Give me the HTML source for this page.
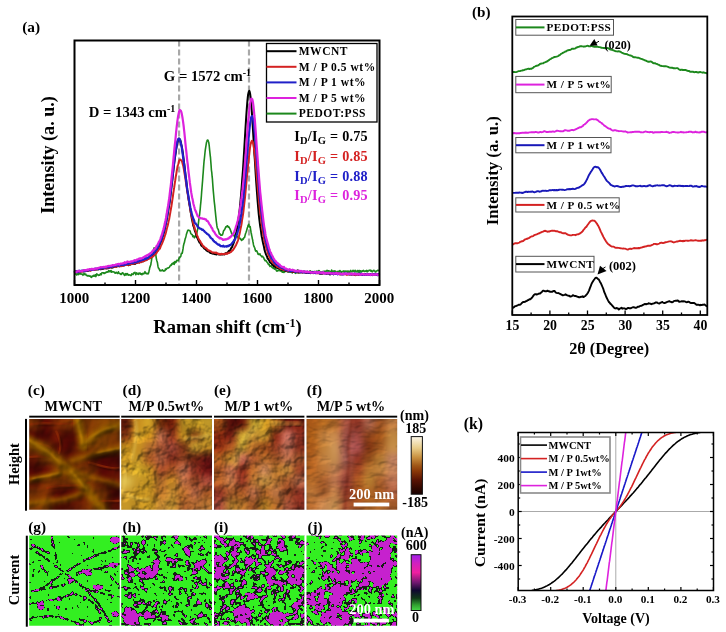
<!DOCTYPE html><html><head><meta charset="utf-8"><style>html,body{margin:0;padding:0;background:#fff;}svg{display:block;font-family:"Liberation Serif",serif;filter:blur(0.3px);}</style></head><body>
<svg width="726" height="632" viewBox="0 0 726 632">
<rect width="726" height="632" fill="#fff"/>
<text x="22.2" y="32.3" font-size="15.4" text-anchor="start" font-weight="bold" fill="#000" >(a)</text>
<line x1="179.1" y1="40.5" x2="179.1" y2="285" stroke="#a8a8a8" stroke-width="2.2" stroke-dasharray="6,3"/>
<line x1="249.0" y1="40.5" x2="249.0" y2="285" stroke="#a8a8a8" stroke-width="2.2" stroke-dasharray="6,3"/>
<path d="M74.5 274.1L74.8 274.0L75.1 274.0L75.4 273.5L75.7 273.5L76.0 274.0L76.3 274.5L76.6 274.9L76.9 274.6L77.2 274.6L77.5 274.3L77.9 273.6L78.2 273.7L78.5 273.8L78.8 274.6L79.1 273.7L79.4 272.9L79.7 272.4L80.0 272.8L80.3 273.6L80.6 273.9L80.9 274.2L81.2 273.9L81.5 274.0L81.8 274.0L82.1 274.0L82.4 274.5L82.7 274.6L83.0 275.3L83.3 274.4L83.7 274.0L84.0 273.5L84.3 273.7L84.6 274.3L84.9 274.6L85.2 274.6L85.5 274.2L85.8 274.1L86.1 274.9L86.4 275.2L86.7 275.6L87.0 275.6L87.3 275.5L87.6 275.6L87.9 276.1L88.2 276.0L88.5 276.0L88.8 275.5L89.1 276.0L89.4 276.3L89.8 276.3L90.1 276.0L90.4 276.1L90.7 276.4L91.0 277.2L91.3 277.4L91.6 277.3L91.9 277.0L92.2 276.0L92.5 276.1L92.8 275.9L93.1 276.2L93.4 275.5L93.7 275.3L94.0 275.3L94.3 276.2L94.6 275.7L94.9 275.3L95.2 274.8L95.5 276.0L95.8 276.6L96.2 275.7L96.5 274.1L96.8 273.9L97.1 274.2L97.4 274.6L97.7 274.7L98.0 275.2L98.3 275.5L98.6 275.1L98.9 274.8L99.2 275.2L99.5 275.2L99.8 275.1L100.1 274.6L100.4 273.7L100.7 273.9L101.0 274.0L101.3 274.7L101.6 273.4L102.0 272.7L102.3 272.7L102.6 272.7L102.9 272.8L103.2 272.7L103.5 272.8L103.8 273.4L104.1 273.1L104.4 273.4L104.7 272.9L105.0 272.8L105.3 272.8L105.6 273.0L105.9 272.4L106.2 272.1L106.5 272.0L106.8 272.1L107.1 271.8L107.4 271.7L107.7 272.1L108.0 272.2L108.4 271.3L108.7 270.6L109.0 270.7L109.3 271.0L109.6 271.6L109.9 271.2L110.2 271.8L110.5 270.8L110.8 270.9L111.1 270.6L111.4 271.5L111.7 272.2L112.0 272.1L112.3 271.8L112.6 271.6L112.9 271.8L113.2 271.7L113.5 271.9L113.8 272.0L114.2 272.1L114.5 272.4L114.8 272.5L115.1 273.3L115.4 273.2L115.7 273.0L116.0 272.2L116.3 272.2L116.6 272.8L116.9 272.9L117.2 273.1L117.5 273.5L117.8 272.8L118.1 272.3L118.4 271.8L118.7 272.9L119.0 273.5L119.3 273.3L119.6 273.5L119.9 273.6L120.2 273.6L120.6 274.3L120.9 274.4L121.2 274.4L121.5 273.5L121.8 273.4L122.1 273.6L122.4 272.7L122.7 272.7L123.0 273.1L123.3 273.8L123.6 274.0L123.9 274.0L124.2 274.9L124.5 275.5L124.8 274.6L125.1 274.2L125.4 273.6L125.7 274.5L126.0 275.0L126.3 274.2L126.7 274.4L127.0 273.5L127.3 274.8L127.6 273.8L127.9 274.4L128.2 274.6L128.5 275.1L128.8 275.1L129.1 274.9L129.4 275.0L129.7 274.8L130.0 275.0L130.3 275.3L130.6 275.2L130.9 275.6L131.2 274.7L131.5 275.1L131.8 273.9L132.1 274.3L132.4 274.2L132.8 274.3L133.1 274.4L133.4 273.6L133.7 272.9L134.0 272.8L134.3 273.0L134.6 273.1L134.9 272.3L135.2 273.1L135.5 273.7L135.8 274.8L136.1 274.0L136.4 273.7L136.7 272.7L137.0 273.3L137.3 273.9L137.6 274.0L137.9 274.2L138.2 274.0L138.6 274.3L138.9 273.0L139.2 273.1L139.5 273.1L139.8 273.6L140.1 273.2L140.4 273.4L140.7 274.2L141.0 273.7L141.3 273.9L141.6 273.9L141.9 274.8L142.2 274.3L142.5 273.5L142.8 273.4L143.1 273.5L143.4 273.8L143.7 273.9L144.0 273.8L144.3 272.9L144.7 272.2L145.0 271.6L145.3 272.8L145.6 273.0L145.9 273.4L146.2 273.1L146.5 273.3L146.8 273.5L147.1 273.9L147.4 273.4L147.7 273.6L148.0 273.5L148.3 273.8L148.6 272.8L148.9 272.0L149.2 270.1L149.5 269.2L149.8 267.1L150.1 267.0L150.4 265.6L150.8 264.8L151.1 262.6L151.4 261.2L151.7 259.0L152.0 257.2L152.3 255.9L152.6 254.3L152.9 252.7L153.2 251.1L153.5 249.9L153.8 248.6L154.1 247.8L154.4 248.5L154.7 248.9L155.0 249.9L155.3 251.2L155.6 253.7L155.9 255.7L156.2 257.6L156.5 259.3L156.8 260.7L157.2 261.7L157.5 263.0L157.8 265.3L158.1 266.9L158.4 268.0L158.7 268.2L159.0 268.6L159.3 269.5L159.6 269.7L159.9 270.7L160.2 270.1L160.5 270.8L160.8 270.4L161.1 270.6L161.4 270.7L161.7 270.7L162.0 270.5L162.3 269.8L162.6 269.9L162.9 270.4L163.3 270.9L163.6 270.9L163.9 271.1L164.2 270.8L164.5 270.8L164.8 270.6L165.1 270.5L165.4 269.0L165.7 268.9L166.0 269.0L166.3 269.4L166.6 268.7L166.9 268.7L167.2 268.0L167.5 268.1L167.8 268.0L168.1 268.1L168.4 267.9L168.7 267.5L169.1 267.5L169.4 267.2L169.7 266.6L170.0 266.1L170.3 265.6L170.6 265.1L170.9 265.5L171.2 265.3L171.5 264.9L171.8 264.0L172.1 263.6L172.4 263.8L172.7 264.0L173.0 263.5L173.3 262.7L173.6 263.4L173.9 263.9L174.2 264.3L174.5 262.1L174.8 261.7L175.2 261.5L175.5 262.8L175.8 262.5L176.1 262.1L176.4 261.5L176.7 260.4L177.0 260.6L177.3 260.3L177.6 260.5L177.9 260.3L178.2 260.6L178.5 260.0L178.8 258.9L179.1 258.0L179.4 258.1L179.7 257.7L180.0 256.8L180.3 256.9L180.6 256.8L180.9 256.0L181.2 253.9L181.6 253.3L181.9 253.2L182.2 253.4L182.5 252.0L182.8 250.1L183.1 248.4L183.4 246.0L183.7 244.7L184.0 243.3L184.3 242.9L184.6 241.5L184.9 240.1L185.2 238.8L185.5 237.9L185.8 236.9L186.1 235.7L186.4 234.3L186.7 233.4L187.0 232.5L187.3 231.7L187.7 230.6L188.0 230.1L188.3 230.1L188.6 230.3L188.9 230.3L189.2 230.5L189.5 230.7L189.8 230.6L190.1 231.1L190.4 232.1L190.7 233.3L191.0 233.7L191.3 234.1L191.6 234.3L191.9 234.3L192.2 234.7L192.5 235.3L192.8 236.7L193.1 236.7L193.4 236.4L193.8 235.9L194.1 237.0L194.4 237.8L194.7 237.5L195.0 236.4L195.3 236.3L195.6 236.4L195.9 236.0L196.2 235.5L196.5 234.5L196.8 233.3L197.1 231.6L197.4 230.4L197.7 229.1L198.0 227.4L198.3 224.3L198.6 221.7L198.9 219.2L199.2 216.9L199.6 214.6L199.9 211.7L200.2 209.1L200.5 205.4L200.8 202.7L201.1 199.4L201.4 195.8L201.7 191.2L202.0 187.9L202.3 184.1L202.6 180.5L202.9 176.1L203.2 172.5L203.5 168.1L203.8 164.2L204.1 160.8L204.4 158.4L204.7 155.5L205.0 152.5L205.3 149.8L205.7 147.4L206.0 145.5L206.3 143.6L206.6 142.0L206.9 141.2L207.2 140.3L207.5 140.0L207.8 140.0L208.1 140.4L208.4 141.5L208.7 142.1L209.0 144.1L209.3 146.5L209.6 149.9L209.9 152.7L210.2 155.3L210.5 157.7L210.8 161.7L211.1 165.5L211.4 170.0L211.8 172.7L212.1 176.2L212.4 178.9L212.7 183.3L213.0 187.4L213.3 191.1L213.6 194.3L213.9 197.7L214.2 201.1L214.5 203.7L214.8 206.2L215.1 209.5L215.4 212.4L215.7 215.4L216.0 218.1L216.3 221.1L216.6 223.3L216.9 225.7L217.2 227.5L217.5 228.3L217.8 228.9L218.2 229.3L218.5 230.5L218.8 231.6L219.1 232.8L219.4 234.0L219.7 234.0L220.0 234.0L220.3 234.1L220.6 234.9L220.9 235.3L221.2 235.3L221.5 235.0L221.8 235.2L222.1 235.1L222.4 235.0L222.7 234.0L223.0 233.3L223.3 231.7L223.6 230.9L223.9 230.3L224.3 230.0L224.6 229.7L224.9 229.0L225.2 228.4L225.5 227.5L225.8 226.8L226.1 227.0L226.4 226.9L226.7 226.7L227.0 226.1L227.3 225.7L227.6 225.8L227.9 226.6L228.2 227.1L228.5 227.2L228.8 226.9L229.1 227.2L229.4 227.8L229.7 228.5L230.1 229.2L230.4 229.9L230.7 230.9L231.0 231.7L231.3 232.3L231.6 233.6L231.9 233.7L232.2 234.6L232.5 234.1L232.8 235.0L233.1 234.0L233.4 233.9L233.7 233.8L234.0 235.0L234.3 236.3L234.6 236.5L234.9 236.9L235.2 236.5L235.5 236.8L235.8 236.7L236.2 236.5L236.5 236.5L236.8 236.1L237.1 236.7L237.4 236.3L237.7 237.0L238.0 237.5L238.3 238.0L238.6 238.1L238.9 237.9L239.2 238.2L239.5 238.1L239.8 238.0L240.1 238.4L240.4 239.2L240.7 239.0L241.0 239.6L241.3 240.0L241.6 240.4L241.9 240.0L242.2 239.2L242.6 239.7L242.9 239.2L243.2 239.4L243.5 238.4L243.8 238.0L244.1 237.5L244.4 237.5L244.7 237.0L245.0 235.6L245.3 234.5L245.6 233.4L245.9 232.7L246.2 231.8L246.5 231.1L246.8 229.7L247.1 228.9L247.4 227.6L247.7 227.3L248.0 225.6L248.3 225.3L248.7 224.2L249.0 225.2L249.3 226.1L249.6 227.0L249.9 226.6L250.2 226.6L250.5 228.8L250.8 230.6L251.1 232.7L251.4 233.8L251.7 235.6L252.0 236.9L252.3 238.6L252.6 239.7L252.9 241.5L253.2 243.0L253.5 244.9L253.8 246.0L254.1 246.5L254.4 247.3L254.8 248.0L255.1 249.6L255.4 250.5L255.7 251.1L256.0 250.8L256.3 250.7L256.6 250.8L256.9 251.2L257.2 251.8L257.5 252.7L257.8 253.3L258.1 254.2L258.4 254.0L258.7 254.1L259.0 254.6L259.3 254.4L259.6 254.5L259.9 253.8L260.2 254.8L260.6 255.4L260.9 255.6L261.2 255.9L261.5 256.1L261.8 256.8L262.1 256.3L262.4 256.2L262.7 256.3L263.0 256.9L263.3 257.2L263.6 257.8L263.9 258.2L264.2 259.2L264.5 259.6L264.8 260.3L265.1 260.6L265.4 260.6L265.7 260.4L266.0 260.5L266.3 261.1L266.6 261.7L267.0 262.1L267.3 262.5L267.6 262.7L267.9 263.3L268.2 264.1L268.5 264.5L268.8 264.7L269.1 264.3L269.4 265.3L269.7 265.7L270.0 266.4L270.3 265.9L270.6 266.0L270.9 266.0L271.2 265.9L271.5 266.7L271.8 267.2L272.1 267.5L272.4 267.5L272.8 267.3L273.1 268.4L273.4 268.4L273.7 268.1L274.0 268.1L274.3 268.7L274.6 269.2L274.9 269.1L275.2 268.2L275.5 268.1L275.8 268.8L276.1 270.0L276.4 270.8L276.7 270.9L277.0 271.2L277.3 270.9L277.6 270.7L277.9 270.2L278.2 270.7L278.5 270.6L278.9 270.1L279.2 270.1L279.5 270.6L279.8 270.6L280.1 270.5L280.4 270.3L280.7 271.0L281.0 271.1L281.3 271.3L281.6 271.0L281.9 271.5L282.2 272.1L282.5 272.1L282.8 272.1L283.1 271.3L283.4 271.5L283.7 271.5L284.0 272.4L284.3 272.2L284.6 271.9L284.9 271.5L285.3 271.1L285.6 271.1L285.9 270.8L286.2 271.5L286.5 271.1L286.8 270.7L287.1 270.6L287.4 271.1L287.7 271.6L288.0 271.9L288.3 271.7L288.6 271.7L288.9 271.6L289.2 271.1L289.5 271.1L289.8 270.9L290.1 271.8L290.4 272.0L290.7 272.1L291.1 271.6L291.4 271.8L291.7 272.3L292.0 272.3L292.3 273.0L292.6 272.2L292.9 272.4L293.2 271.6L293.5 272.2L293.8 271.8L294.1 270.9L294.4 270.8L294.7 271.5L295.0 272.5L295.3 273.3L295.6 273.1L295.9 272.9L296.2 272.3L296.5 272.4L296.8 272.9L297.1 272.1L297.5 271.8L297.8 269.9L298.1 270.7L298.4 270.7L298.7 272.3L299.0 272.8L299.3 272.9L299.6 272.5L299.9 271.5L300.2 271.2L300.5 271.0L300.8 271.5L301.1 271.8L301.4 272.0L301.7 271.7L302.0 272.1L302.3 272.2L302.6 272.2L302.9 272.1L303.2 271.9L303.6 271.5L303.9 271.8L304.2 272.0L304.5 272.1L304.8 271.9L305.1 271.9L305.4 271.7L305.7 271.9L306.0 271.9L306.3 272.8L306.6 272.2L306.9 272.1L307.2 271.2L307.5 271.4L307.8 271.5L308.1 272.0L308.4 271.7L308.7 271.7L309.0 272.1L309.4 271.8L309.7 271.8L310.0 270.7L310.3 270.7L310.6 271.0L310.9 272.3L311.2 272.3L311.5 272.0L311.8 272.1L312.1 272.1L312.4 272.4L312.7 272.4L313.0 272.6L313.3 272.7L313.6 271.9L313.9 271.9L314.2 271.4L314.5 271.7L314.8 272.1L315.1 273.0L315.4 272.7L315.8 272.0L316.1 271.4L316.4 271.2L316.7 271.6L317.0 271.6L317.3 271.9L317.6 271.9L317.9 271.1L318.2 271.5L318.5 270.7L318.8 271.1L319.1 270.6L319.4 271.0L319.7 271.6L320.0 271.8L320.3 271.8L320.6 271.7L320.9 272.2L321.2 272.4L321.6 272.3L321.9 272.2L322.2 272.3L322.5 271.6L322.8 272.1L323.1 272.8L323.4 272.5L323.7 271.6L324.0 271.0L324.3 272.0L324.6 272.3L324.9 272.0L325.2 271.3L325.5 271.1L325.8 271.6L326.1 271.5L326.4 271.1L326.7 270.7L327.0 270.4L327.3 270.7L327.6 270.5L328.0 271.4L328.3 271.3L328.6 271.1L328.9 270.8L329.2 271.0L329.5 271.1L329.8 271.2L330.1 271.5L330.4 272.2L330.7 272.8L331.0 272.2L331.3 271.7L331.6 270.1L331.9 271.1L332.2 271.0L332.5 271.9L332.8 271.4L333.1 271.1L333.4 271.3L333.8 271.1L334.1 270.9L334.4 270.9L334.7 271.3L335.0 271.3L335.3 271.5L335.6 271.1L335.9 272.0L336.2 271.8L336.5 272.2L336.8 272.0L337.1 272.1L337.4 271.5L337.7 271.8L338.0 271.2L338.3 271.3L338.6 271.7L338.9 272.2L339.2 272.1L339.5 271.1L339.9 270.6L340.2 270.7L340.5 271.5L340.8 272.0L341.1 272.1L341.4 271.7L341.7 272.0L342.0 271.7L342.3 271.5L342.6 271.3L342.9 271.5L343.2 271.6L343.5 271.1L343.8 270.9L344.1 271.3L344.4 271.6L344.7 271.3L345.0 271.2L345.3 271.1L345.6 271.2L345.9 271.3L346.3 271.1L346.6 271.4L346.9 271.4L347.2 272.0L347.5 271.8L347.8 271.7L348.1 270.9L348.4 272.0L348.7 271.6L349.0 272.4L349.3 271.3L349.6 271.8L349.9 272.2L350.2 271.5L350.5 271.0L350.8 270.4L351.1 271.3L351.4 271.2L351.7 271.8L352.1 271.8L352.4 271.5L352.7 271.0L353.0 270.3L353.3 271.4L353.6 270.8L353.9 271.5L354.2 271.6L354.5 271.8L354.8 271.2L355.1 270.2L355.4 270.5L355.7 271.3L356.0 271.6L356.3 271.5L356.6 271.4L356.9 272.0L357.2 270.8L357.5 270.5L357.8 270.6L358.1 271.7L358.5 272.1L358.8 270.9L359.1 270.7L359.4 270.5L359.7 272.4L360.0 272.0L360.3 271.7L360.6 270.7L360.9 271.4L361.2 271.4L361.5 271.8L361.8 271.1L362.1 271.4L362.4 270.8L362.7 271.1L363.0 270.8L363.3 270.4L363.6 270.7L363.9 271.1L364.2 271.5L364.6 271.1L364.9 271.4L365.2 271.2L365.5 271.1L365.8 270.9L366.1 271.5L366.4 271.4L366.7 270.4L367.0 270.7L367.3 270.9L367.6 271.7L367.9 271.1L368.2 271.1L368.5 270.9L368.8 270.7L369.1 270.3L369.4 270.2L369.7 270.4L370.0 270.2L370.4 270.7L370.7 270.4L371.0 271.1L371.3 270.5L371.6 271.1L371.9 271.3L372.2 271.8L372.5 271.4L372.8 270.9L373.1 270.9L373.4 270.5L373.7 270.3L374.0 270.3L374.3 270.7L374.6 271.0L374.9 271.2L375.2 271.6L375.5 271.9L375.8 271.9L376.1 271.5L376.4 271.1L376.8 270.8L377.1 270.8L377.4 270.7L377.7 270.2L378.0 270.2L378.3 270.2L378.6 270.5L378.9 270.6L379.2 270.8L379.5 271.3" fill="none" stroke="#1c881c" stroke-width="1.6" stroke-linejoin="round"/>
<path d="M74.5 272.6L74.8 272.0L75.1 271.9L75.4 271.3L75.7 271.8L76.0 272.2L76.3 272.1L76.6 271.9L76.9 271.6L77.2 271.8L77.5 271.9L77.9 271.4L78.2 271.6L78.5 271.5L78.8 271.8L79.1 271.5L79.4 271.5L79.7 271.4L80.0 271.5L80.3 271.3L80.6 271.0L80.9 270.9L81.2 271.0L81.5 271.4L81.8 271.2L82.1 271.2L82.4 271.1L82.7 271.2L83.0 271.4L83.3 271.5L83.7 271.4L84.0 270.8L84.3 270.6L84.6 271.0L84.9 271.3L85.2 271.3L85.5 270.9L85.8 270.7L86.1 270.6L86.4 270.5L86.7 270.3L87.0 270.0L87.3 270.5L87.6 271.0L87.9 271.0L88.2 270.5L88.5 270.2L88.8 270.2L89.1 270.4L89.4 270.3L89.8 270.3L90.1 270.2L90.4 270.1L90.7 270.3L91.0 270.0L91.3 270.0L91.6 270.0L91.9 269.9L92.2 269.6L92.5 269.2L92.8 269.0L93.1 269.2L93.4 269.4L93.7 269.6L94.0 269.8L94.3 269.7L94.6 269.6L94.9 269.3L95.2 269.0L95.5 269.0L95.8 269.2L96.2 269.5L96.5 269.5L96.8 269.3L97.1 269.4L97.4 269.3L97.7 269.4L98.0 269.3L98.3 269.3L98.6 269.4L98.9 269.2L99.2 269.0L99.5 268.7L99.8 268.6L100.1 268.8L100.4 269.2L100.7 269.3L101.0 269.1L101.3 269.0L101.6 269.0L102.0 269.1L102.3 268.7L102.6 268.4L102.9 268.3L103.2 268.6L103.5 268.7L103.8 268.5L104.1 268.1L104.4 268.0L104.7 267.9L105.0 268.2L105.3 268.1L105.6 268.2L105.9 268.3L106.2 268.5L106.5 268.5L106.8 268.1L107.1 267.9L107.4 268.1L107.7 268.2L108.0 268.3L108.4 268.0L108.7 267.9L109.0 267.7L109.3 267.7L109.6 267.8L109.9 267.5L110.2 267.4L110.5 267.2L110.8 267.3L111.1 267.2L111.4 267.3L111.7 267.6L112.0 267.7L112.3 267.6L112.6 267.0L112.9 267.1L113.2 267.1L113.5 267.2L113.8 266.7L114.2 266.7L114.5 266.5L114.8 266.6L115.1 266.6L115.4 266.8L115.7 266.7L116.0 266.5L116.3 266.7L116.6 266.5L116.9 266.3L117.2 266.0L117.5 265.9L117.8 266.0L118.1 265.9L118.4 266.0L118.7 266.0L119.0 266.0L119.3 266.1L119.6 266.3L119.9 266.3L120.2 266.0L120.6 265.9L120.9 265.8L121.2 265.9L121.5 265.8L121.8 265.4L122.1 265.3L122.4 265.1L122.7 265.5L123.0 265.4L123.3 265.5L123.6 265.6L123.9 265.5L124.2 265.3L124.5 264.7L124.8 264.4L125.1 264.3L125.4 264.5L125.7 264.7L126.0 264.6L126.3 264.3L126.7 264.5L127.0 264.6L127.3 264.7L127.6 264.6L127.9 264.8L128.2 265.1L128.5 265.2L128.8 264.9L129.1 264.6L129.4 264.7L129.7 264.8L130.0 264.7L130.3 264.4L130.6 264.2L130.9 264.2L131.2 264.0L131.5 263.7L131.8 263.5L132.1 263.3L132.4 263.7L132.8 263.7L133.1 263.7L133.4 263.7L133.7 263.7L134.0 263.5L134.3 263.5L134.6 263.4L134.9 264.0L135.2 263.4L135.5 263.3L135.8 263.0L136.1 263.2L136.4 263.0L136.7 263.1L137.0 262.7L137.3 262.4L137.6 262.0L137.9 262.1L138.2 262.1L138.6 262.3L138.9 262.3L139.2 262.3L139.5 262.1L139.8 261.9L140.1 261.9L140.4 262.0L140.7 262.0L141.0 261.8L141.3 261.8L141.6 261.6L141.9 261.6L142.2 261.5L142.5 261.4L142.8 261.3L143.1 260.9L143.4 261.0L143.7 260.7L144.0 260.6L144.3 260.4L144.7 260.1L145.0 260.4L145.3 260.1L145.6 260.0L145.9 259.7L146.2 259.7L146.5 259.6L146.8 259.3L147.1 259.3L147.4 259.1L147.7 259.0L148.0 258.4L148.3 258.4L148.6 258.2L148.9 258.1L149.2 257.8L149.5 257.6L149.8 257.9L150.1 257.5L150.4 257.4L150.8 257.0L151.1 257.3L151.4 256.8L151.7 256.7L152.0 256.0L152.3 255.6L152.6 255.4L152.9 255.3L153.2 255.4L153.5 255.0L153.8 254.5L154.1 253.7L154.4 253.1L154.7 252.7L155.0 252.5L155.3 252.3L155.6 252.0L155.9 251.7L156.2 251.2L156.5 250.7L156.8 250.3L157.2 249.9L157.5 249.5L157.8 248.9L158.1 248.0L158.4 247.5L158.7 247.0L159.0 246.8L159.3 245.7L159.6 245.0L159.9 244.1L160.2 243.5L160.5 242.7L160.8 242.0L161.1 241.6L161.4 241.1L161.7 240.0L162.0 238.7L162.3 237.6L162.6 236.9L162.9 236.1L163.3 234.7L163.6 233.6L163.9 232.6L164.2 231.6L164.5 230.2L164.8 228.9L165.1 227.6L165.4 226.2L165.7 224.4L166.0 222.8L166.3 221.5L166.6 220.2L166.9 218.6L167.2 216.8L167.5 215.0L167.8 213.0L168.1 211.3L168.4 209.6L168.7 207.7L169.1 205.8L169.4 203.7L169.7 201.7L170.0 199.2L170.3 197.0L170.6 194.5L170.9 192.0L171.2 189.1L171.5 186.7L171.8 184.4L172.1 182.1L172.4 179.5L172.7 176.6L173.0 174.0L173.3 171.1L173.6 168.7L173.9 166.0L174.2 163.5L174.5 160.8L174.8 158.3L175.2 156.2L175.5 154.2L175.8 152.0L176.1 149.9L176.4 148.0L176.7 146.4L177.0 144.4L177.3 142.8L177.6 141.5L177.9 140.8L178.2 140.0L178.5 139.2L178.8 138.8L179.1 138.5L179.4 139.0L179.7 139.1L180.0 139.8L180.3 140.2L180.6 141.3L180.9 142.7L181.2 144.3L181.6 146.0L181.9 147.5L182.2 149.0L182.5 150.8L182.8 152.8L183.1 155.0L183.4 157.5L183.7 159.8L184.0 162.3L184.3 164.5L184.6 166.8L184.9 169.5L185.2 172.4L185.5 175.3L185.8 177.6L186.1 179.5L186.4 182.0L186.7 184.8L187.0 187.7L187.3 190.2L187.7 192.5L188.0 194.9L188.3 196.9L188.6 199.1L188.9 201.1L189.2 203.0L189.5 204.8L189.8 206.4L190.1 208.4L190.4 210.4L190.7 212.2L191.0 213.6L191.3 215.3L191.6 217.1L191.9 219.1L192.2 220.2L192.5 221.7L192.8 223.1L193.1 224.9L193.4 226.0L193.8 226.9L194.1 227.7L194.4 229.0L194.7 230.2L195.0 231.2L195.3 231.8L195.6 232.7L195.9 233.5L196.2 234.7L196.5 235.4L196.8 236.5L197.1 237.4L197.4 238.0L197.7 238.6L198.0 239.3L198.3 240.0L198.6 240.6L198.9 241.2L199.2 242.0L199.6 242.6L199.9 242.7L200.2 242.9L200.5 243.3L200.8 244.1L201.1 245.1L201.4 245.4L201.7 245.9L202.0 246.0L202.3 246.3L202.6 246.4L202.9 246.6L203.2 247.1L203.5 247.6L203.8 247.9L204.1 248.2L204.4 248.6L204.7 248.7L205.0 249.0L205.3 249.2L205.7 249.5L206.0 249.8L206.3 250.2L206.6 250.5L206.9 250.7L207.2 250.8L207.5 250.9L207.8 251.3L208.1 251.1L208.4 251.5L208.7 251.4L209.0 251.6L209.3 251.9L209.6 252.0L209.9 252.6L210.2 252.5L210.5 253.0L210.8 252.7L211.1 252.9L211.4 253.1L211.8 253.3L212.1 253.2L212.4 253.5L212.7 253.6L213.0 253.7L213.3 253.3L213.6 253.4L213.9 253.6L214.2 253.8L214.5 254.1L214.8 254.1L215.1 254.2L215.4 254.2L215.7 254.2L216.0 254.3L216.3 254.4L216.6 254.5L216.9 254.2L217.2 253.8L217.5 253.8L217.8 254.0L218.2 254.0L218.5 254.3L218.8 254.5L219.1 254.6L219.4 254.5L219.7 254.0L220.0 254.4L220.3 254.3L220.6 254.6L220.9 254.5L221.2 254.6L221.5 254.6L221.8 254.6L222.1 254.4L222.4 254.5L222.7 254.2L223.0 254.3L223.3 253.9L223.6 254.0L223.9 254.2L224.3 254.4L224.6 254.2L224.9 253.9L225.2 253.6L225.5 253.4L225.8 253.2L226.1 253.3L226.4 253.4L226.7 253.4L227.0 252.9L227.3 252.5L227.6 252.5L227.9 252.5L228.2 252.2L228.5 251.4L228.8 250.9L229.1 251.1L229.4 250.9L229.7 250.8L230.1 250.0L230.4 249.8L230.7 249.3L231.0 248.6L231.3 247.9L231.6 247.7L231.9 247.2L232.2 246.9L232.5 245.7L232.8 245.0L233.1 244.2L233.4 243.8L233.7 242.8L234.0 241.9L234.3 240.9L234.6 239.9L234.9 238.8L235.2 237.4L235.5 236.1L235.8 234.7L236.2 233.0L236.5 231.6L236.8 229.9L237.1 228.3L237.4 226.5L237.7 224.8L238.0 223.0L238.3 221.1L238.6 218.5L238.9 216.0L239.2 213.5L239.5 211.0L239.8 208.5L240.1 205.2L240.4 202.1L240.7 198.7L241.0 195.5L241.3 191.7L241.6 188.0L241.9 183.9L242.2 179.6L242.6 174.9L242.9 170.7L243.2 166.2L243.5 161.5L243.8 156.4L244.1 151.5L244.4 146.5L244.7 141.5L245.0 136.4L245.3 131.5L245.6 126.5L245.9 121.7L246.2 117.1L246.5 112.8L246.8 108.6L247.1 104.9L247.4 101.1L247.7 98.0L248.0 95.3L248.3 93.7L248.7 92.1L249.0 91.3L249.3 90.9L249.6 91.5L249.9 92.7L250.2 94.3L250.5 96.6L250.8 98.9L251.1 101.9L251.4 105.6L251.7 109.8L252.0 114.5L252.3 118.9L252.6 123.8L252.9 128.5L253.2 133.7L253.5 138.8L253.8 144.3L254.1 149.4L254.4 154.3L254.8 159.1L255.1 164.2L255.4 169.3L255.7 174.2L256.0 178.7L256.3 183.1L256.6 187.3L256.9 191.4L257.2 195.5L257.5 199.6L257.8 203.2L258.1 206.9L258.4 210.2L258.7 213.6L259.0 216.5L259.3 219.1L259.6 221.5L259.9 223.9L260.2 226.2L260.6 228.4L260.9 230.5L261.2 233.0L261.5 235.0L261.8 236.9L262.1 238.1L262.4 239.7L262.7 241.2L263.0 242.8L263.3 244.1L263.6 245.1L263.9 246.6L264.2 248.0L264.5 249.8L264.8 250.8L265.1 251.8L265.4 252.6L265.7 253.5L266.0 254.4L266.3 254.9L266.6 255.6L267.0 256.5L267.3 257.4L267.6 258.4L267.9 258.7L268.2 259.1L268.5 259.3L268.8 260.0L269.1 260.3L269.4 261.0L269.7 261.5L270.0 262.3L270.3 262.5L270.6 262.9L270.9 262.9L271.2 263.3L271.5 263.3L271.8 263.9L272.1 264.5L272.4 264.9L272.8 264.9L273.1 264.9L273.4 265.6L273.7 266.1L274.0 266.3L274.3 265.9L274.6 265.8L274.9 266.3L275.2 267.0L275.5 267.3L275.8 267.2L276.1 267.0L276.4 266.9L276.7 267.3L277.0 267.4L277.3 268.0L277.6 267.7L277.9 267.8L278.2 267.8L278.5 268.1L278.9 268.5L279.2 268.6L279.5 268.7L279.8 268.8L280.1 269.0L280.4 269.0L280.7 269.3L281.0 269.3L281.3 269.8L281.6 269.4L281.9 269.3L282.2 269.2L282.5 269.7L282.8 269.7L283.1 269.7L283.4 269.3L283.7 269.6L284.0 269.9L284.3 270.0L284.6 270.0L284.9 270.1L285.3 270.7L285.6 271.0L285.9 270.9L286.2 270.6L286.5 270.4L286.8 270.4L287.1 270.7L287.4 270.9L287.7 271.3L288.0 271.4L288.3 271.3L288.6 271.3L288.9 271.4L289.2 271.6L289.5 271.3L289.8 270.9L290.1 270.8L290.4 271.1L290.7 271.2L291.1 271.2L291.4 271.1L291.7 271.3L292.0 271.6L292.3 271.7L292.6 271.9L292.9 271.7L293.2 271.8L293.5 271.5L293.8 271.7L294.1 271.6L294.4 271.8L294.7 271.9L295.0 271.9L295.3 272.1L295.6 272.1L295.9 272.1L296.2 271.9L296.5 271.7L296.8 271.6L297.1 271.7L297.5 271.8L297.8 272.3L298.1 272.5L298.4 272.6L298.7 272.1L299.0 271.9L299.3 271.7L299.6 271.9L299.9 271.9L300.2 272.2L300.5 272.1L300.8 272.4L301.1 271.9L301.4 272.0L301.7 271.9L302.0 272.3L302.3 272.4L302.6 272.4L302.9 272.4L303.2 272.1L303.6 271.9L303.9 271.6L304.2 272.0L304.5 272.1L304.8 272.5L305.1 272.3L305.4 272.2L305.7 272.5L306.0 272.9L306.3 273.0L306.6 272.9L306.9 272.4L307.2 272.2L307.5 271.9L307.8 272.0L308.1 272.3L308.4 272.4L308.7 273.0L309.0 273.0L309.4 273.0L309.7 272.6L310.0 272.7L310.3 272.8L310.6 273.1L310.9 272.9L311.2 272.8L311.5 272.5L311.8 272.8L312.1 272.5L312.4 272.3L312.7 271.9L313.0 272.3L313.3 272.6L313.6 272.9L313.9 272.5L314.2 272.5L314.5 272.3L314.8 272.5L315.1 272.4L315.4 272.7L315.8 273.0L316.1 273.1L316.4 273.1L316.7 273.0L317.0 273.0L317.3 272.9L317.6 273.1L317.9 273.1L318.2 273.1L318.5 273.0L318.8 272.9L319.1 273.3L319.4 273.4L319.7 273.6L320.0 273.6L320.3 273.8L320.6 273.5L320.9 273.2L321.2 273.2L321.6 273.7L321.9 273.8L322.2 273.8L322.5 273.4L322.8 273.1L323.1 273.0L323.4 273.3L323.7 273.2L324.0 273.2L324.3 273.0L324.6 273.2L324.9 273.3L325.2 273.4L325.5 273.2L325.8 273.3L326.1 273.6L326.4 273.8L326.7 273.8L327.0 273.6L327.3 273.7L327.6 273.7L328.0 273.5L328.3 273.5L328.6 273.6L328.9 273.6L329.2 273.8L329.5 274.0L329.8 274.4L330.1 274.4L330.4 274.2L330.7 273.9L331.0 273.5L331.3 273.3L331.6 273.4L331.9 273.5L332.2 273.7L332.5 273.4L332.8 273.8L333.1 274.0L333.4 274.3L333.8 274.1L334.1 273.8L334.4 273.9L334.7 273.8L335.0 273.7L335.3 273.5L335.6 273.6L335.9 273.6L336.2 273.8L336.5 273.7L336.8 273.7L337.1 273.7L337.4 273.9L337.7 273.7L338.0 273.8L338.3 273.9L338.6 274.1L338.9 274.0L339.2 273.8L339.5 273.7L339.9 273.9L340.2 274.2L340.5 274.2L340.8 274.0L341.1 273.8L341.4 273.9L341.7 273.9L342.0 273.7L342.3 273.7L342.6 273.9L342.9 273.8L343.2 273.7L343.5 273.7L343.8 273.7L344.1 273.9L344.4 273.9L344.7 274.0L345.0 273.9L345.3 273.8L345.6 273.8L345.9 274.0L346.3 273.9L346.6 274.1L346.9 273.8L347.2 273.9L347.5 273.8L347.8 274.2L348.1 274.1L348.4 274.2L348.7 274.0L349.0 274.2L349.3 274.4L349.6 274.4L349.9 274.4L350.2 274.0L350.5 274.2L350.8 274.3L351.1 274.5L351.4 274.2L351.7 274.1L352.1 274.2L352.4 274.6L352.7 274.6L353.0 274.2L353.3 273.9L353.6 274.0L353.9 274.1L354.2 274.4L354.5 274.5L354.8 274.8L355.1 274.8L355.4 274.5L355.7 274.2L356.0 274.0L356.3 274.0L356.6 274.2L356.9 274.4L357.2 274.4L357.5 274.4L357.8 274.4L358.1 274.4L358.5 274.7L358.8 274.7L359.1 274.7L359.4 274.4L359.7 274.2L360.0 274.4L360.3 274.5L360.6 274.4L360.9 274.1L361.2 274.1L361.5 274.2L361.8 274.5L362.1 274.3L362.4 274.5L362.7 274.3L363.0 274.3L363.3 274.3L363.6 274.2L363.9 274.5L364.2 274.4L364.6 274.5L364.9 274.2L365.2 274.1L365.5 274.2L365.8 274.6L366.1 274.7L366.4 274.5L366.7 274.5L367.0 274.2L367.3 274.2L367.6 274.2L367.9 274.6L368.2 274.5L368.5 274.2L368.8 274.3L369.1 274.5L369.4 274.6L369.7 274.4L370.0 274.5L370.4 274.3L370.7 274.4L371.0 274.4L371.3 274.5L371.6 274.5L371.9 274.1L372.2 274.6L372.5 274.5L372.8 275.1L373.1 274.9L373.4 274.8L373.7 274.6L374.0 274.6L374.3 274.5L374.6 274.3L374.9 274.4L375.2 274.4L375.5 274.5L375.8 274.6L376.1 274.8L376.4 275.0L376.8 274.8L377.1 275.0L377.4 274.7L377.7 274.9L378.0 274.4L378.3 274.5L378.6 274.4L378.9 274.6L379.2 274.5L379.5 274.4" fill="none" stroke="#000" stroke-width="2.0" stroke-linejoin="round"/>
<path d="M74.5 271.9L74.8 271.6L75.1 271.5L75.4 271.5L75.7 271.7L76.0 271.6L76.3 271.6L76.6 271.8L76.9 271.9L77.2 271.8L77.5 271.8L77.9 272.0L78.2 272.2L78.5 272.1L78.8 271.9L79.1 271.7L79.4 271.6L79.7 271.6L80.0 271.5L80.3 271.4L80.6 271.5L80.9 271.4L81.2 271.5L81.5 271.3L81.8 271.5L82.1 271.4L82.4 271.5L82.7 271.5L83.0 271.1L83.3 270.8L83.7 270.5L84.0 270.7L84.3 271.1L84.6 271.0L84.9 270.9L85.2 270.5L85.5 270.6L85.8 270.5L86.1 270.7L86.4 270.8L86.7 270.9L87.0 270.6L87.3 270.7L87.6 270.6L87.9 270.7L88.2 270.6L88.5 270.4L88.8 270.2L89.1 270.0L89.4 269.9L89.8 270.5L90.1 270.5L90.4 270.8L90.7 270.3L91.0 270.4L91.3 270.2L91.6 270.0L91.9 270.1L92.2 270.0L92.5 269.8L92.8 269.8L93.1 269.7L93.4 270.0L93.7 270.1L94.0 269.9L94.3 269.9L94.6 269.7L94.9 269.6L95.2 269.7L95.5 269.3L95.8 269.2L96.2 269.1L96.5 269.1L96.8 269.2L97.1 268.8L97.4 269.0L97.7 268.8L98.0 269.0L98.3 268.8L98.6 269.0L98.9 268.8L99.2 269.0L99.5 268.9L99.8 268.9L100.1 268.7L100.4 268.3L100.7 268.2L101.0 268.2L101.3 268.5L101.6 268.5L102.0 268.3L102.3 268.2L102.6 268.0L102.9 268.1L103.2 268.2L103.5 268.3L103.8 268.3L104.1 268.0L104.4 268.1L104.7 268.1L105.0 268.3L105.3 268.2L105.6 268.0L105.9 267.7L106.2 267.6L106.5 267.9L106.8 268.1L107.1 268.2L107.4 268.2L107.7 268.0L108.0 267.8L108.4 267.7L108.7 267.7L109.0 267.8L109.3 267.4L109.6 267.5L109.9 267.3L110.2 267.2L110.5 267.2L110.8 267.3L111.1 267.5L111.4 267.2L111.7 267.0L112.0 267.2L112.3 267.2L112.6 266.7L112.9 266.3L113.2 266.2L113.5 266.6L113.8 266.6L114.2 266.6L114.5 266.5L114.8 266.7L115.1 266.5L115.4 266.9L115.7 266.6L116.0 266.6L116.3 266.4L116.6 266.5L116.9 266.5L117.2 266.4L117.5 266.0L117.8 266.0L118.1 266.0L118.4 266.2L118.7 266.1L119.0 266.0L119.3 266.1L119.6 266.2L119.9 265.8L120.2 265.6L120.6 265.6L120.9 266.0L121.2 266.2L121.5 266.1L121.8 265.8L122.1 265.5L122.4 265.7L122.7 265.6L123.0 265.7L123.3 265.1L123.6 265.3L123.9 264.9L124.2 265.4L124.5 265.3L124.8 265.2L125.1 265.0L125.4 264.9L125.7 265.1L126.0 265.0L126.3 264.7L126.7 264.3L127.0 264.8L127.3 264.8L127.6 265.0L127.9 264.4L128.2 264.5L128.5 264.4L128.8 264.8L129.1 264.7L129.4 264.7L129.7 264.6L130.0 264.2L130.3 264.1L130.6 263.9L130.9 263.8L131.2 263.8L131.5 263.8L131.8 264.1L132.1 263.6L132.4 263.4L132.8 263.0L133.1 263.4L133.4 263.5L133.7 263.6L134.0 263.6L134.3 263.4L134.6 263.4L134.9 263.4L135.2 263.1L135.5 262.9L135.8 262.6L136.1 262.6L136.4 262.6L136.7 262.8L137.0 262.9L137.3 262.7L137.6 262.5L137.9 262.3L138.2 262.4L138.6 262.5L138.9 262.8L139.2 262.9L139.5 262.6L139.8 262.2L140.1 261.7L140.4 261.8L140.7 262.1L141.0 262.3L141.3 261.8L141.6 261.2L141.9 260.8L142.2 261.1L142.5 261.2L142.8 261.4L143.1 261.5L143.4 261.2L143.7 261.0L144.0 260.9L144.3 261.0L144.7 260.9L145.0 260.2L145.3 259.8L145.6 259.4L145.9 259.6L146.2 259.7L146.5 260.1L146.8 259.9L147.1 259.7L147.4 259.3L147.7 259.4L148.0 259.1L148.3 259.1L148.6 258.7L148.9 258.9L149.2 258.6L149.5 258.5L149.8 258.4L150.1 258.3L150.4 257.9L150.8 257.6L151.1 257.3L151.4 257.1L151.7 256.9L152.0 256.9L152.3 256.9L152.6 256.9L152.9 256.6L153.2 256.2L153.5 255.8L153.8 255.7L154.1 255.4L154.4 255.1L154.7 254.6L155.0 254.2L155.3 254.0L155.6 253.9L155.9 253.8L156.2 253.4L156.5 252.9L156.8 252.4L157.2 251.7L157.5 251.3L157.8 251.0L158.1 250.8L158.4 250.1L158.7 249.8L159.0 249.2L159.3 249.1L159.6 248.5L159.9 248.6L160.2 247.7L160.5 247.0L160.8 246.0L161.1 245.5L161.4 244.9L161.7 244.2L162.0 243.6L162.3 242.8L162.6 242.1L162.9 241.3L163.3 240.5L163.6 239.7L163.9 238.8L164.2 238.0L164.5 237.0L164.8 235.9L165.1 235.0L165.4 234.4L165.7 233.2L166.0 232.3L166.3 230.8L166.6 229.7L166.9 228.3L167.2 227.3L167.5 226.2L167.8 225.2L168.1 223.7L168.4 222.3L168.7 220.7L169.1 219.5L169.4 217.6L169.7 216.0L170.0 214.2L170.3 212.6L170.6 210.7L170.9 209.1L171.2 207.3L171.5 205.7L171.8 203.6L172.1 201.7L172.4 199.7L172.7 197.6L173.0 195.6L173.3 193.2L173.6 191.3L173.9 189.1L174.2 187.4L174.5 185.3L174.8 183.1L175.2 180.7L175.5 178.4L175.8 176.7L176.1 174.8L176.4 173.1L176.7 171.2L177.0 169.5L177.3 167.9L177.6 166.3L177.9 165.3L178.2 164.3L178.5 163.2L178.8 161.8L179.1 160.8L179.4 160.2L179.7 160.0L180.0 159.8L180.3 159.6L180.6 159.7L180.9 160.0L181.2 160.4L181.6 160.8L181.9 161.3L182.2 162.3L182.5 163.2L182.8 164.4L183.1 165.4L183.4 166.8L183.7 168.4L184.0 170.2L184.3 172.1L184.6 173.9L184.9 175.5L185.2 177.4L185.5 179.2L185.8 181.5L186.1 183.3L186.4 185.4L186.7 187.3L187.0 189.7L187.3 191.7L187.7 193.8L188.0 195.8L188.3 197.6L188.6 199.3L188.9 200.8L189.2 202.5L189.5 204.4L189.8 205.9L190.1 207.7L190.4 209.5L190.7 211.5L191.0 213.1L191.3 214.7L191.6 216.0L191.9 217.4L192.2 218.3L192.5 219.6L192.8 220.8L193.1 222.6L193.4 224.0L193.8 225.1L194.1 226.1L194.4 227.1L194.7 228.3L195.0 229.2L195.3 230.1L195.6 230.9L195.9 231.6L196.2 232.4L196.5 233.5L196.8 234.8L197.1 235.6L197.4 236.0L197.7 236.5L198.0 237.4L198.3 238.2L198.6 238.8L198.9 239.3L199.2 239.8L199.6 240.6L199.9 241.0L200.2 241.3L200.5 241.8L200.8 242.4L201.1 242.9L201.4 243.4L201.7 243.8L202.0 244.3L202.3 244.6L202.6 245.2L202.9 245.7L203.2 246.3L203.5 246.2L203.8 246.7L204.1 246.6L204.4 247.0L204.7 247.1L205.0 247.8L205.3 248.0L205.7 248.1L206.0 248.2L206.3 248.3L206.6 248.7L206.9 249.0L207.2 249.4L207.5 249.6L207.8 249.8L208.1 250.1L208.4 250.3L208.7 250.6L209.0 250.6L209.3 250.7L209.6 250.6L209.9 251.0L210.2 251.0L210.5 251.3L210.8 251.3L211.1 251.5L211.4 251.8L211.8 251.9L212.1 252.3L212.4 252.2L212.7 252.6L213.0 252.4L213.3 252.6L213.6 252.6L213.9 252.6L214.2 252.6L214.5 252.6L214.8 252.7L215.1 253.0L215.4 253.0L215.7 252.8L216.0 252.5L216.3 252.6L216.6 252.8L216.9 253.1L217.2 253.3L217.5 253.7L217.8 253.8L218.2 253.9L218.5 253.6L218.8 253.7L219.1 253.9L219.4 254.2L219.7 253.9L220.0 253.9L220.3 253.9L220.6 254.4L220.9 254.1L221.2 253.8L221.5 253.8L221.8 254.1L222.1 254.1L222.4 253.9L222.7 253.9L223.0 253.9L223.3 254.2L223.6 254.1L223.9 254.3L224.3 253.9L224.6 253.8L224.9 253.8L225.2 253.8L225.5 254.1L225.8 253.8L226.1 253.8L226.4 253.4L226.7 253.6L227.0 253.9L227.3 253.7L227.6 253.5L227.9 253.3L228.2 253.2L228.5 252.7L228.8 252.8L229.1 252.8L229.4 253.0L229.7 252.6L230.1 252.4L230.4 252.2L230.7 252.1L231.0 252.0L231.3 251.5L231.6 251.3L231.9 250.8L232.2 250.7L232.5 250.5L232.8 250.2L233.1 249.9L233.4 249.2L233.7 249.1L234.0 248.5L234.3 247.9L234.6 247.4L234.9 246.9L235.2 246.6L235.5 246.1L235.8 245.4L236.2 244.7L236.5 243.9L236.8 243.3L237.1 242.5L237.4 241.8L237.7 241.1L238.0 240.2L238.3 239.3L238.6 237.7L238.9 236.8L239.2 235.3L239.5 234.4L239.8 232.8L240.1 231.4L240.4 229.7L240.7 228.1L241.0 226.8L241.3 225.4L241.6 223.6L241.9 221.4L242.2 219.2L242.6 217.0L242.9 215.1L243.2 213.0L243.5 210.9L243.8 208.0L244.1 205.2L244.4 202.7L244.7 200.1L245.0 197.3L245.3 194.3L245.6 191.0L245.9 188.1L246.2 184.6L246.5 181.5L246.8 178.2L247.1 175.2L247.4 172.1L247.7 168.7L248.0 165.6L248.3 162.6L248.7 159.6L249.0 156.6L249.3 153.5L249.6 151.0L249.9 148.4L250.2 146.4L250.5 144.7L250.8 143.6L251.1 142.6L251.4 141.8L251.7 141.1L252.0 140.8L252.3 140.9L252.6 141.6L252.9 142.4L253.2 143.9L253.5 145.3L253.8 147.4L254.1 149.6L254.4 152.2L254.8 155.2L255.1 158.1L255.4 161.5L255.7 164.6L256.0 167.8L256.3 171.0L256.6 174.4L256.9 177.9L257.2 181.3L257.5 184.4L257.8 187.9L258.1 191.1L258.4 194.5L258.7 197.8L259.0 201.2L259.3 204.2L259.6 207.1L259.9 209.8L260.2 212.5L260.6 215.0L260.9 217.5L261.2 219.9L261.5 222.5L261.8 224.5L262.1 227.0L262.4 228.8L262.7 231.0L263.0 232.8L263.3 234.6L263.6 236.4L263.9 237.7L264.2 239.2L264.5 240.5L264.8 242.2L265.1 243.7L265.4 244.5L265.7 245.6L266.0 246.8L266.3 248.2L266.6 249.2L267.0 250.0L267.3 250.9L267.6 252.1L267.9 253.4L268.2 254.3L268.5 254.7L268.8 255.3L269.1 256.2L269.4 257.1L269.7 257.5L270.0 257.9L270.3 258.4L270.6 259.4L270.9 260.0L271.2 260.6L271.5 261.0L271.8 261.3L272.1 261.9L272.4 262.0L272.8 262.5L273.1 262.8L273.4 263.1L273.7 263.3L274.0 263.3L274.3 263.7L274.6 264.1L274.9 264.6L275.2 264.9L275.5 264.9L275.8 265.2L276.1 265.4L276.4 265.9L276.7 266.2L277.0 266.7L277.3 266.9L277.6 266.8L277.9 266.7L278.2 267.0L278.5 267.4L278.9 267.5L279.2 267.8L279.5 267.7L279.8 268.1L280.1 268.2L280.4 268.5L280.7 268.9L281.0 268.9L281.3 268.9L281.6 268.8L281.9 269.1L282.2 269.1L282.5 269.2L282.8 269.0L283.1 269.4L283.4 269.7L283.7 269.9L284.0 269.9L284.3 269.8L284.6 269.5L284.9 269.7L285.3 269.9L285.6 270.4L285.9 270.3L286.2 270.2L286.5 270.3L286.8 270.6L287.1 270.8L287.4 271.1L287.7 270.6L288.0 270.6L288.3 270.5L288.6 270.9L288.9 270.8L289.2 270.7L289.5 270.9L289.8 271.0L290.1 271.0L290.4 270.7L290.7 270.8L291.1 271.1L291.4 271.4L291.7 271.2L292.0 271.4L292.3 271.2L292.6 271.5L292.9 271.5L293.2 271.6L293.5 271.6L293.8 271.3L294.1 271.2L294.4 271.3L294.7 271.3L295.0 271.6L295.3 271.8L295.6 271.7L295.9 272.0L296.2 271.8L296.5 272.1L296.8 271.7L297.1 272.0L297.5 271.9L297.8 272.0L298.1 272.2L298.4 272.3L298.7 272.1L299.0 271.9L299.3 271.8L299.6 271.9L299.9 271.9L300.2 272.1L300.5 272.1L300.8 272.2L301.1 272.2L301.4 272.0L301.7 272.1L302.0 272.1L302.3 272.4L302.6 272.2L302.9 272.4L303.2 272.3L303.6 272.0L303.9 271.7L304.2 271.5L304.5 272.2L304.8 272.1L305.1 272.4L305.4 272.4L305.7 272.8L306.0 272.7L306.3 272.5L306.6 272.5L306.9 272.4L307.2 272.6L307.5 272.7L307.8 272.7L308.1 272.5L308.4 272.3L308.7 272.4L309.0 272.3L309.4 272.2L309.7 272.1L310.0 272.3L310.3 272.5L310.6 272.2L310.9 272.2L311.2 272.2L311.5 272.7L311.8 272.5L312.1 272.5L312.4 272.5L312.7 272.9L313.0 273.1L313.3 273.2L313.6 273.0L313.9 272.9L314.2 272.7L314.5 272.8L314.8 272.9L315.1 272.9L315.4 272.9L315.8 272.7L316.1 272.6L316.4 272.9L316.7 273.0L317.0 273.4L317.3 273.3L317.6 273.2L317.9 273.2L318.2 273.0L318.5 273.0L318.8 272.9L319.1 273.0L319.4 273.3L319.7 273.2L320.0 273.3L320.3 273.1L320.6 273.0L320.9 272.8L321.2 272.8L321.6 273.1L321.9 273.3L322.2 273.4L322.5 273.4L322.8 273.3L323.1 273.3L323.4 273.1L323.7 273.0L324.0 272.9L324.3 272.9L324.6 273.0L324.9 272.9L325.2 273.1L325.5 273.2L325.8 273.2L326.1 273.2L326.4 273.0L326.7 273.1L327.0 273.1L327.3 273.4L327.6 273.0L328.0 273.0L328.3 273.0L328.6 273.0L328.9 273.1L329.2 273.1L329.5 273.5L329.8 273.3L330.1 273.4L330.4 273.4L330.7 273.5L331.0 273.6L331.3 273.5L331.6 273.7L331.9 273.5L332.2 273.6L332.5 273.6L332.8 273.9L333.1 273.9L333.4 273.8L333.8 273.6L334.1 273.7L334.4 273.7L334.7 273.8L335.0 273.8L335.3 273.8L335.6 273.4L335.9 273.4L336.2 273.5L336.5 273.8L336.8 273.7L337.1 273.9L337.4 273.8L337.7 273.9L338.0 273.6L338.3 273.7L338.6 273.6L338.9 273.6L339.2 273.8L339.5 274.2L339.9 274.5L340.2 274.4L340.5 274.3L340.8 273.9L341.1 273.9L341.4 274.0L341.7 274.3L342.0 273.9L342.3 273.9L342.6 274.0L342.9 274.2L343.2 274.1L343.5 274.0L343.8 274.1L344.1 274.2L344.4 274.1L344.7 274.3L345.0 274.1L345.3 273.9L345.6 273.7L345.9 274.1L346.3 274.4L346.6 274.7L346.9 274.4L347.2 274.7L347.5 274.6L347.8 274.3L348.1 274.1L348.4 273.7L348.7 273.8L349.0 273.9L349.3 273.9L349.6 274.0L349.9 274.0L350.2 274.5L350.5 274.3L350.8 274.1L351.1 273.7L351.4 273.6L351.7 273.8L352.1 274.4L352.4 274.4L352.7 274.5L353.0 274.3L353.3 274.4L353.6 274.5L353.9 274.1L354.2 274.2L354.5 273.9L354.8 274.6L355.1 274.8L355.4 275.2L355.7 274.9L356.0 274.8L356.3 274.6L356.6 274.7L356.9 274.6L357.2 274.4L357.5 274.3L357.8 274.0L358.1 274.4L358.5 274.4L358.8 274.2L359.1 274.0L359.4 274.1L359.7 274.4L360.0 274.6L360.3 274.6L360.6 274.6L360.9 274.2L361.2 274.2L361.5 274.2L361.8 274.3L362.1 274.8L362.4 274.9L362.7 274.8L363.0 274.6L363.3 274.7L363.6 274.9L363.9 274.8L364.2 274.8L364.6 274.8L364.9 274.9L365.2 274.9L365.5 275.0L365.8 274.7L366.1 274.6L366.4 274.3L366.7 274.5L367.0 274.6L367.3 274.7L367.6 274.6L367.9 274.9L368.2 275.1L368.5 274.9L368.8 274.5L369.1 274.4L369.4 274.6L369.7 274.7L370.0 274.7L370.4 274.8L370.7 274.6L371.0 274.5L371.3 274.5L371.6 274.7L371.9 274.5L372.2 274.3L372.5 274.1L372.8 274.1L373.1 274.2L373.4 274.0L373.7 274.2L374.0 274.2L374.3 274.5L374.6 274.4L374.9 274.2L375.2 274.5L375.5 274.3L375.8 274.8L376.1 274.5L376.4 274.7L376.8 274.6L377.1 274.7L377.4 274.4L377.7 274.2L378.0 274.2L378.3 274.6L378.6 274.8L378.9 274.9L379.2 274.7L379.5 274.8" fill="none" stroke="#d42222" stroke-width="2.0" stroke-linejoin="round"/>
<path d="M74.5 272.4L74.8 272.0L75.1 271.9L75.4 271.7L75.7 271.8L76.0 271.6L76.3 271.5L76.6 271.4L76.9 271.3L77.2 271.7L77.5 272.1L77.9 272.2L78.2 271.9L78.5 271.5L78.8 271.0L79.1 270.6L79.4 270.7L79.7 271.3L80.0 271.5L80.3 271.3L80.6 271.0L80.9 270.8L81.2 270.7L81.5 270.7L81.8 270.8L82.1 270.8L82.4 270.7L82.7 270.5L83.0 270.6L83.3 270.9L83.7 271.0L84.0 271.3L84.3 270.8L84.6 270.8L84.9 270.3L85.2 270.4L85.5 270.4L85.8 270.6L86.1 270.7L86.4 270.6L86.7 270.3L87.0 270.0L87.3 270.1L87.6 270.1L87.9 270.3L88.2 270.4L88.5 270.3L88.8 270.2L89.1 270.0L89.4 269.9L89.8 269.8L90.1 269.6L90.4 269.6L90.7 269.7L91.0 269.8L91.3 269.9L91.6 269.7L91.9 269.7L92.2 269.8L92.5 269.8L92.8 269.7L93.1 269.4L93.4 269.2L93.7 269.1L94.0 268.9L94.3 269.2L94.6 269.1L94.9 269.3L95.2 268.6L95.5 268.7L95.8 268.8L96.2 268.9L96.5 268.8L96.8 268.6L97.1 268.6L97.4 268.6L97.7 268.5L98.0 268.7L98.3 268.7L98.6 268.7L98.9 268.6L99.2 268.8L99.5 268.8L99.8 268.7L100.1 268.5L100.4 268.2L100.7 268.1L101.0 268.2L101.3 268.3L101.6 268.2L102.0 267.9L102.3 267.6L102.6 267.6L102.9 267.9L103.2 268.2L103.5 267.9L103.8 267.6L104.1 267.6L104.4 267.6L104.7 267.6L105.0 267.5L105.3 267.5L105.6 267.2L105.9 267.3L106.2 267.4L106.5 267.4L106.8 267.1L107.1 267.1L107.4 267.3L107.7 267.4L108.0 267.4L108.4 267.2L108.7 267.1L109.0 267.0L109.3 266.9L109.6 267.1L109.9 266.9L110.2 266.7L110.5 266.4L110.8 266.4L111.1 266.7L111.4 266.6L111.7 266.8L112.0 266.6L112.3 266.5L112.6 266.3L112.9 266.3L113.2 266.3L113.5 265.9L113.8 265.8L114.2 265.7L114.5 266.0L114.8 265.7L115.1 265.8L115.4 265.5L115.7 265.5L116.0 265.5L116.3 265.6L116.6 265.6L116.9 265.4L117.2 265.4L117.5 265.2L117.8 265.4L118.1 265.4L118.4 265.8L118.7 265.8L119.0 265.7L119.3 265.5L119.6 265.3L119.9 265.0L120.2 265.1L120.6 265.1L120.9 265.2L121.2 264.8L121.5 264.9L121.8 264.9L122.1 264.9L122.4 264.7L122.7 264.9L123.0 265.0L123.3 264.9L123.6 264.5L123.9 264.3L124.2 264.4L124.5 264.8L124.8 264.9L125.1 264.6L125.4 264.3L125.7 264.1L126.0 264.2L126.3 264.1L126.7 264.0L127.0 263.7L127.3 263.5L127.6 263.7L127.9 263.8L128.2 263.9L128.5 263.6L128.8 263.5L129.1 263.2L129.4 263.3L129.7 263.3L130.0 263.1L130.3 263.0L130.6 262.8L130.9 262.9L131.2 262.7L131.5 262.7L131.8 262.7L132.1 262.6L132.4 262.8L132.8 262.6L133.1 262.8L133.4 262.6L133.7 262.4L134.0 262.2L134.3 262.0L134.6 262.0L134.9 261.9L135.2 262.2L135.5 262.1L135.8 262.3L136.1 262.1L136.4 261.8L136.7 261.2L137.0 261.2L137.3 261.0L137.6 261.3L137.9 261.3L138.2 261.6L138.6 261.3L138.9 261.1L139.2 261.0L139.5 260.8L139.8 260.7L140.1 260.5L140.4 260.6L140.7 260.5L141.0 260.5L141.3 260.1L141.6 260.0L141.9 259.6L142.2 259.7L142.5 259.7L142.8 259.9L143.1 259.7L143.4 259.6L143.7 259.4L144.0 259.4L144.3 259.2L144.7 259.2L145.0 258.7L145.3 258.3L145.6 258.2L145.9 258.4L146.2 258.8L146.5 258.5L146.8 258.2L147.1 258.0L147.4 257.9L147.7 258.1L148.0 257.8L148.3 257.5L148.6 257.2L148.9 256.8L149.2 256.5L149.5 256.2L149.8 256.0L150.1 256.0L150.4 255.8L150.8 255.6L151.1 255.2L151.4 255.2L151.7 254.5L152.0 254.3L152.3 253.9L152.6 253.8L152.9 253.7L153.2 253.4L153.5 253.5L153.8 253.1L154.1 252.9L154.4 252.3L154.7 251.7L155.0 251.2L155.3 250.7L155.6 250.5L155.9 250.1L156.2 250.2L156.5 249.5L156.8 249.2L157.2 248.2L157.5 247.9L157.8 247.4L158.1 246.9L158.4 246.2L158.7 245.6L159.0 244.9L159.3 244.2L159.6 243.5L159.9 242.7L160.2 242.1L160.5 241.4L160.8 240.9L161.1 240.1L161.4 239.5L161.7 238.7L162.0 237.8L162.3 236.5L162.6 235.5L162.9 234.2L163.3 232.9L163.6 231.6L163.9 231.1L164.2 230.1L164.5 229.0L164.8 227.4L165.1 226.2L165.4 224.9L165.7 223.7L166.0 222.2L166.3 220.9L166.6 219.1L166.9 217.4L167.2 215.4L167.5 213.6L167.8 211.5L168.1 209.6L168.4 207.5L168.7 205.7L169.1 203.8L169.4 201.9L169.7 200.0L170.0 197.6L170.3 195.4L170.6 193.0L170.9 190.4L171.2 187.9L171.5 185.1L171.8 182.6L172.1 180.0L172.4 177.8L172.7 175.1L173.0 172.5L173.3 169.7L173.6 167.1L173.9 164.3L174.2 161.7L174.5 159.3L174.8 156.8L175.2 154.2L175.5 152.0L175.8 150.0L176.1 148.3L176.4 146.6L176.7 144.9L177.0 143.2L177.3 141.8L177.6 140.6L177.9 140.0L178.2 139.4L178.5 138.9L178.8 138.6L179.1 138.9L179.4 138.8L179.7 139.3L180.0 140.0L180.3 141.3L180.6 142.2L180.9 143.2L181.2 144.4L181.6 146.2L181.9 148.1L182.2 150.5L182.5 152.7L182.8 154.9L183.1 157.1L183.4 159.3L183.7 161.5L184.0 163.7L184.3 166.2L184.6 168.7L184.9 171.1L185.2 173.4L185.5 175.7L185.8 178.0L186.1 180.4L186.4 182.9L186.7 185.3L187.0 187.7L187.3 190.0L187.7 192.1L188.0 193.7L188.3 195.5L188.6 197.5L188.9 199.3L189.2 201.3L189.5 202.8L189.8 204.6L190.1 206.0L190.4 207.8L190.7 209.2L191.0 210.5L191.3 211.6L191.6 212.9L191.9 214.4L192.2 215.4L192.5 216.3L192.8 217.0L193.1 218.0L193.4 219.0L193.8 219.9L194.1 220.4L194.4 221.4L194.7 222.3L195.0 223.1L195.3 223.1L195.6 223.4L195.9 223.9L196.2 224.2L196.5 224.6L196.8 224.8L197.1 225.6L197.4 226.1L197.7 226.8L198.0 226.9L198.3 227.2L198.6 227.4L198.9 227.8L199.2 228.0L199.6 228.3L199.9 228.5L200.2 228.6L200.5 228.5L200.8 228.9L201.1 228.8L201.4 229.3L201.7 229.2L202.0 229.8L202.3 229.6L202.6 229.8L202.9 229.7L203.2 230.3L203.5 230.4L203.8 230.8L204.1 230.8L204.4 231.4L204.7 231.5L205.0 232.0L205.3 232.0L205.7 232.6L206.0 232.7L206.3 233.0L206.6 233.3L206.9 233.7L207.2 234.1L207.5 234.0L207.8 234.4L208.1 234.3L208.4 234.7L208.7 234.9L209.0 235.4L209.3 235.5L209.6 236.1L209.9 236.7L210.2 237.1L210.5 237.5L210.8 237.7L211.1 238.2L211.4 238.3L211.8 238.6L212.1 238.8L212.4 239.0L212.7 239.6L213.0 240.3L213.3 240.5L213.6 240.8L213.9 241.0L214.2 241.6L214.5 241.7L214.8 242.1L215.1 242.1L215.4 242.3L215.7 242.4L216.0 242.7L216.3 243.2L216.6 243.3L216.9 243.8L217.2 243.9L217.5 244.1L217.8 244.2L218.2 244.6L218.5 244.8L218.8 244.7L219.1 244.6L219.4 244.6L219.7 245.0L220.0 245.5L220.3 246.1L220.6 246.1L220.9 246.1L221.2 246.0L221.5 246.2L221.8 246.2L222.1 246.2L222.4 246.4L222.7 246.3L223.0 246.1L223.3 245.7L223.6 246.1L223.9 246.5L224.3 246.6L224.6 246.6L224.9 246.4L225.2 246.5L225.5 246.3L225.8 246.3L226.1 246.2L226.4 246.4L226.7 246.7L227.0 246.4L227.3 246.2L227.6 245.9L227.9 246.2L228.2 246.1L228.5 246.1L228.8 246.0L229.1 245.6L229.4 245.1L229.7 245.0L230.1 245.2L230.4 245.1L230.7 244.8L231.0 244.5L231.3 244.0L231.6 243.7L231.9 243.2L232.2 243.4L232.5 242.8L232.8 242.5L233.1 241.7L233.4 241.4L233.7 241.2L234.0 240.8L234.3 240.1L234.6 239.7L234.9 239.5L235.2 239.2L235.5 238.2L235.8 237.0L236.2 235.9L236.5 235.3L236.8 234.8L237.1 234.0L237.4 232.9L237.7 231.7L238.0 230.7L238.3 229.6L238.6 228.8L238.9 227.4L239.2 226.1L239.5 224.5L239.8 223.1L240.1 221.3L240.4 219.3L240.7 217.7L241.0 215.8L241.3 213.9L241.6 211.6L241.9 209.4L242.2 207.0L242.6 204.6L242.9 202.4L243.2 199.8L243.5 197.2L243.8 193.9L244.1 190.6L244.4 187.7L244.7 184.6L245.0 181.4L245.3 177.6L245.6 174.3L245.9 170.6L246.2 166.8L246.5 163.0L246.8 159.4L247.1 155.8L247.4 152.1L247.7 148.5L248.0 144.6L248.3 140.8L248.7 137.1L249.0 133.8L249.3 130.7L249.6 127.8L249.9 125.2L250.2 123.2L250.5 121.1L250.8 119.2L251.1 117.6L251.4 116.9L251.7 116.3L252.0 116.0L252.3 116.4L252.6 117.3L252.9 118.6L253.2 119.9L253.5 121.9L253.8 124.3L254.1 127.0L254.4 130.0L254.8 133.4L255.1 136.5L255.4 140.2L255.7 143.4L256.0 147.4L256.3 151.2L256.6 155.5L256.9 159.8L257.2 163.7L257.5 167.4L257.8 171.3L258.1 175.4L258.4 179.4L258.7 183.0L259.0 186.9L259.3 190.5L259.6 194.2L259.9 197.2L260.2 200.5L260.6 203.6L260.9 206.7L261.2 209.7L261.5 212.3L261.8 214.8L262.1 217.5L262.4 220.1L262.7 222.8L263.0 224.9L263.3 227.1L263.6 229.0L263.9 230.5L264.2 232.1L264.5 234.0L264.8 235.9L265.1 237.9L265.4 239.0L265.7 240.0L266.0 241.1L266.3 242.5L266.6 244.1L267.0 245.3L267.3 246.8L267.6 247.8L267.9 248.9L268.2 249.7L268.5 250.8L268.8 251.6L269.1 252.5L269.4 253.5L269.7 254.2L270.0 254.8L270.3 255.0L270.6 255.6L270.9 256.3L271.2 257.2L271.5 258.2L271.8 258.7L272.1 258.8L272.4 259.2L272.8 259.5L273.1 260.1L273.4 260.4L273.7 261.0L274.0 261.5L274.3 262.3L274.6 262.6L274.9 262.8L275.2 262.9L275.5 263.4L275.8 264.0L276.1 264.0L276.4 264.3L276.7 264.4L277.0 264.8L277.3 264.5L277.6 264.8L277.9 264.8L278.2 265.4L278.5 266.0L278.9 266.4L279.2 266.2L279.5 266.3L279.8 266.6L280.1 266.7L280.4 266.7L280.7 266.8L281.0 267.3L281.3 267.7L281.6 267.9L281.9 267.8L282.2 267.5L282.5 267.7L282.8 267.8L283.1 268.3L283.4 268.3L283.7 268.7L284.0 268.7L284.3 269.1L284.6 269.1L284.9 269.5L285.3 269.4L285.6 269.7L285.9 269.8L286.2 269.5L286.5 269.4L286.8 269.7L287.1 270.1L287.4 270.4L287.7 270.3L288.0 270.2L288.3 270.1L288.6 270.0L288.9 270.3L289.2 270.5L289.5 270.9L289.8 270.9L290.1 271.1L290.4 271.0L290.7 270.8L291.1 270.8L291.4 270.8L291.7 271.2L292.0 271.0L292.3 271.0L292.6 270.9L292.9 270.7L293.2 270.6L293.5 270.5L293.8 270.6L294.1 270.6L294.4 270.8L294.7 271.0L295.0 271.5L295.3 271.8L295.6 271.8L295.9 271.6L296.2 271.4L296.5 271.5L296.8 271.4L297.1 271.3L297.5 271.3L297.8 271.1L298.1 271.3L298.4 271.3L298.7 271.4L299.0 271.3L299.3 271.4L299.6 271.5L299.9 271.7L300.2 271.7L300.5 272.1L300.8 271.8L301.1 271.8L301.4 271.6L301.7 272.1L302.0 272.1L302.3 272.2L302.6 271.8L302.9 271.7L303.2 271.8L303.6 272.0L303.9 272.5L304.2 272.1L304.5 272.1L304.8 271.6L305.1 271.8L305.4 271.9L305.7 272.5L306.0 272.4L306.3 272.4L306.6 271.9L306.9 271.9L307.2 272.1L307.5 272.4L307.8 272.6L308.1 272.6L308.4 272.6L308.7 272.5L309.0 272.4L309.4 272.2L309.7 272.4L310.0 272.5L310.3 272.5L310.6 272.3L310.9 272.3L311.2 272.7L311.5 272.8L311.8 272.4L312.1 272.3L312.4 272.4L312.7 272.7L313.0 272.3L313.3 272.2L313.6 272.4L313.9 272.7L314.2 272.5L314.5 272.4L314.8 272.4L315.1 272.7L315.4 273.1L315.8 273.2L316.1 273.0L316.4 272.3L316.7 272.5L317.0 272.5L317.3 272.9L317.6 272.6L317.9 272.7L318.2 272.5L318.5 272.7L318.8 272.6L319.1 272.9L319.4 273.1L319.7 273.1L320.0 273.1L320.3 273.1L320.6 272.9L320.9 272.8L321.2 272.7L321.6 273.1L321.9 273.0L322.2 273.2L322.5 273.1L322.8 273.0L323.1 272.7L323.4 272.4L323.7 272.7L324.0 272.9L324.3 273.3L324.6 273.4L324.9 273.3L325.2 273.4L325.5 273.4L325.8 273.5L326.1 273.5L326.4 273.2L326.7 273.2L327.0 273.0L327.3 273.0L327.6 272.9L328.0 273.1L328.3 273.3L328.6 273.3L328.9 273.1L329.2 273.2L329.5 273.1L329.8 273.1L330.1 273.1L330.4 273.4L330.7 273.6L331.0 273.4L331.3 273.4L331.6 273.7L331.9 273.9L332.2 273.6L332.5 273.4L332.8 273.9L333.1 274.0L333.4 274.1L333.8 273.8L334.1 273.5L334.4 273.2L334.7 272.9L335.0 273.3L335.3 273.5L335.6 273.9L335.9 273.8L336.2 273.9L336.5 273.6L336.8 273.7L337.1 274.0L337.4 274.1L337.7 274.3L338.0 274.1L338.3 274.0L338.6 273.9L338.9 273.7L339.2 273.8L339.5 273.7L339.9 273.8L340.2 273.7L340.5 273.9L340.8 273.9L341.1 274.1L341.4 274.1L341.7 274.3L342.0 274.3L342.3 274.3L342.6 274.4L342.9 274.5L343.2 274.1L343.5 274.2L343.8 274.0L344.1 273.9L344.4 273.5L344.7 273.3L345.0 273.6L345.3 273.5L345.6 273.5L345.9 273.6L346.3 273.9L346.6 273.9L346.9 273.8L347.2 273.8L347.5 273.9L347.8 274.0L348.1 274.0L348.4 274.1L348.7 273.9L349.0 273.8L349.3 273.7L349.6 273.9L349.9 273.9L350.2 273.8L350.5 273.9L350.8 274.2L351.1 274.3L351.4 274.2L351.7 274.1L352.1 274.1L352.4 273.8L352.7 273.8L353.0 273.8L353.3 274.0L353.6 274.1L353.9 274.2L354.2 274.2L354.5 273.8L354.8 273.5L355.1 273.6L355.4 273.9L355.7 274.2L356.0 274.3L356.3 274.2L356.6 274.0L356.9 273.8L357.2 273.9L357.5 273.9L357.8 274.2L358.1 274.0L358.5 273.9L358.8 273.8L359.1 273.7L359.4 274.2L359.7 274.1L360.0 274.4L360.3 274.1L360.6 274.1L360.9 273.9L361.2 273.7L361.5 273.9L361.8 274.3L362.1 274.9L362.4 274.6L362.7 274.5L363.0 274.2L363.3 274.6L363.6 274.4L363.9 274.5L364.2 274.5L364.6 274.7L364.9 274.8L365.2 274.7L365.5 274.8L365.8 274.5L366.1 274.8L366.4 274.2L366.7 274.3L367.0 273.9L367.3 274.3L367.6 274.5L367.9 274.7L368.2 274.7L368.5 274.8L368.8 274.5L369.1 274.4L369.4 274.4L369.7 274.6L370.0 274.5L370.4 274.3L370.7 274.1L371.0 274.6L371.3 274.7L371.6 274.8L371.9 274.8L372.2 274.5L372.5 274.7L372.8 274.6L373.1 274.7L373.4 274.4L373.7 274.3L374.0 274.0L374.3 274.1L374.6 273.9L374.9 274.4L375.2 274.3L375.5 274.3L375.8 274.2L376.1 274.4L376.4 274.7L376.8 274.9L377.1 275.0L377.4 275.1L377.7 274.6L378.0 274.1L378.3 274.2L378.6 274.4L378.9 274.8L379.2 274.5L379.5 274.2" fill="none" stroke="#2020c8" stroke-width="2.2" stroke-linejoin="round"/>
<path d="M74.5 271.6L74.8 271.7L75.1 271.7L75.4 272.2L75.7 272.2L76.0 272.0L76.3 271.9L76.6 272.0L76.9 271.8L77.2 271.5L77.5 271.1L77.9 270.9L78.2 270.9L78.5 271.0L78.8 271.2L79.1 271.3L79.4 271.3L79.7 271.1L80.0 271.1L80.3 271.2L80.6 271.3L80.9 271.4L81.2 271.2L81.5 271.0L81.8 271.0L82.1 271.0L82.4 271.0L82.7 270.7L83.0 270.7L83.3 270.6L83.7 270.4L84.0 270.2L84.3 270.2L84.6 270.4L84.9 270.3L85.2 270.3L85.5 270.1L85.8 270.2L86.1 270.0L86.4 270.1L86.7 269.8L87.0 269.8L87.3 269.5L87.6 269.8L87.9 269.8L88.2 269.9L88.5 269.7L88.8 269.5L89.1 269.2L89.4 269.2L89.8 269.2L90.1 269.3L90.4 269.4L90.7 269.5L91.0 269.4L91.3 269.2L91.6 268.9L91.9 268.8L92.2 268.9L92.5 269.3L92.8 269.3L93.1 269.5L93.4 269.4L93.7 269.2L94.0 269.0L94.3 268.9L94.6 269.2L94.9 268.9L95.2 268.9L95.5 268.5L95.8 268.5L96.2 268.3L96.5 268.6L96.8 268.5L97.1 268.6L97.4 268.3L97.7 268.1L98.0 268.0L98.3 268.0L98.6 267.9L98.9 267.9L99.2 267.7L99.5 267.6L99.8 267.5L100.1 267.5L100.4 267.4L100.7 267.1L101.0 267.1L101.3 267.2L101.6 267.3L102.0 267.3L102.3 267.0L102.6 267.1L102.9 267.0L103.2 267.2L103.5 267.0L103.8 266.9L104.1 266.9L104.4 267.1L104.7 267.0L105.0 267.0L105.3 266.7L105.6 266.7L105.9 266.8L106.2 266.8L106.5 266.7L106.8 266.5L107.1 266.5L107.4 266.1L107.7 266.3L108.0 266.0L108.4 266.1L108.7 265.8L109.0 266.2L109.3 266.0L109.6 266.0L109.9 265.9L110.2 265.9L110.5 265.8L110.8 265.7L111.1 265.7L111.4 265.8L111.7 265.6L112.0 265.5L112.3 265.2L112.6 265.1L112.9 265.1L113.2 265.1L113.5 265.4L113.8 265.3L114.2 265.2L114.5 265.1L114.8 265.1L115.1 265.0L115.4 264.8L115.7 264.6L116.0 264.4L116.3 264.5L116.6 264.6L116.9 264.6L117.2 264.2L117.5 264.1L117.8 264.3L118.1 264.2L118.4 264.0L118.7 263.9L119.0 264.3L119.3 264.6L119.6 264.2L119.9 264.1L120.2 263.7L120.6 263.7L120.9 263.5L121.2 263.6L121.5 263.7L121.8 263.7L122.1 263.6L122.4 263.3L122.7 263.3L123.0 263.1L123.3 263.1L123.6 263.1L123.9 263.3L124.2 262.9L124.5 262.6L124.8 262.1L125.1 262.5L125.4 262.9L125.7 263.1L126.0 262.9L126.3 262.6L126.7 262.2L127.0 262.1L127.3 261.4L127.6 261.7L127.9 261.6L128.2 261.9L128.5 261.8L128.8 261.8L129.1 261.9L129.4 261.8L129.7 261.9L130.0 262.0L130.3 261.9L130.6 261.9L130.9 261.3L131.2 261.5L131.5 261.4L131.8 261.5L132.1 261.3L132.4 261.4L132.8 261.5L133.1 261.2L133.4 260.9L133.7 260.8L134.0 260.5L134.3 260.3L134.6 260.1L134.9 260.4L135.2 260.6L135.5 260.7L135.8 260.6L136.1 260.3L136.4 259.8L136.7 259.6L137.0 259.5L137.3 259.6L137.6 259.5L137.9 259.4L138.2 259.2L138.6 259.0L138.9 258.6L139.2 258.8L139.5 258.6L139.8 258.5L140.1 258.4L140.4 258.4L140.7 258.7L141.0 258.4L141.3 258.6L141.6 258.5L141.9 258.4L142.2 258.0L142.5 257.7L142.8 257.7L143.1 257.9L143.4 257.7L143.7 257.3L144.0 256.9L144.3 257.0L144.7 256.8L145.0 256.5L145.3 256.0L145.6 256.2L145.9 256.2L146.2 256.1L146.5 255.7L146.8 255.5L147.1 255.1L147.4 255.2L147.7 254.9L148.0 255.3L148.3 255.2L148.6 254.9L148.9 254.4L149.2 254.0L149.5 253.7L149.8 253.6L150.1 253.5L150.4 253.2L150.8 252.9L151.1 252.7L151.4 252.8L151.7 252.4L152.0 251.8L152.3 251.3L152.6 250.9L152.9 250.8L153.2 250.7L153.5 250.5L153.8 249.7L154.1 249.3L154.4 249.0L154.7 249.1L155.0 248.7L155.3 248.4L155.6 247.8L155.9 247.6L156.2 247.1L156.5 246.1L156.8 245.8L157.2 245.4L157.5 245.1L157.8 244.3L158.1 243.5L158.4 242.9L158.7 242.1L159.0 241.7L159.3 241.2L159.6 240.8L159.9 240.1L160.2 239.4L160.5 238.6L160.8 237.5L161.1 236.7L161.4 236.0L161.7 235.3L162.0 234.5L162.3 233.3L162.6 232.0L162.9 231.0L163.3 229.9L163.6 228.9L163.9 227.5L164.2 226.4L164.5 225.0L164.8 223.6L165.1 222.0L165.4 220.8L165.7 219.4L166.0 217.9L166.3 215.9L166.6 214.0L166.9 212.5L167.2 210.5L167.5 208.9L167.8 207.3L168.1 205.7L168.4 203.6L168.7 201.4L169.1 199.0L169.4 196.8L169.7 194.1L170.0 191.7L170.3 189.0L170.6 186.8L170.9 184.3L171.2 181.6L171.5 178.4L171.8 175.5L172.1 172.6L172.4 169.8L172.7 167.0L173.0 164.0L173.3 160.7L173.6 157.3L173.9 154.3L174.2 151.1L174.5 147.9L174.8 144.8L175.2 141.8L175.5 138.8L175.8 135.5L176.1 132.2L176.4 129.5L176.7 126.7L177.0 124.4L177.3 121.7L177.6 119.6L177.9 117.4L178.2 115.8L178.5 114.2L178.8 112.9L179.1 111.6L179.4 110.6L179.7 110.0L180.0 110.2L180.3 110.4L180.6 110.5L180.9 110.8L181.2 111.6L181.6 113.1L181.9 114.4L182.2 116.1L182.5 117.8L182.8 119.8L183.1 121.8L183.4 124.1L183.7 126.5L184.0 129.3L184.3 131.8L184.6 134.9L184.9 137.8L185.2 141.1L185.5 144.1L185.8 147.0L186.1 149.7L186.4 152.4L186.7 155.3L187.0 158.4L187.3 161.1L187.7 163.9L188.0 166.9L188.3 169.7L188.6 172.3L188.9 174.7L189.2 177.2L189.5 179.6L189.8 182.2L190.1 184.3L190.4 186.4L190.7 188.6L191.0 190.9L191.3 192.9L191.6 194.6L191.9 196.2L192.2 197.7L192.5 198.9L192.8 200.4L193.1 202.0L193.4 203.8L193.8 205.2L194.1 206.3L194.4 207.3L194.7 208.6L195.0 209.7L195.3 210.3L195.6 211.0L195.9 211.3L196.2 212.4L196.5 213.0L196.8 213.9L197.1 214.7L197.4 215.6L197.7 216.2L198.0 216.5L198.3 216.7L198.6 216.9L198.9 217.1L199.2 217.6L199.6 217.8L199.9 217.9L200.2 217.8L200.5 218.2L200.8 218.5L201.1 218.5L201.4 218.4L201.7 218.3L202.0 218.3L202.3 218.4L202.6 218.4L202.9 218.8L203.2 218.9L203.5 218.9L203.8 218.9L204.1 218.8L204.4 218.9L204.7 219.0L205.0 219.3L205.3 219.5L205.7 219.5L206.0 219.4L206.3 219.8L206.6 220.6L206.9 220.9L207.2 221.0L207.5 221.0L207.8 221.2L208.1 221.7L208.4 222.2L208.7 222.8L209.0 223.5L209.3 224.0L209.6 224.5L209.9 224.8L210.2 225.3L210.5 225.6L210.8 226.2L211.1 226.9L211.4 227.6L211.8 227.7L212.1 228.3L212.4 228.9L212.7 229.9L213.0 230.5L213.3 231.1L213.6 231.3L213.9 231.6L214.2 231.9L214.5 232.4L214.8 232.9L215.1 233.5L215.4 234.1L215.7 234.5L216.0 234.7L216.3 235.1L216.6 235.6L216.9 235.9L217.2 236.2L217.5 236.3L217.8 236.8L218.2 237.1L218.5 237.3L218.8 237.4L219.1 237.8L219.4 238.3L219.7 238.3L220.0 237.9L220.3 237.8L220.6 238.1L220.9 238.5L221.2 238.3L221.5 238.6L221.8 238.8L222.1 239.0L222.4 239.2L222.7 239.6L223.0 239.9L223.3 240.0L223.6 239.6L223.9 239.5L224.3 239.4L224.6 239.6L224.9 239.6L225.2 239.6L225.5 239.4L225.8 239.2L226.1 239.3L226.4 239.4L226.7 239.3L227.0 239.2L227.3 238.7L227.6 238.7L227.9 238.7L228.2 238.6L228.5 238.6L228.8 238.3L229.1 238.0L229.4 237.4L229.7 237.2L230.1 237.2L230.4 237.3L230.7 236.7L231.0 236.4L231.3 236.1L231.6 235.8L231.9 235.6L232.2 235.0L232.5 234.7L232.8 234.2L233.1 234.1L233.4 233.3L233.7 232.8L234.0 232.1L234.3 231.4L234.6 230.6L234.9 230.1L235.2 229.6L235.5 228.3L235.8 227.1L236.2 225.8L236.5 225.2L236.8 224.1L237.1 223.2L237.4 221.8L237.7 220.8L238.0 219.5L238.3 218.1L238.6 216.5L238.9 215.1L239.2 213.5L239.5 211.9L239.8 209.8L240.1 208.1L240.4 205.9L240.7 204.2L241.0 201.8L241.3 199.5L241.6 196.6L241.9 194.4L242.2 191.9L242.6 189.2L242.9 185.9L243.2 182.7L243.5 179.9L243.8 176.8L244.1 173.2L244.4 169.5L244.7 166.0L245.0 162.6L245.3 158.9L245.6 154.9L245.9 151.0L246.2 147.0L246.5 142.9L246.8 139.0L247.1 135.0L247.4 131.2L247.7 127.2L248.0 123.2L248.3 119.7L248.7 116.4L249.0 113.0L249.3 109.9L249.6 107.2L249.9 105.3L250.2 103.2L250.5 101.4L250.8 99.8L251.1 98.9L251.4 98.5L251.7 98.5L252.0 99.0L252.3 99.3L252.6 100.4L252.9 101.9L253.2 104.2L253.5 106.4L253.8 109.5L254.1 112.5L254.4 116.0L254.8 119.3L255.1 123.3L255.4 127.5L255.7 131.6L256.0 135.9L256.3 140.2L256.6 144.7L256.9 148.8L257.2 152.6L257.5 156.8L257.8 160.9L258.1 165.3L258.4 169.0L258.7 173.1L259.0 177.0L259.3 180.9L259.6 184.7L259.9 188.4L260.2 192.1L260.6 195.3L260.9 198.6L261.2 201.3L261.5 204.3L261.8 206.8L262.1 209.8L262.4 212.2L262.7 214.7L263.0 217.4L263.3 219.9L263.6 222.3L263.9 224.3L264.2 226.6L264.5 228.1L264.8 229.9L265.1 231.7L265.4 233.9L265.7 235.7L266.0 237.0L266.3 238.2L266.6 239.3L267.0 240.8L267.3 241.9L267.6 243.2L267.9 243.9L268.2 244.9L268.5 246.2L268.8 247.5L269.1 248.7L269.4 249.1L269.7 249.9L270.0 251.0L270.3 251.9L270.6 252.3L270.9 252.7L271.2 253.6L271.5 254.6L271.8 255.0L272.1 255.5L272.4 256.0L272.8 256.8L273.1 257.5L273.4 258.3L273.7 258.6L274.0 259.1L274.3 259.4L274.6 260.0L274.9 260.5L275.2 260.9L275.5 261.2L275.8 261.2L276.1 261.6L276.4 262.1L276.7 262.6L277.0 262.9L277.3 262.8L277.6 263.0L277.9 263.3L278.2 264.1L278.5 264.5L278.9 264.4L279.2 264.4L279.5 264.5L279.8 264.9L280.1 265.5L280.4 265.9L280.7 266.2L281.0 266.2L281.3 266.3L281.6 266.6L281.9 266.7L282.2 267.0L282.5 266.9L282.8 267.1L283.1 267.3L283.4 267.4L283.7 267.0L284.0 266.9L284.3 267.6L284.6 268.2L284.9 268.5L285.3 268.5L285.6 268.8L285.9 268.7L286.2 268.7L286.5 268.7L286.8 269.0L287.1 269.3L287.4 269.4L287.7 269.4L288.0 269.6L288.3 269.7L288.6 270.0L288.9 269.5L289.2 269.6L289.5 269.2L289.8 269.7L290.1 269.5L290.4 269.9L290.7 269.9L291.1 270.0L291.4 270.0L291.7 270.2L292.0 270.2L292.3 269.8L292.6 269.7L292.9 269.9L293.2 270.2L293.5 270.5L293.8 270.4L294.1 270.4L294.4 270.5L294.7 270.9L295.0 271.1L295.3 270.9L295.6 270.8L295.9 270.7L296.2 270.6L296.5 270.7L296.8 271.1L297.1 271.1L297.5 270.9L297.8 270.8L298.1 270.7L298.4 270.8L298.7 270.8L299.0 270.6L299.3 270.8L299.6 271.0L299.9 271.6L300.2 271.3L300.5 271.0L300.8 270.8L301.1 270.8L301.4 271.3L301.7 271.4L302.0 271.5L302.3 271.3L302.6 271.5L302.9 271.8L303.2 271.6L303.6 271.7L303.9 271.6L304.2 271.6L304.5 271.5L304.8 271.3L305.1 271.7L305.4 271.6L305.7 272.0L306.0 272.0L306.3 272.0L306.6 271.8L306.9 271.6L307.2 271.6L307.5 271.9L307.8 271.9L308.1 272.0L308.4 271.8L308.7 271.9L309.0 271.8L309.4 272.2L309.7 272.0L310.0 272.2L310.3 271.8L310.6 272.2L310.9 272.4L311.2 272.7L311.5 272.6L311.8 272.5L312.1 272.6L312.4 272.6L312.7 272.7L313.0 272.5L313.3 272.6L313.6 272.5L313.9 272.5L314.2 272.1L314.5 272.4L314.8 272.3L315.1 272.2L315.4 271.8L315.8 272.3L316.1 272.8L316.4 272.9L316.7 272.6L317.0 272.5L317.3 272.3L317.6 272.2L317.9 272.3L318.2 272.8L318.5 272.7L318.8 272.3L319.1 271.9L319.4 272.1L319.7 272.5L320.0 272.8L320.3 272.8L320.6 272.7L320.9 272.5L321.2 272.6L321.6 272.7L321.9 273.0L322.2 273.2L322.5 272.9L322.8 272.5L323.1 272.1L323.4 272.6L323.7 272.8L324.0 273.2L324.3 272.9L324.6 273.1L324.9 273.6L325.2 273.5L325.5 273.4L325.8 272.8L326.1 273.0L326.4 273.1L326.7 273.0L327.0 273.2L327.3 273.3L327.6 273.5L328.0 273.3L328.3 273.2L328.6 272.9L328.9 273.0L329.2 272.9L329.5 273.1L329.8 273.1L330.1 273.2L330.4 273.2L330.7 273.2L331.0 273.6L331.3 273.6L331.6 273.6L331.9 273.3L332.2 273.4L332.5 273.4L332.8 273.3L333.1 273.4L333.4 273.6L333.8 273.8L334.1 273.7L334.4 273.3L334.7 273.6L335.0 273.5L335.3 273.5L335.6 273.4L335.9 273.2L336.2 273.3L336.5 272.9L336.8 273.3L337.1 273.7L337.4 274.0L337.7 273.7L338.0 273.3L338.3 273.3L338.6 273.5L338.9 273.8L339.2 273.8L339.5 273.8L339.9 273.3L340.2 273.7L340.5 273.6L340.8 273.8L341.1 273.8L341.4 273.8L341.7 274.1L342.0 274.1L342.3 274.3L342.6 274.0L342.9 273.9L343.2 273.7L343.5 273.8L343.8 274.0L344.1 273.9L344.4 274.1L344.7 274.1L345.0 273.9L345.3 273.6L345.6 273.3L345.9 273.5L346.3 273.7L346.6 273.8L346.9 273.9L347.2 273.8L347.5 273.8L347.8 273.9L348.1 274.1L348.4 274.0L348.7 273.9L349.0 273.7L349.3 273.8L349.6 273.6L349.9 273.9L350.2 274.0L350.5 274.2L350.8 274.0L351.1 273.8L351.4 273.7L351.7 273.6L352.1 273.9L352.4 274.5L352.7 274.6L353.0 274.2L353.3 273.8L353.6 274.1L353.9 274.0L354.2 273.7L354.5 273.7L354.8 273.6L355.1 274.1L355.4 274.0L355.7 274.3L356.0 274.1L356.3 274.1L356.6 274.1L356.9 274.0L357.2 274.3L357.5 274.3L357.8 274.4L358.1 274.1L358.5 274.0L358.8 273.9L359.1 274.0L359.4 274.4L359.7 274.7L360.0 274.7L360.3 274.7L360.6 274.7L360.9 274.7L361.2 274.4L361.5 274.1L361.8 274.1L362.1 274.1L362.4 274.1L362.7 273.8L363.0 274.2L363.3 274.4L363.6 274.7L363.9 274.5L364.2 274.4L364.6 274.4L364.9 274.5L365.2 274.5L365.5 274.6L365.8 274.6L366.1 274.5L366.4 274.5L366.7 274.2L367.0 274.4L367.3 274.3L367.6 274.6L367.9 274.4L368.2 274.7L368.5 274.5L368.8 274.5L369.1 274.1L369.4 274.3L369.7 274.3L370.0 274.7L370.4 274.8L370.7 275.0L371.0 274.5L371.3 274.3L371.6 274.2L371.9 274.1L372.2 274.2L372.5 274.6L372.8 274.8L373.1 274.9L373.4 274.8L373.7 274.7L374.0 274.5L374.3 274.4L374.6 274.6L374.9 274.5L375.2 274.5L375.5 274.4L375.8 274.7L376.1 274.5L376.4 274.4L376.8 274.2L377.1 274.4L377.4 274.6L377.7 274.6L378.0 275.0L378.3 274.8L378.6 275.0L378.9 274.8L379.2 275.0L379.5 275.1" fill="none" stroke="#dd22dd" stroke-width="2.2" stroke-linejoin="round"/>
<rect x="74.5" y="40.5" width="305.0" height="244.5" fill="none" stroke="#000" stroke-width="2"/>
<line x1="74.5" y1="285" x2="74.5" y2="280" stroke="#000" stroke-width="1.4"/>
<line x1="105.0" y1="285" x2="105.0" y2="282.5" stroke="#000" stroke-width="1.4"/>
<line x1="135.5" y1="285" x2="135.5" y2="280" stroke="#000" stroke-width="1.4"/>
<line x1="166.0" y1="285" x2="166.0" y2="282.5" stroke="#000" stroke-width="1.4"/>
<line x1="196.5" y1="285" x2="196.5" y2="280" stroke="#000" stroke-width="1.4"/>
<line x1="227.0" y1="285" x2="227.0" y2="282.5" stroke="#000" stroke-width="1.4"/>
<line x1="257.5" y1="285" x2="257.5" y2="280" stroke="#000" stroke-width="1.4"/>
<line x1="288.0" y1="285" x2="288.0" y2="282.5" stroke="#000" stroke-width="1.4"/>
<line x1="318.5" y1="285" x2="318.5" y2="280" stroke="#000" stroke-width="1.4"/>
<line x1="349.0" y1="285" x2="349.0" y2="282.5" stroke="#000" stroke-width="1.4"/>
<line x1="379.5" y1="285" x2="379.5" y2="280" stroke="#000" stroke-width="1.4"/>
<text x="74.3" y="302.9" font-size="15" text-anchor="middle" font-weight="bold" fill="#000" >1000</text>
<text x="135.3" y="302.9" font-size="15" text-anchor="middle" font-weight="bold" fill="#000" >1200</text>
<text x="196.3" y="302.9" font-size="15" text-anchor="middle" font-weight="bold" fill="#000" >1400</text>
<text x="257.3" y="302.9" font-size="15" text-anchor="middle" font-weight="bold" fill="#000" >1600</text>
<text x="318.3" y="302.9" font-size="15" text-anchor="middle" font-weight="bold" fill="#000" >1800</text>
<text x="379.3" y="302.9" font-size="15" text-anchor="middle" font-weight="bold" fill="#000" >2000</text>
<text x="227.5" y="333.4" font-size="18.6" text-anchor="middle" font-weight="bold" fill="#000" >Raman shift (cm<tspan dy="-6.5" font-size="12">-1</tspan><tspan dy="6.5">)</tspan></text>
<text transform="translate(54.2,155) rotate(-90)" font-size="18.1" text-anchor="middle" font-weight="bold">Intensity (a. u.)</text>
<text x="88.8" y="116.7" font-size="14.7" text-anchor="start" font-weight="bold" fill="#000" >D = 1343 cm<tspan dy="-5.2" font-size="10">-1</tspan></text>
<text x="163.8" y="80.8" font-size="14.7" text-anchor="start" font-weight="bold" fill="#000" >G = 1572 cm<tspan dy="-5.2" font-size="10">-1</tspan></text>
<rect x="266.5" y="43.5" width="110.5" height="78.5" fill="#fff" stroke="#000" stroke-width="1.3"/>
<line x1="266.5" y1="51.2" x2="296.5" y2="51.2" stroke="#000" stroke-width="2"/>
<text x="298.7" y="55.0" font-size="11.5" text-anchor="start" font-weight="bold" fill="#000" letter-spacing="0.55">MWCNT</text>
<line x1="266.5" y1="66.8" x2="296.5" y2="66.8" stroke="#d42222" stroke-width="2"/>
<text x="298.7" y="70.6" font-size="11.5" text-anchor="start" font-weight="bold" fill="#000" letter-spacing="0.55">M / P 0.5 wt%</text>
<line x1="266.5" y1="82.4" x2="296.5" y2="82.4" stroke="#2020c8" stroke-width="2"/>
<text x="298.7" y="86.2" font-size="11.5" text-anchor="start" font-weight="bold" fill="#000" letter-spacing="0.55">M / P 1 wt%</text>
<line x1="266.5" y1="98.0" x2="296.5" y2="98.0" stroke="#dd22dd" stroke-width="2"/>
<text x="298.7" y="101.8" font-size="11.5" text-anchor="start" font-weight="bold" fill="#000" letter-spacing="0.55">M / P 5 wt%</text>
<line x1="266.5" y1="113.6" x2="296.5" y2="113.6" stroke="#1c881c" stroke-width="2"/>
<text x="298.7" y="117.4" font-size="11.5" text-anchor="start" font-weight="bold" fill="#000" letter-spacing="0.55">PEDOT:PSS</text>
<text x="294.2" y="141.4" font-size="14.2" font-weight="bold" fill="#000" letter-spacing="0.25">I<tspan dy="2.8" font-size="10.5">D</tspan><tspan dy="-2.8">/I</tspan><tspan dy="2.8" font-size="10.5">G</tspan><tspan dy="-2.8"> = 0.75</tspan></text>
<text x="294.2" y="161.1" font-size="14.2" font-weight="bold" fill="#d42222" letter-spacing="0.25">I<tspan dy="2.8" font-size="10.5">D</tspan><tspan dy="-2.8">/I</tspan><tspan dy="2.8" font-size="10.5">G</tspan><tspan dy="-2.8"> = 0.85</tspan></text>
<text x="294.2" y="180.7" font-size="14.2" font-weight="bold" fill="#2020c8" letter-spacing="0.25">I<tspan dy="2.8" font-size="10.5">D</tspan><tspan dy="-2.8">/I</tspan><tspan dy="2.8" font-size="10.5">G</tspan><tspan dy="-2.8"> = 0.88</tspan></text>
<text x="294.2" y="200.3" font-size="14.2" font-weight="bold" fill="#dd22dd" letter-spacing="0.25">I<tspan dy="2.8" font-size="10.5">D</tspan><tspan dy="-2.8">/I</tspan><tspan dy="2.8" font-size="10.5">G</tspan><tspan dy="-2.8"> = 0.95</tspan></text>
<text x="471.9" y="17.4" font-size="15.2" text-anchor="start" font-weight="bold" fill="#000" >(b)</text>
<path d="M512.3 72.1L513.2 72.0L514.1 72.0L515.0 72.1L515.9 72.1L516.8 71.9L517.7 71.5L518.6 71.1L519.5 71.1L520.4 71.0L521.3 70.6L522.2 70.5L523.1 70.2L524.0 70.1L524.9 69.7L525.8 69.4L526.7 69.2L527.6 68.9L528.5 68.7L529.4 69.1L530.3 68.6L531.3 68.9L532.2 68.2L533.1 67.9L534.0 66.9L534.9 66.5L535.8 66.0L536.7 65.8L537.6 65.6L538.5 65.1L539.4 64.5L540.3 63.6L541.2 63.7L542.1 63.4L543.0 63.4L543.9 62.7L544.8 62.4L545.7 62.0L546.6 61.7L547.5 61.1L548.4 60.5L549.3 59.9L550.2 59.1L551.1 58.8L552.0 58.1L552.9 57.8L553.8 57.2L554.7 57.0L555.6 56.9L556.5 56.6L557.4 56.4L558.3 56.0L559.2 55.2L560.1 54.8L561.0 53.9L561.9 53.5L562.8 52.8L563.7 52.5L564.6 52.0L565.5 51.4L566.4 51.2L567.3 50.4L568.2 50.3L569.2 49.9L570.1 50.0L571.0 49.5L571.9 48.8L572.8 48.7L573.7 48.8L574.6 48.6L575.5 48.4L576.4 47.5L577.3 47.4L578.2 46.9L579.1 46.7L580.0 46.3L580.9 46.1L581.8 46.3L582.7 46.4L583.6 46.7L584.5 46.4L585.4 46.5L586.3 46.1L587.2 45.8L588.1 45.9L589.0 46.4L589.9 46.4L590.8 46.2L591.7 45.9L592.6 46.3L593.5 46.5L594.4 46.8L595.3 46.6L596.2 46.7L597.1 46.8L598.0 46.9L598.9 47.1L599.8 47.1L600.7 47.5L601.6 47.7L602.5 47.9L603.4 48.0L604.3 48.0L605.2 48.2L606.1 48.1L607.1 48.0L608.0 48.1L608.9 48.6L609.8 49.3L610.7 49.6L611.6 49.8L612.5 49.9L613.4 50.4L614.3 50.7L615.2 51.1L616.1 51.3L617.0 51.4L617.9 51.5L618.8 51.2L619.7 51.6L620.6 51.8L621.5 52.6L622.4 52.9L623.3 53.3L624.2 53.7L625.1 53.9L626.0 54.0L626.9 54.1L627.8 54.6L628.7 55.0L629.6 55.4L630.5 55.4L631.4 55.9L632.3 56.2L633.2 57.0L634.1 57.2L635.0 57.2L635.9 57.4L636.8 57.6L637.7 57.7L638.6 57.8L639.5 58.1L640.4 58.6L641.3 58.9L642.2 59.2L643.1 59.5L644.1 60.0L645.0 60.3L645.9 60.7L646.8 61.2L647.7 61.5L648.6 61.8L649.5 61.7L650.4 61.4L651.3 61.6L652.2 62.2L653.1 63.0L654.0 63.2L654.9 63.1L655.8 63.6L656.7 63.9L657.6 64.4L658.5 64.7L659.4 65.2L660.3 65.8L661.2 65.8L662.1 66.1L663.0 66.1L663.9 66.2L664.8 66.3L665.7 66.3L666.6 66.4L667.5 66.7L668.4 66.9L669.3 67.6L670.2 67.6L671.1 67.8L672.0 67.7L672.9 68.0L673.8 68.3L674.7 68.3L675.6 68.4L676.5 68.1L677.4 68.1L678.3 68.8L679.2 69.5L680.1 70.0L681.0 69.8L682.0 69.8L682.9 70.0L683.8 69.9L684.7 70.0L685.6 69.9L686.5 70.5L687.4 70.6L688.3 71.1L689.2 70.9L690.1 71.7L691.0 71.6L691.9 71.8L692.8 71.7L693.7 72.0L694.6 72.2L695.5 71.9L696.4 72.0L697.3 72.3L698.2 72.5L699.1 72.3L700.0 71.9L700.9 72.2L701.8 72.4L702.7 72.7L703.6 72.3L704.5 72.7L705.4 72.9L706.3 73.2L707.2 73.0" fill="none" stroke="#1c881c" stroke-width="1.9" stroke-linejoin="round"/>
<path d="M512.3 133.3L513.2 133.4L514.1 132.9L515.0 133.3L515.9 133.1L516.8 133.5L517.7 133.1L518.6 133.2L519.5 133.2L520.4 133.0L521.3 133.0L522.2 132.6L523.1 132.9L524.0 132.7L524.9 132.8L525.8 132.5L526.7 132.8L527.6 132.7L528.5 132.7L529.4 132.4L530.3 132.4L531.3 132.2L532.2 132.2L533.1 132.3L534.0 132.1L534.9 132.2L535.8 131.9L536.7 132.1L537.6 132.5L538.5 132.5L539.4 132.4L540.3 131.9L541.2 132.2L542.1 132.1L543.0 131.8L543.9 131.3L544.8 131.3L545.7 131.7L546.6 132.1L547.5 132.0L548.4 132.0L549.3 131.6L550.2 131.8L551.1 131.7L552.0 131.7L552.9 131.4L553.8 131.7L554.7 131.7L555.6 131.4L556.5 130.8L557.4 130.7L558.3 130.9L559.2 131.1L560.1 131.2L561.0 131.2L561.9 131.4L562.8 131.3L563.7 131.0L564.6 130.3L565.5 130.3L566.4 130.4L567.3 130.7L568.2 130.7L569.2 130.8L570.1 130.5L571.0 130.1L571.9 129.9L572.8 130.0L573.7 130.2L574.6 129.9L575.5 129.3L576.4 129.0L577.3 128.5L578.2 128.2L579.1 127.6L580.0 127.2L580.9 127.3L581.8 126.6L582.7 126.2L583.6 124.9L584.5 124.5L585.4 123.8L586.3 122.9L587.2 122.0L588.1 120.9L589.0 120.3L589.9 119.6L590.8 119.5L591.7 119.1L592.6 119.1L593.5 119.3L594.4 119.4L595.3 119.4L596.2 119.3L597.1 119.8L598.0 120.4L598.9 121.2L599.8 121.9L600.7 122.5L601.6 123.0L602.5 124.0L603.4 124.5L604.3 125.7L605.2 126.1L606.1 126.8L607.1 127.5L608.0 128.2L608.9 128.6L609.8 128.7L610.7 129.2L611.6 130.0L612.5 130.5L613.4 130.6L614.3 130.2L615.2 130.2L616.1 130.4L617.0 130.8L617.9 130.9L618.8 131.2L619.7 131.1L620.6 131.1L621.5 131.1L622.4 131.4L623.3 131.5L624.2 131.6L625.1 131.3L626.0 131.7L626.9 132.0L627.8 132.6L628.7 132.4L629.6 132.4L630.5 132.1L631.4 132.3L632.3 132.0L633.2 132.0L634.1 131.9L635.0 131.7L635.9 131.6L636.8 131.8L637.7 131.7L638.6 131.8L639.5 131.7L640.4 132.3L641.3 132.3L642.2 132.4L643.1 132.4L644.1 132.0L645.0 131.6L645.9 131.5L646.8 131.9L647.7 132.0L648.6 132.1L649.5 132.4L650.4 131.9L651.3 132.1L652.2 132.0L653.1 132.7L654.0 132.5L654.9 132.3L655.8 132.3L656.7 132.3L657.6 132.2L658.5 132.3L659.4 132.1L660.3 132.2L661.2 132.0L662.1 132.0L663.0 132.1L663.9 132.1L664.8 132.1L665.7 132.0L666.6 131.8L667.5 132.2L668.4 132.3L669.3 133.0L670.2 132.6L671.1 132.6L672.0 132.1L672.9 132.0L673.8 131.9L674.7 132.1L675.6 132.4L676.5 132.4L677.4 132.5L678.3 132.5L679.2 132.4L680.1 132.2L681.0 131.8L682.0 132.3L682.9 132.2L683.8 132.5L684.7 132.4L685.6 132.4L686.5 132.2L687.4 132.1L688.3 132.0L689.2 131.8L690.1 131.6L691.0 131.8L691.9 132.0L692.8 132.5L693.7 132.1L694.6 132.2L695.5 131.6L696.4 132.2L697.3 132.2L698.2 132.4L699.1 132.5L700.0 132.3L700.9 132.2L701.8 131.7L702.7 131.6L703.6 131.7L704.5 132.0L705.4 132.4L706.3 132.3L707.2 132.3" fill="none" stroke="#dd22dd" stroke-width="1.9" stroke-linejoin="round"/>
<path d="M512.3 192.9L513.2 192.9L514.1 192.9L515.0 192.9L515.9 192.7L516.8 192.8L517.7 192.7L518.6 192.8L519.5 192.5L520.4 192.6L521.3 192.7L522.2 193.0L523.1 192.8L524.0 192.4L524.9 192.0L525.8 191.8L526.7 191.8L527.6 192.0L528.5 191.8L529.4 191.9L530.3 191.6L531.3 191.8L532.2 191.4L533.1 191.8L534.0 192.2L534.9 192.2L535.8 191.9L536.7 191.4L537.6 191.3L538.5 191.3L539.4 191.7L540.3 191.5L541.2 191.4L542.1 190.7L543.0 190.9L543.9 190.8L544.8 190.9L545.7 190.6L546.6 191.0L547.5 190.9L548.4 190.7L549.3 190.3L550.2 190.1L551.1 190.2L552.0 190.1L552.9 190.0L553.8 190.3L554.7 190.0L555.6 190.2L556.5 190.0L557.4 190.2L558.3 190.0L559.2 189.8L560.1 189.6L561.0 189.6L561.9 189.7L562.8 189.7L563.7 189.9L564.6 190.1L565.5 189.9L566.4 189.6L567.3 189.2L568.2 189.4L569.2 189.0L570.1 189.3L571.0 189.0L571.9 189.1L572.8 188.6L573.7 189.0L574.6 189.1L575.5 188.9L576.4 188.3L577.3 187.9L578.2 187.8L579.1 187.5L580.0 186.8L580.9 186.4L581.8 185.6L582.7 185.1L583.6 184.6L584.5 183.6L585.4 182.4L586.3 180.6L587.2 179.0L588.1 176.9L589.0 174.9L589.9 173.4L590.8 171.9L591.7 170.7L592.6 169.3L593.5 167.8L594.4 166.9L595.3 166.8L596.2 167.0L597.1 167.3L598.0 167.2L598.9 168.0L599.8 169.2L600.7 170.8L601.6 172.6L602.5 173.9L603.4 175.5L604.3 176.7L605.2 178.2L606.1 179.9L607.1 181.1L608.0 181.9L608.9 182.7L609.8 183.6L610.7 184.9L611.6 185.2L612.5 185.8L613.4 186.0L614.3 186.5L615.2 186.3L616.1 186.1L617.0 185.9L617.9 186.3L618.8 186.5L619.7 186.9L620.6 187.0L621.5 187.0L622.4 186.7L623.3 186.7L624.2 186.5L625.1 186.4L626.0 185.9L626.9 186.0L627.8 186.1L628.7 186.0L629.6 186.3L630.5 186.0L631.4 185.9L632.3 185.4L633.2 185.4L634.1 185.6L635.0 186.0L635.9 186.2L636.8 186.2L637.7 186.2L638.6 186.1L639.5 185.9L640.4 185.8L641.3 186.3L642.2 186.2L643.1 186.2L644.1 185.9L645.0 186.2L645.9 186.2L646.8 186.3L647.7 185.8L648.6 185.7L649.5 185.2L650.4 185.3L651.3 185.8L652.2 186.2L653.1 186.2L654.0 185.8L654.9 185.8L655.8 185.5L656.7 185.4L657.6 185.3L658.5 185.6L659.4 185.5L660.3 185.6L661.2 185.4L662.1 185.3L663.0 185.2L663.9 185.2L664.8 185.6L665.7 186.0L666.6 186.2L667.5 186.0L668.4 185.7L669.3 185.3L670.2 185.3L671.1 185.7L672.0 186.2L672.9 186.3L673.8 186.0L674.7 185.8L675.6 185.9L676.5 185.9L677.4 186.0L678.3 185.8L679.2 185.8L680.1 185.7L681.0 186.1L682.0 185.8L682.9 186.2L683.8 186.0L684.7 186.1L685.6 185.9L686.5 186.0L687.4 186.0L688.3 186.1L689.2 186.0L690.1 185.8L691.0 185.8L691.9 186.0L692.8 186.6L693.7 186.6L694.6 186.2L695.5 186.2L696.4 186.0L697.3 186.5L698.2 186.7L699.1 187.0L700.0 186.8L700.9 186.4L701.8 185.9L702.7 186.2L703.6 186.4L704.5 186.5L705.4 186.5L706.3 186.6L707.2 186.9" fill="none" stroke="#1818b8" stroke-width="1.9" stroke-linejoin="round"/>
<path d="M512.3 244.7L513.2 244.3L514.1 243.7L515.0 243.3L515.9 243.2L516.8 243.1L517.7 243.2L518.6 242.9L519.5 242.5L520.4 241.6L521.3 241.5L522.2 241.2L523.1 241.0L524.0 240.2L524.9 239.5L525.8 239.2L526.7 238.8L527.6 238.7L528.5 238.2L529.4 237.9L530.3 237.0L531.3 236.5L532.2 236.4L533.1 236.1L534.0 235.3L534.9 234.9L535.8 234.6L536.7 234.3L537.6 233.9L538.5 233.5L539.4 233.3L540.3 232.7L541.2 232.3L542.1 231.9L543.0 231.6L543.9 231.1L544.8 230.8L545.7 231.0L546.6 231.3L547.5 231.7L548.4 231.5L549.3 231.5L550.2 231.2L551.1 230.9L552.0 230.7L552.9 230.6L553.8 230.9L554.7 230.8L555.6 231.2L556.5 231.1L557.4 231.3L558.3 231.7L559.2 232.0L560.1 232.2L561.0 232.3L561.9 232.8L562.8 233.2L563.7 233.2L564.6 233.1L565.5 233.2L566.4 233.8L567.3 234.3L568.2 234.9L569.2 235.1L570.1 235.3L571.0 235.4L571.9 235.2L572.8 234.9L573.7 234.9L574.6 234.9L575.5 235.2L576.4 234.7L577.3 234.4L578.2 234.3L579.1 233.9L580.0 233.4L580.9 232.7L581.8 232.1L582.7 231.2L583.6 229.7L584.5 228.8L585.4 227.5L586.3 226.9L587.2 225.5L588.1 224.3L589.0 223.0L589.9 221.9L590.8 221.0L591.7 220.6L592.6 220.5L593.5 220.6L594.4 220.8L595.3 221.5L596.2 222.7L597.1 223.9L598.0 225.4L598.9 227.2L599.8 229.2L600.7 231.3L601.6 233.1L602.5 235.0L603.4 236.9L604.3 238.5L605.2 240.1L606.1 241.5L607.1 242.9L608.0 243.9L608.9 244.6L609.8 245.2L610.7 246.0L611.6 246.5L612.5 246.6L613.4 246.6L614.3 247.0L615.2 247.6L616.1 247.9L617.0 247.8L617.9 247.9L618.8 247.9L619.7 248.1L620.6 248.3L621.5 248.4L622.4 248.6L623.3 248.5L624.2 248.6L625.1 248.6L626.0 249.0L626.9 249.4L627.8 249.6L628.7 249.1L629.6 248.8L630.5 248.8L631.4 249.0L632.3 248.6L633.2 248.4L634.1 248.0L635.0 248.3L635.9 248.3L636.8 248.2L637.7 248.3L638.6 248.0L639.5 248.3L640.4 247.7L641.3 247.6L642.2 247.3L643.1 247.0L644.1 246.8L645.0 246.5L645.9 246.4L646.8 246.3L647.7 245.7L648.6 245.8L649.5 245.7L650.4 245.7L651.3 245.3L652.2 244.9L653.1 244.5L654.0 243.9L654.9 243.9L655.8 244.0L656.7 244.3L657.6 244.2L658.5 243.9L659.4 243.5L660.3 242.9L661.2 242.8L662.1 242.8L663.0 243.1L663.9 242.8L664.8 242.5L665.7 242.3L666.6 242.1L667.5 241.9L668.4 241.6L669.3 241.4L670.2 241.4L671.1 241.3L672.0 241.6L672.9 242.1L673.8 242.5L674.7 242.1L675.6 241.9L676.5 241.5L677.4 241.6L678.3 241.2L679.2 241.1L680.1 240.7L681.0 241.1L682.0 240.9L682.9 241.3L683.8 240.8L684.7 241.0L685.6 240.6L686.5 240.6L687.4 240.7L688.3 240.9L689.2 240.6L690.1 240.6L691.0 240.2L691.9 240.6L692.8 240.5L693.7 240.6L694.6 240.4L695.5 240.2L696.4 240.4L697.3 240.6L698.2 240.8L699.1 240.8L700.0 240.9L700.9 240.5L701.8 240.7L702.7 240.3L703.6 240.6L704.5 240.2L705.4 240.2L706.3 239.9L707.2 239.8" fill="none" stroke="#d42222" stroke-width="1.9" stroke-linejoin="round"/>
<path d="M512.3 308.1L513.2 307.6L514.1 307.1L515.0 306.2L515.9 306.1L516.8 305.7L517.7 305.3L518.6 304.7L519.5 304.7L520.4 304.6L521.3 303.7L522.2 302.7L523.1 301.9L524.0 302.0L524.9 301.9L525.8 301.3L526.7 301.1L527.6 300.2L528.5 300.1L529.4 299.3L530.3 299.3L531.3 298.3L532.2 297.5L533.1 296.1L534.0 294.9L534.9 294.1L535.8 294.2L536.7 294.6L537.6 294.2L538.5 293.9L539.4 293.4L540.3 293.5L541.2 292.4L542.1 291.7L543.0 290.7L543.9 290.7L544.8 291.3L545.7 291.2L546.6 291.2L547.5 290.6L548.4 291.2L549.3 291.3L550.2 291.8L551.1 291.8L552.0 291.9L552.9 291.2L553.8 291.0L554.7 291.0L555.6 292.4L556.5 292.8L557.4 293.1L558.3 293.0L559.2 293.5L560.1 293.8L561.0 294.3L561.9 294.8L562.8 295.4L563.7 295.1L564.6 294.8L565.5 294.3L566.4 294.8L567.3 295.3L568.2 295.7L569.2 295.6L570.1 296.5L571.0 296.5L571.9 296.1L572.8 295.3L573.7 295.5L574.6 296.0L575.5 296.0L576.4 296.2L577.3 296.8L578.2 296.9L579.1 297.4L580.0 297.3L580.9 296.7L581.8 296.8L582.7 296.3L583.6 297.1L584.5 296.4L585.4 296.0L586.3 294.8L587.2 293.8L588.1 292.4L589.0 290.6L589.9 288.1L590.8 285.9L591.7 283.5L592.6 281.9L593.5 280.5L594.4 279.3L595.3 278.0L596.2 277.6L597.1 278.1L598.0 279.0L598.9 279.6L599.8 281.4L600.7 282.9L601.6 284.8L602.5 287.0L603.4 289.2L604.3 292.2L605.2 294.2L606.1 296.5L607.1 298.6L608.0 300.4L608.9 302.0L609.8 302.9L610.7 304.1L611.6 304.8L612.5 305.8L613.4 306.9L614.3 308.0L615.2 308.5L616.1 308.0L617.0 308.2L617.9 308.5L618.8 309.5L619.7 308.7L620.6 308.4L621.5 307.7L622.4 308.7L623.3 308.4L624.2 308.3L625.1 308.6L626.0 309.2L626.9 308.7L627.8 308.0L628.7 308.0L629.6 308.3L630.5 308.4L631.4 307.9L632.3 307.5L633.2 307.1L634.1 307.2L635.0 307.8L635.9 307.7L636.8 307.5L637.7 306.8L638.6 306.8L639.5 306.3L640.4 305.9L641.3 305.8L642.2 305.4L643.1 304.8L644.1 304.3L645.0 303.9L645.9 304.3L646.8 304.0L647.7 303.9L648.6 303.2L649.5 303.6L650.4 303.6L651.3 304.2L652.2 303.8L653.1 303.6L654.0 303.3L654.9 303.0L655.8 302.4L656.7 302.4L657.6 302.9L658.5 303.3L659.4 303.6L660.3 302.8L661.2 302.6L662.1 301.9L663.0 302.5L663.9 303.0L664.8 303.0L665.7 302.7L666.6 302.1L667.5 301.8L668.4 301.5L669.3 301.1L670.2 301.8L671.1 301.9L672.0 302.4L672.9 302.0L673.8 301.1L674.7 300.9L675.6 300.8L676.5 300.7L677.4 300.5L678.3 300.7L679.2 301.9L680.1 301.6L681.0 301.5L682.0 301.2L682.9 301.5L683.8 301.3L684.7 301.4L685.6 301.8L686.5 302.2L687.4 302.0L688.3 301.7L689.2 302.0L690.1 302.7L691.0 303.1L691.9 302.9L692.8 303.0L693.7 302.9L694.6 303.2L695.5 303.9L696.4 304.7L697.3 304.6L698.2 304.7L699.1 304.9L700.0 305.4L700.9 304.8L701.8 305.1L702.7 304.7L703.6 304.7L704.5 304.4L705.4 305.3L706.3 305.9L707.2 306.6" fill="none" stroke="#000" stroke-width="1.9" stroke-linejoin="round"/>
<rect x="512.3" y="16.5" width="195.0" height="298.5" fill="none" stroke="#000" stroke-width="1.8"/>
<line x1="512.3" y1="315" x2="512.3" y2="310.5" stroke="#000" stroke-width="1.3"/>
<line x1="531.1" y1="315" x2="531.1" y2="312.5" stroke="#000" stroke-width="1.3"/>
<line x1="549.9" y1="315" x2="549.9" y2="310.5" stroke="#000" stroke-width="1.3"/>
<line x1="568.7" y1="315" x2="568.7" y2="312.5" stroke="#000" stroke-width="1.3"/>
<line x1="587.5" y1="315" x2="587.5" y2="310.5" stroke="#000" stroke-width="1.3"/>
<line x1="606.3" y1="315" x2="606.3" y2="312.5" stroke="#000" stroke-width="1.3"/>
<line x1="625.1" y1="315" x2="625.1" y2="310.5" stroke="#000" stroke-width="1.3"/>
<line x1="643.9" y1="315" x2="643.9" y2="312.5" stroke="#000" stroke-width="1.3"/>
<line x1="662.7" y1="315" x2="662.7" y2="310.5" stroke="#000" stroke-width="1.3"/>
<line x1="681.5" y1="315" x2="681.5" y2="312.5" stroke="#000" stroke-width="1.3"/>
<line x1="700.3" y1="315" x2="700.3" y2="310.5" stroke="#000" stroke-width="1.3"/>
<text x="512.5" y="329.8" font-size="13.8" text-anchor="middle" font-weight="bold" fill="#000" >15</text>
<text x="550.1" y="329.8" font-size="13.8" text-anchor="middle" font-weight="bold" fill="#000" >20</text>
<text x="587.7" y="329.8" font-size="13.8" text-anchor="middle" font-weight="bold" fill="#000" >25</text>
<text x="625.3" y="329.8" font-size="13.8" text-anchor="middle" font-weight="bold" fill="#000" >30</text>
<text x="662.9" y="329.8" font-size="13.8" text-anchor="middle" font-weight="bold" fill="#000" >35</text>
<text x="700.5" y="329.8" font-size="13.8" text-anchor="middle" font-weight="bold" fill="#000" >40</text>
<text x="609.2" y="354.2" font-size="16.3" text-anchor="middle" font-weight="bold" fill="#000" >2θ (Degree)</text>
<text transform="translate(497.6,170.7) rotate(-90)" font-size="16.8" text-anchor="middle" font-weight="bold">Intensity (a. u.)</text>
<rect x="515.8" y="19.5" width="97.7" height="15.7" fill="#fff" stroke="#555" stroke-width="1"/>
<line x1="516" y1="27.4" x2="544.5" y2="27.4" stroke="#1c881c" stroke-width="2"/>
<text x="546.5" y="31.0" font-size="11.2" text-anchor="start" font-weight="bold" fill="#000" letter-spacing="0.45">PEDOT:PSS</text>
<rect x="515.8" y="76.4" width="95.4" height="16.3" fill="#fff" stroke="#555" stroke-width="1"/>
<line x1="516" y1="84.6" x2="544.5" y2="84.6" stroke="#dd22dd" stroke-width="2"/>
<text x="546.5" y="88.2" font-size="11.2" text-anchor="start" font-weight="bold" fill="#000" letter-spacing="0.45">M / P 5 wt%</text>
<rect x="515.8" y="137.5" width="95.2" height="15.3" fill="#fff" stroke="#555" stroke-width="1"/>
<line x1="516" y1="145.2" x2="544.5" y2="145.2" stroke="#1818b8" stroke-width="2"/>
<text x="546.5" y="148.8" font-size="11.2" text-anchor="start" font-weight="bold" fill="#000" letter-spacing="0.45">M / P 1 wt%</text>
<rect x="515.8" y="197.8" width="103.4" height="14.2" fill="#fff" stroke="#555" stroke-width="1"/>
<line x1="516" y1="204.9" x2="544.5" y2="204.9" stroke="#d42222" stroke-width="2"/>
<text x="546.5" y="208.5" font-size="11.2" text-anchor="start" font-weight="bold" fill="#000" letter-spacing="0.45">M / P 0.5 wt%</text>
<rect x="515.8" y="256.3" width="78.2" height="15.7" fill="#fff" stroke="#555" stroke-width="1"/>
<line x1="516" y1="264.1" x2="544.5" y2="264.1" stroke="#000" stroke-width="2"/>
<text x="546.5" y="267.8" font-size="11.2" text-anchor="start" font-weight="bold" fill="#000" letter-spacing="0.45">MWCNT</text>
<path d="M594.3 39 L589.6 45.7 L597.6 45.6 Z" fill="#000"/><line x1="596" y1="43" x2="599" y2="41.2" stroke="#000" stroke-width="1"/>
<text x="604.6" y="48.7" font-size="12.1" text-anchor="start" font-weight="bold" fill="#000" >(020)</text>
<path d="M597.5 274.5 L600 265.8 L606.6 271 Z" fill="#000"/><line x1="603" y1="268.5" x2="605.5" y2="267" stroke="#000" stroke-width="1"/>
<text x="608.9" y="269.8" font-size="12.5" text-anchor="start" font-weight="bold" fill="#000" >(002)</text>
<text x="463.8" y="428.5" font-size="15.8" text-anchor="start" font-weight="bold" fill="#000" >(k)</text>
<line x1="615.8" y1="432.5" x2="615.8" y2="590.5" stroke="#aaa" stroke-width="1"/>
<line x1="518.2" y1="511.5" x2="713.5" y2="511.5" stroke="#aaa" stroke-width="1"/>
<clipPath id="kc"><rect x="518.2" y="432.5" width="195.29999999999995" height="158.0"/></clipPath>
<g clip-path="url(#kc)">
<path d="M518.1 591.6L519.1 591.6L520.1 591.6L521.1 591.5L522.1 591.5L523.0 591.4L524.0 591.4L525.0 591.3L526.0 591.2L526.9 591.1L527.9 591.1L528.9 590.9L529.9 590.8L530.8 590.7L531.8 590.6L532.8 590.4L533.8 590.2L534.8 590.0L535.7 589.8L536.7 589.6L537.7 589.4L538.7 589.1L539.6 588.8L540.6 588.5L541.6 588.2L542.6 587.8L543.5 587.4L544.5 587.0L545.5 586.5L546.5 586.1L547.4 585.6L548.4 585.0L549.4 584.5L550.4 583.8L551.4 583.2L552.3 582.5L553.3 581.8L554.3 581.1L555.3 580.3L556.2 579.5L557.2 578.7L558.2 577.8L559.2 576.9L560.1 576.0L561.1 575.0L562.1 574.1L563.1 573.0L564.0 572.0L565.0 570.9L566.0 569.9L567.0 568.7L568.0 567.6L568.9 566.5L569.9 565.3L570.9 564.1L571.9 562.9L572.8 561.7L573.8 560.5L574.8 559.3L575.8 558.0L576.7 556.8L577.7 555.5L578.7 554.3L579.7 553.0L580.6 551.8L581.6 550.6L582.6 549.3L583.6 548.1L584.6 546.8L585.5 545.6L586.5 544.4L587.5 543.2L588.5 541.9L589.4 540.7L590.4 539.5L591.4 538.4L592.4 537.2L593.3 536.0L594.3 534.9L595.3 533.7L596.3 532.6L597.2 531.5L598.2 530.3L599.2 529.2L600.2 528.1L601.2 527.1L602.1 526.0L603.1 524.9L604.1 523.8L605.1 522.8L606.0 521.7L607.0 520.7L608.0 519.7L609.0 518.6L609.9 517.6L610.9 516.6L611.9 515.6L612.9 514.5L613.8 513.5L614.8 512.5L615.8 511.5L616.8 510.5L617.8 509.5L618.7 508.5L619.7 507.4L620.7 506.4L621.7 505.4L622.6 504.4L623.6 503.3L624.6 502.3L625.6 501.3L626.5 500.2L627.5 499.2L628.5 498.1L629.5 497.0L630.4 495.9L631.4 494.9L632.4 493.8L633.4 492.7L634.4 491.5L635.3 490.4L636.3 489.3L637.3 488.1L638.3 487.0L639.2 485.8L640.2 484.6L641.2 483.5L642.2 482.3L643.1 481.1L644.1 479.8L645.1 478.6L646.1 477.4L647.0 476.2L648.0 474.9L649.0 473.7L650.0 472.4L651.0 471.2L651.9 470.0L652.9 468.7L653.9 467.5L654.9 466.2L655.8 465.0L656.8 463.7L657.8 462.5L658.8 461.3L659.7 460.1L660.7 458.9L661.7 457.7L662.7 456.5L663.6 455.4L664.6 454.3L665.6 453.1L666.6 452.1L667.6 451.0L668.5 450.0L669.5 448.9L670.5 448.0L671.5 447.0L672.4 446.1L673.4 445.2L674.4 444.3L675.4 443.5L676.3 442.7L677.3 441.9L678.3 441.2L679.3 440.5L680.2 439.8L681.2 439.2L682.2 438.5L683.2 438.0L684.2 437.4L685.1 436.9L686.1 436.5L687.1 436.0L688.1 435.6L689.0 435.2L690.0 434.8L691.0 434.5L692.0 434.2L692.9 433.9L693.9 433.6L694.9 433.4L695.9 433.2L696.8 433.0L697.8 432.8L698.8 432.6L699.8 432.4L700.8 432.3L701.7 432.2L702.7 432.1L703.7 431.9L704.7 431.9L705.6 431.8L706.6 431.7L707.6 431.6L708.6 431.6L709.5 431.5L710.5 431.5L711.5 431.4L712.5 431.4L713.4 431.4" fill="none" stroke="#000" stroke-width="1.6"/>
<path d="M544.2 591.6L544.9 591.6L545.6 591.6L546.3 591.6L547.1 591.5L547.8 591.5L548.5 591.4L549.2 591.4L549.9 591.4L550.6 591.3L551.4 591.2L552.1 591.2L552.8 591.1L553.5 591.0L554.2 590.9L554.9 590.8L555.6 590.7L556.4 590.6L557.1 590.5L557.8 590.4L558.5 590.2L559.2 590.1L559.9 589.9L560.7 589.7L561.4 589.5L562.1 589.3L562.8 589.0L563.5 588.8L564.2 588.5L565.0 588.2L565.7 587.9L566.4 587.5L567.1 587.2L567.8 586.8L568.5 586.3L569.3 585.9L570.0 585.4L570.7 584.9L571.4 584.3L572.1 583.7L572.8 583.1L573.6 582.5L574.3 581.8L575.0 581.0L575.7 580.3L576.4 579.5L577.1 578.6L577.8 577.7L578.6 576.8L579.3 575.9L580.0 574.9L580.7 573.8L581.4 572.7L582.1 571.6L582.9 570.5L583.6 569.3L584.3 568.0L585.0 566.8L585.7 565.5L586.4 564.2L587.2 562.8L587.9 561.4L588.6 560.0L589.3 558.6L590.0 557.1L590.7 555.7L591.5 554.2L592.2 552.7L592.9 551.2L593.6 549.7L594.3 548.2L595.0 546.7L595.7 545.1L596.5 543.6L597.2 542.1L597.9 540.6L598.6 539.2L599.3 537.7L600.0 536.2L600.8 534.8L601.5 533.4L602.2 532.0L602.9 530.6L603.6 529.3L604.3 528.0L605.1 526.7L605.8 525.4L606.5 524.2L607.2 523.0L607.9 521.8L608.6 520.7L609.4 519.6L610.1 518.6L610.8 517.5L611.5 516.6L612.2 515.6L612.9 514.7L613.7 513.9L614.4 513.0L615.1 512.2L615.8 511.5L616.5 510.8L617.2 510.0L617.9 509.1L618.7 508.3L619.4 507.4L620.1 506.4L620.8 505.5L621.5 504.4L622.2 503.4L623.0 502.3L623.7 501.2L624.4 500.0L625.1 498.8L625.8 497.6L626.5 496.3L627.3 495.0L628.0 493.7L628.7 492.4L629.4 491.0L630.1 489.6L630.8 488.2L631.6 486.8L632.3 485.3L633.0 483.8L633.7 482.4L634.4 480.9L635.1 479.4L635.9 477.9L636.6 476.3L637.3 474.8L638.0 473.3L638.7 471.8L639.4 470.3L640.1 468.8L640.9 467.3L641.6 465.9L642.3 464.4L643.0 463.0L643.7 461.6L644.4 460.2L645.2 458.8L645.9 457.5L646.6 456.2L647.3 455.0L648.0 453.7L648.7 452.5L649.5 451.4L650.2 450.3L650.9 449.2L651.6 448.1L652.3 447.1L653.0 446.2L653.8 445.3L654.5 444.4L655.2 443.5L655.9 442.7L656.6 442.0L657.3 441.2L658.0 440.5L658.8 439.9L659.5 439.3L660.2 438.7L660.9 438.1L661.6 437.6L662.3 437.1L663.1 436.7L663.8 436.2L664.5 435.8L665.2 435.5L665.9 435.1L666.6 434.8L667.4 434.5L668.1 434.2L668.8 434.0L669.5 433.7L670.2 433.5L670.9 433.3L671.7 433.1L672.4 432.9L673.1 432.8L673.8 432.6L674.5 432.5L675.2 432.4L676.0 432.3L676.7 432.2L677.4 432.1L678.1 432.0L678.8 431.9L679.5 431.8L680.2 431.8L681.0 431.7L681.7 431.6L682.4 431.6L683.1 431.6L683.8 431.5L684.5 431.5L685.3 431.4L686.0 431.4L686.7 431.4L687.4 431.4" fill="none" stroke="#d42222" stroke-width="1.6"/>
<path d="M589.1 592.5L589.4 591.7L589.6 590.9L589.9 590.1L590.2 589.3L590.4 588.4L590.7 587.6L591.0 586.8L591.2 586.0L591.5 585.2L591.8 584.4L592.0 583.6L592.3 582.8L592.6 582.0L592.8 581.2L593.1 580.3L593.4 579.5L593.6 578.7L593.9 577.9L594.2 577.1L594.4 576.3L594.7 575.5L595.0 574.7L595.2 573.9L595.5 573.1L595.8 572.2L596.0 571.4L596.3 570.6L596.6 569.8L596.8 569.0L597.1 568.2L597.4 567.4L597.7 566.6L597.9 565.8L598.2 565.0L598.5 564.1L598.7 563.3L599.0 562.5L599.3 561.7L599.5 560.9L599.8 560.1L600.1 559.3L600.3 558.5L600.6 557.7L600.9 556.9L601.1 556.0L601.4 555.2L601.7 554.4L601.9 553.6L602.2 552.8L602.5 552.0L602.7 551.2L603.0 550.4L603.3 549.6L603.5 548.8L603.8 547.9L604.1 547.1L604.3 546.3L604.6 545.5L604.9 544.7L605.1 543.9L605.4 543.1L605.7 542.3L605.9 541.5L606.2 540.7L606.5 539.8L606.7 539.0L607.0 538.2L607.3 537.4L607.5 536.6L607.8 535.8L608.1 535.0L608.3 534.2L608.6 533.4L608.9 532.6L609.1 531.7L609.4 530.9L609.7 530.1L609.9 529.3L610.2 528.5L610.5 527.7L610.7 526.9L611.0 526.1L611.3 525.3L611.5 524.5L611.8 523.6L612.1 522.8L612.3 522.0L612.6 521.2L612.9 520.4L613.1 519.6L613.4 518.8L613.7 518.0L613.9 517.2L614.2 516.4L614.5 515.5L614.7 514.7L615.0 513.9L615.3 513.1L615.5 512.3L615.8 511.5L616.1 510.7L616.3 509.9L616.6 509.1L616.9 508.3L617.1 507.5L617.4 506.6L617.7 505.8L617.9 505.0L618.2 504.2L618.5 503.4L618.7 502.6L619.0 501.8L619.3 501.0L619.5 500.2L619.8 499.4L620.1 498.5L620.3 497.7L620.6 496.9L620.9 496.1L621.1 495.3L621.4 494.5L621.7 493.7L621.9 492.9L622.2 492.1L622.5 491.3L622.7 490.4L623.0 489.6L623.3 488.8L623.5 488.0L623.8 487.2L624.1 486.4L624.3 485.6L624.6 484.8L624.9 484.0L625.1 483.2L625.4 482.3L625.7 481.5L625.9 480.7L626.2 479.9L626.5 479.1L626.7 478.3L627.0 477.5L627.3 476.7L627.5 475.9L627.8 475.1L628.1 474.2L628.3 473.4L628.6 472.6L628.9 471.8L629.1 471.0L629.4 470.2L629.7 469.4L629.9 468.6L630.2 467.8L630.5 467.0L630.7 466.1L631.0 465.3L631.3 464.5L631.5 463.7L631.8 462.9L632.1 462.1L632.3 461.3L632.6 460.5L632.9 459.7L633.1 458.9L633.4 458.0L633.7 457.2L633.9 456.4L634.2 455.6L634.5 454.8L634.8 454.0L635.0 453.2L635.3 452.4L635.6 451.6L635.8 450.8L636.1 449.9L636.4 449.1L636.6 448.3L636.9 447.5L637.2 446.7L637.4 445.9L637.7 445.1L638.0 444.3L638.2 443.5L638.5 442.7L638.8 441.8L639.0 441.0L639.3 440.2L639.6 439.4L639.8 438.6L640.1 437.8L640.4 437.0L640.6 436.2L640.9 435.4L641.2 434.6L641.4 433.7L641.7 432.9L642.0 432.1L642.2 431.3L642.5 430.5" fill="none" stroke="#1818c8" stroke-width="1.6"/>
<path d="M605.4 594.4L605.5 593.6L605.6 592.7L605.7 591.9L605.8 591.1L605.9 590.2L606.0 589.4L606.1 588.6L606.2 587.8L606.3 586.9L606.4 586.1L606.5 585.3L606.6 584.4L606.7 583.6L606.8 582.8L606.9 582.0L607.1 581.1L607.2 580.3L607.3 579.5L607.4 578.6L607.5 577.8L607.6 577.0L607.7 576.1L607.8 575.3L607.9 574.5L608.0 573.7L608.1 572.8L608.2 572.0L608.3 571.2L608.4 570.3L608.5 569.5L608.6 568.7L608.7 567.9L608.8 567.0L608.9 566.2L609.0 565.4L609.1 564.5L609.2 563.7L609.3 562.9L609.4 562.1L609.6 561.2L609.7 560.4L609.8 559.6L609.9 558.7L610.0 557.9L610.1 557.1L610.2 556.3L610.3 555.4L610.4 554.6L610.5 553.8L610.6 552.9L610.7 552.1L610.8 551.3L610.9 550.5L611.0 549.6L611.1 548.8L611.2 548.0L611.3 547.1L611.4 546.3L611.5 545.5L611.6 544.7L611.7 543.8L611.8 543.0L611.9 542.2L612.1 541.3L612.2 540.5L612.3 539.7L612.4 538.9L612.5 538.0L612.6 537.2L612.7 536.4L612.8 535.5L612.9 534.7L613.0 533.9L613.1 533.0L613.2 532.2L613.3 531.4L613.4 530.6L613.5 529.7L613.6 528.9L613.7 528.1L613.8 527.2L613.9 526.4L614.0 525.6L614.1 524.8L614.2 523.9L614.3 523.1L614.4 522.3L614.6 521.4L614.7 520.6L614.8 519.8L614.9 519.0L615.0 518.1L615.1 517.3L615.2 516.5L615.3 515.6L615.4 514.8L615.5 514.0L615.6 513.2L615.7 512.3L615.8 511.5L615.9 510.7L616.0 509.8L616.1 509.0L616.2 508.2L616.3 507.4L616.4 506.5L616.5 505.7L616.6 504.9L616.7 504.0L616.8 503.2L616.9 502.4L617.0 501.6L617.2 500.7L617.3 499.9L617.4 499.1L617.5 498.2L617.6 497.4L617.7 496.6L617.8 495.8L617.9 494.9L618.0 494.1L618.1 493.3L618.2 492.4L618.3 491.6L618.4 490.8L618.5 490.0L618.6 489.1L618.7 488.3L618.8 487.5L618.9 486.6L619.0 485.8L619.1 485.0L619.2 484.1L619.3 483.3L619.4 482.5L619.5 481.7L619.7 480.8L619.8 480.0L619.9 479.2L620.0 478.3L620.1 477.5L620.2 476.7L620.3 475.9L620.4 475.0L620.5 474.2L620.6 473.4L620.7 472.5L620.8 471.7L620.9 470.9L621.0 470.1L621.1 469.2L621.2 468.4L621.3 467.6L621.4 466.7L621.5 465.9L621.6 465.1L621.7 464.3L621.8 463.4L621.9 462.6L622.0 461.8L622.2 460.9L622.3 460.1L622.4 459.3L622.5 458.5L622.6 457.6L622.7 456.8L622.8 456.0L622.9 455.1L623.0 454.3L623.1 453.5L623.2 452.7L623.3 451.8L623.4 451.0L623.5 450.2L623.6 449.3L623.7 448.5L623.8 447.7L623.9 446.9L624.0 446.0L624.1 445.2L624.2 444.4L624.3 443.5L624.4 442.7L624.5 441.9L624.7 441.0L624.8 440.2L624.9 439.4L625.0 438.6L625.1 437.7L625.2 436.9L625.3 436.1L625.4 435.2L625.5 434.4L625.6 433.6L625.7 432.8L625.8 431.9L625.9 431.1L626.0 430.3L626.1 429.4L626.2 428.6" fill="none" stroke="#dd22dd" stroke-width="1.6"/>
</g>
<rect x="518.2" y="432.5" width="195.29999999999995" height="158.0" fill="none" stroke="#000" stroke-width="1.5"/>
<line x1="518.1" y1="590.5" x2="518.1" y2="587.0" stroke="#000" stroke-width="1.2"/>
<line x1="518.1" y1="432.5" x2="518.1" y2="436.0" stroke="#000" stroke-width="1.2"/>
<line x1="534.4" y1="590.5" x2="534.4" y2="588.5" stroke="#000" stroke-width="1.2"/>
<line x1="534.4" y1="432.5" x2="534.4" y2="434.5" stroke="#000" stroke-width="1.2"/>
<line x1="550.7" y1="590.5" x2="550.7" y2="587.0" stroke="#000" stroke-width="1.2"/>
<line x1="550.7" y1="432.5" x2="550.7" y2="436.0" stroke="#000" stroke-width="1.2"/>
<line x1="567.0" y1="590.5" x2="567.0" y2="588.5" stroke="#000" stroke-width="1.2"/>
<line x1="567.0" y1="432.5" x2="567.0" y2="434.5" stroke="#000" stroke-width="1.2"/>
<line x1="583.2" y1="590.5" x2="583.2" y2="587.0" stroke="#000" stroke-width="1.2"/>
<line x1="583.2" y1="432.5" x2="583.2" y2="436.0" stroke="#000" stroke-width="1.2"/>
<line x1="599.5" y1="590.5" x2="599.5" y2="588.5" stroke="#000" stroke-width="1.2"/>
<line x1="599.5" y1="432.5" x2="599.5" y2="434.5" stroke="#000" stroke-width="1.2"/>
<line x1="615.8" y1="590.5" x2="615.8" y2="587.0" stroke="#000" stroke-width="1.2"/>
<line x1="615.8" y1="432.5" x2="615.8" y2="436.0" stroke="#000" stroke-width="1.2"/>
<line x1="632.1" y1="590.5" x2="632.1" y2="588.5" stroke="#000" stroke-width="1.2"/>
<line x1="632.1" y1="432.5" x2="632.1" y2="434.5" stroke="#000" stroke-width="1.2"/>
<line x1="648.3" y1="590.5" x2="648.3" y2="587.0" stroke="#000" stroke-width="1.2"/>
<line x1="648.3" y1="432.5" x2="648.3" y2="436.0" stroke="#000" stroke-width="1.2"/>
<line x1="664.6" y1="590.5" x2="664.6" y2="588.5" stroke="#000" stroke-width="1.2"/>
<line x1="664.6" y1="432.5" x2="664.6" y2="434.5" stroke="#000" stroke-width="1.2"/>
<line x1="680.9" y1="590.5" x2="680.9" y2="587.0" stroke="#000" stroke-width="1.2"/>
<line x1="680.9" y1="432.5" x2="680.9" y2="436.0" stroke="#000" stroke-width="1.2"/>
<line x1="697.2" y1="590.5" x2="697.2" y2="588.5" stroke="#000" stroke-width="1.2"/>
<line x1="697.2" y1="432.5" x2="697.2" y2="434.5" stroke="#000" stroke-width="1.2"/>
<line x1="713.4" y1="590.5" x2="713.4" y2="587.0" stroke="#000" stroke-width="1.2"/>
<line x1="713.4" y1="432.5" x2="713.4" y2="436.0" stroke="#000" stroke-width="1.2"/>
<line x1="518.2" y1="579.0" x2="520.2" y2="579.0" stroke="#000" stroke-width="1.2"/>
<line x1="713.5" y1="579.0" x2="711.5" y2="579.0" stroke="#000" stroke-width="1.2"/>
<line x1="518.2" y1="565.5" x2="521.7" y2="565.5" stroke="#000" stroke-width="1.2"/>
<line x1="713.5" y1="565.5" x2="710.0" y2="565.5" stroke="#000" stroke-width="1.2"/>
<line x1="518.2" y1="552.0" x2="520.2" y2="552.0" stroke="#000" stroke-width="1.2"/>
<line x1="713.5" y1="552.0" x2="711.5" y2="552.0" stroke="#000" stroke-width="1.2"/>
<line x1="518.2" y1="538.5" x2="521.7" y2="538.5" stroke="#000" stroke-width="1.2"/>
<line x1="713.5" y1="538.5" x2="710.0" y2="538.5" stroke="#000" stroke-width="1.2"/>
<line x1="518.2" y1="525.0" x2="520.2" y2="525.0" stroke="#000" stroke-width="1.2"/>
<line x1="713.5" y1="525.0" x2="711.5" y2="525.0" stroke="#000" stroke-width="1.2"/>
<line x1="518.2" y1="511.5" x2="521.7" y2="511.5" stroke="#000" stroke-width="1.2"/>
<line x1="713.5" y1="511.5" x2="710.0" y2="511.5" stroke="#000" stroke-width="1.2"/>
<line x1="518.2" y1="498.0" x2="520.2" y2="498.0" stroke="#000" stroke-width="1.2"/>
<line x1="713.5" y1="498.0" x2="711.5" y2="498.0" stroke="#000" stroke-width="1.2"/>
<line x1="518.2" y1="484.5" x2="521.7" y2="484.5" stroke="#000" stroke-width="1.2"/>
<line x1="713.5" y1="484.5" x2="710.0" y2="484.5" stroke="#000" stroke-width="1.2"/>
<line x1="518.2" y1="471.0" x2="520.2" y2="471.0" stroke="#000" stroke-width="1.2"/>
<line x1="713.5" y1="471.0" x2="711.5" y2="471.0" stroke="#000" stroke-width="1.2"/>
<line x1="518.2" y1="457.5" x2="521.7" y2="457.5" stroke="#000" stroke-width="1.2"/>
<line x1="713.5" y1="457.5" x2="710.0" y2="457.5" stroke="#000" stroke-width="1.2"/>
<line x1="518.2" y1="444.0" x2="520.2" y2="444.0" stroke="#000" stroke-width="1.2"/>
<line x1="713.5" y1="444.0" x2="711.5" y2="444.0" stroke="#000" stroke-width="1.2"/>
<text x="514.6" y="569.7" font-size="11.4" text-anchor="end" font-weight="bold" fill="#000" >-400</text>
<text x="514.6" y="542.7" font-size="11.4" text-anchor="end" font-weight="bold" fill="#000" >-200</text>
<text x="514.6" y="515.7" font-size="11.4" text-anchor="end" font-weight="bold" fill="#000" >0</text>
<text x="514.6" y="488.7" font-size="11.4" text-anchor="end" font-weight="bold" fill="#000" >200</text>
<text x="514.6" y="461.7" font-size="11.4" text-anchor="end" font-weight="bold" fill="#000" >400</text>
<text x="517.6" y="602.8" font-size="11.2" text-anchor="middle" font-weight="bold" fill="#000" >-0.3</text>
<text x="550.2" y="602.8" font-size="11.2" text-anchor="middle" font-weight="bold" fill="#000" >-0.2</text>
<text x="582.8" y="602.8" font-size="11.2" text-anchor="middle" font-weight="bold" fill="#000" >-0.1</text>
<text x="615.3" y="602.8" font-size="11.2" text-anchor="middle" font-weight="bold" fill="#000" >0.0</text>
<text x="647.8" y="602.8" font-size="11.2" text-anchor="middle" font-weight="bold" fill="#000" >0.1</text>
<text x="680.4" y="602.8" font-size="11.2" text-anchor="middle" font-weight="bold" fill="#000" >0.2</text>
<text x="712.9" y="602.8" font-size="11.2" text-anchor="middle" font-weight="bold" fill="#000" >0.3</text>
<text x="616" y="622.6" font-size="14" text-anchor="middle" font-weight="bold" fill="#000" >Voltage (V)</text>
<text transform="translate(484.8,522.9) rotate(-90)" font-size="15.6" text-anchor="middle" font-weight="bold">Current (nA)</text>
<rect x="520.5" y="437" width="89.5" height="56" fill="#fff" stroke="#8a8a8a" stroke-width="1.6"/>
<line x1="521" y1="445.1" x2="547" y2="445.1" stroke="#000" stroke-width="1.6"/>
<text x="548.5" y="448.8" font-size="10.5" text-anchor="start" font-weight="bold" fill="#000" >MWCNT</text>
<line x1="521" y1="458.6" x2="547" y2="458.6" stroke="#d42222" stroke-width="1.6"/>
<text x="548.5" y="462.3" font-size="10.5" text-anchor="start" font-weight="bold" fill="#000" >M / P 0.5wt%</text>
<line x1="521" y1="472.1" x2="547" y2="472.1" stroke="#1818c8" stroke-width="1.6"/>
<text x="548.5" y="475.8" font-size="10.5" text-anchor="start" font-weight="bold" fill="#000" >M / P 1wt%</text>
<line x1="521" y1="485.6" x2="547" y2="485.6" stroke="#dd22dd" stroke-width="1.6"/>
<text x="548.5" y="489.3" font-size="10.5" text-anchor="start" font-weight="bold" fill="#000" >M / P 5wt%</text>
<defs>
<filter id="b1" x="-50%" y="-50%" width="200%" height="200%" color-interpolation-filters="sRGB"><feGaussianBlur stdDeviation="0.6"/></filter>
<filter id="b2" x="-50%" y="-50%" width="200%" height="200%" color-interpolation-filters="sRGB"><feGaussianBlur stdDeviation="1.2"/></filter>
<filter id="b3" x="-50%" y="-50%" width="200%" height="200%" color-interpolation-filters="sRGB"><feGaussianBlur stdDeviation="2.5"/></filter>
<filter id="b4" x="-50%" y="-50%" width="200%" height="200%" color-interpolation-filters="sRGB"><feGaussianBlur stdDeviation="4"/></filter>
<filter id="b5" x="-50%" y="-50%" width="200%" height="200%" color-interpolation-filters="sRGB"><feGaussianBlur stdDeviation="6"/></filter>
<filter id="htex" filterUnits="userSpaceOnUse" x="0" y="0" width="100" height="100" color-interpolation-filters="sRGB"><feTurbulence type="fractalNoise" baseFrequency="0.09 0.16" numOctaves="3" seed="3" result="n"/><feColorMatrix in="n" type="matrix" values="1 0 0 0 0  1 0 0 0 0  1 0 0 0 0  0 0 0 0 1" result="g"/><feComposite in="SourceGraphic" in2="g" operator="arithmetic" k1="0.8" k2="0.6" k3="0" k4="0"/></filter>
<filter id="hx1" filterUnits="userSpaceOnUse" x="-10" y="-10" width="120" height="120" color-interpolation-filters="sRGB"><feTurbulence type="fractalNoise" baseFrequency="0.05" numOctaves="3" seed="3" result="n"/><feColorMatrix in="SourceGraphic" type="matrix" values="0 0 0 0 0  0 0 0 0 0  0 0 0 0 0  0.500 0.900 0.200 0 0" result="lum"/><feColorMatrix in="n" type="matrix" values="0 0 0 0 0  0 0 0 0 0  0 0 0 0 0  0.6 0 0 0 0" result="na"/><feComposite in="lum" in2="na" operator="arithmetic" k1="0" k2="1" k3="1" k4="0" result="hh"/><feGaussianBlur in="hh" stdDeviation="1.0" result="h"/><feDiffuseLighting in="h" surfaceScale="8" diffuseConstant="1" lighting-color="#fff" result="L"><feDistantLight azimuth="225" elevation="45"/></feDiffuseLighting><feComposite in="SourceGraphic" in2="L" operator="arithmetic" k1="0.707" k2="0.500" k3="0" k4="0"/></filter>
<filter id="hx2" filterUnits="userSpaceOnUse" x="-10" y="-10" width="120" height="120" color-interpolation-filters="sRGB"><feTurbulence type="fractalNoise" baseFrequency="0.08" numOctaves="3" seed="5" result="n"/><feColorMatrix in="SourceGraphic" type="matrix" values="0 0 0 0 0  0 0 0 0 0  0 0 0 0 0  0.300 0.540 0.120 0 0" result="lum"/><feColorMatrix in="n" type="matrix" values="0 0 0 0 0  0 0 0 0 0  0 0 0 0 0  0.8 0 0 0 0" result="na"/><feComposite in="lum" in2="na" operator="arithmetic" k1="0" k2="1" k3="1" k4="0" result="hh"/><feGaussianBlur in="hh" stdDeviation="0.6" result="h"/><feDiffuseLighting in="h" surfaceScale="6" diffuseConstant="1" lighting-color="#fff" result="L"><feDistantLight azimuth="225" elevation="45"/></feDiffuseLighting><feComposite in="SourceGraphic" in2="L" operator="arithmetic" k1="0.636" k2="0.550" k3="0" k4="0"/></filter>
<filter id="hx3" filterUnits="userSpaceOnUse" x="-10" y="-10" width="120" height="120" color-interpolation-filters="sRGB"><feTurbulence type="fractalNoise" baseFrequency="0.08" numOctaves="3" seed="8" result="n"/><feColorMatrix in="SourceGraphic" type="matrix" values="0 0 0 0 0  0 0 0 0 0  0 0 0 0 0  0.300 0.540 0.120 0 0" result="lum"/><feColorMatrix in="n" type="matrix" values="0 0 0 0 0  0 0 0 0 0  0 0 0 0 0  0.8 0 0 0 0" result="na"/><feComposite in="lum" in2="na" operator="arithmetic" k1="0" k2="1" k3="1" k4="0" result="hh"/><feGaussianBlur in="hh" stdDeviation="0.6" result="h"/><feDiffuseLighting in="h" surfaceScale="6" diffuseConstant="1" lighting-color="#fff" result="L"><feDistantLight azimuth="225" elevation="45"/></feDiffuseLighting><feComposite in="SourceGraphic" in2="L" operator="arithmetic" k1="0.636" k2="0.550" k3="0" k4="0"/></filter>
<filter id="hx4" filterUnits="userSpaceOnUse" x="-10" y="-10" width="120" height="120" color-interpolation-filters="sRGB"><feTurbulence type="fractalNoise" baseFrequency="0.05 0.1" numOctaves="3" seed="12" result="n"/><feColorMatrix in="SourceGraphic" type="matrix" values="0 0 0 0 0  0 0 0 0 0  0 0 0 0 0  0.300 0.540 0.120 0 0" result="lum"/><feColorMatrix in="n" type="matrix" values="0 0 0 0 0  0 0 0 0 0  0 0 0 0 0  0.9 0 0 0 0" result="na"/><feComposite in="lum" in2="na" operator="arithmetic" k1="0" k2="1" k3="1" k4="0" result="hh"/><feGaussianBlur in="hh" stdDeviation="0.6" result="h"/><feDiffuseLighting in="h" surfaceScale="3.5" diffuseConstant="1" lighting-color="#fff" result="L"><feDistantLight azimuth="225" elevation="45"/></feDiffuseLighting><feComposite in="SourceGraphic" in2="L" operator="arithmetic" k1="0.495" k2="0.650" k3="0" k4="0"/></filter>
<filter id="cm1" filterUnits="userSpaceOnUse" x="0" y="0" width="100" height="100" color-interpolation-filters="sRGB"><feTurbulence type="fractalNoise" baseFrequency="0.14" numOctaves="2" seed="11" result="n1"/><feColorMatrix in="n1" type="matrix" values="1 0 0 0 0  1 0 0 0 0  1 0 0 0 0  0 0 0 0 1" result="g1"/><feTurbulence type="fractalNoise" baseFrequency="0.3" numOctaves="1" seed="16" result="n2"/><feColorMatrix in="n2" type="matrix" values="1 0 0 0 0  1 0 0 0 0  1 0 0 0 0  0 0 0 0 1" result="g2"/><feComposite in="g1" in2="g2" operator="arithmetic" k1="0" k2="0.5" k3="0.8" k4="-0.150" result="mr"/><feComposite in="SourceGraphic" in2="mr" operator="arithmetic" k1="0" k2="1" k3="1" k4="-0.5" result="s"/><feComponentTransfer in="s"><feFuncR type="discrete" tableValues="0.200 0.200 0.200 0.200 0.200 0.200 0.200 0.200 0.200 0.200 0.200 0.200 0.200 0.200 0.200 0.200 0.200 0.200 0.200 0.200 0.200 0.200 0.200 0.200 0.200 0.090 0.090 0.090 0.090 0.090 0.090 0.090 0.090 0.090 0.780 0.780 0.780 0.780 0.780 0.780 0.780 0.780 0.780 0.780 0.780 0.780 0.780 0.780 0.780 0.780"/><feFuncG type="discrete" tableValues="0.940 0.940 0.940 0.940 0.940 0.940 0.940 0.940 0.940 0.940 0.940 0.940 0.940 0.940 0.940 0.940 0.940 0.940 0.940 0.940 0.940 0.940 0.940 0.940 0.940 0.120 0.120 0.120 0.120 0.120 0.120 0.120 0.120 0.120 0.130 0.130 0.130 0.130 0.130 0.130 0.130 0.130 0.130 0.130 0.130 0.130 0.130 0.130 0.130 0.130"/><feFuncB type="discrete" tableValues="0.130 0.130 0.130 0.130 0.130 0.130 0.130 0.130 0.130 0.130 0.130 0.130 0.130 0.130 0.130 0.130 0.130 0.130 0.130 0.130 0.130 0.130 0.130 0.130 0.130 0.090 0.090 0.090 0.090 0.090 0.090 0.090 0.090 0.090 0.810 0.810 0.810 0.810 0.810 0.810 0.810 0.810 0.810 0.810 0.810 0.810 0.810 0.810 0.810 0.810"/><feFuncA type="linear" slope="0" intercept="1"/></feComponentTransfer><feGaussianBlur stdDeviation="0.45"/></filter>
<filter id="cm2" filterUnits="userSpaceOnUse" x="0" y="0" width="100" height="100" color-interpolation-filters="sRGB"><feTurbulence type="fractalNoise" baseFrequency="0.14" numOctaves="2" seed="23" result="n1"/><feColorMatrix in="n1" type="matrix" values="1 0 0 0 0  1 0 0 0 0  1 0 0 0 0  0 0 0 0 1" result="g1"/><feTurbulence type="fractalNoise" baseFrequency="0.3" numOctaves="1" seed="28" result="n2"/><feColorMatrix in="n2" type="matrix" values="1 0 0 0 0  1 0 0 0 0  1 0 0 0 0  0 0 0 0 1" result="g2"/><feComposite in="g1" in2="g2" operator="arithmetic" k1="0" k2="1.0" k3="0.8" k4="-0.400" result="mr"/><feComposite in="SourceGraphic" in2="mr" operator="arithmetic" k1="0" k2="1" k3="1" k4="-0.5" result="s"/><feComponentTransfer in="s"><feFuncR type="discrete" tableValues="0.200 0.200 0.200 0.200 0.200 0.200 0.200 0.200 0.200 0.200 0.200 0.200 0.200 0.200 0.200 0.200 0.200 0.200 0.200 0.200 0.200 0.200 0.200 0.200 0.200 0.090 0.090 0.090 0.090 0.090 0.090 0.090 0.090 0.780 0.780 0.780 0.780 0.780 0.780 0.780 0.780 0.780 0.780 0.780 0.780 0.780 0.780 0.780 0.780 0.780"/><feFuncG type="discrete" tableValues="0.940 0.940 0.940 0.940 0.940 0.940 0.940 0.940 0.940 0.940 0.940 0.940 0.940 0.940 0.940 0.940 0.940 0.940 0.940 0.940 0.940 0.940 0.940 0.940 0.940 0.120 0.120 0.120 0.120 0.120 0.120 0.120 0.120 0.130 0.130 0.130 0.130 0.130 0.130 0.130 0.130 0.130 0.130 0.130 0.130 0.130 0.130 0.130 0.130 0.130"/><feFuncB type="discrete" tableValues="0.130 0.130 0.130 0.130 0.130 0.130 0.130 0.130 0.130 0.130 0.130 0.130 0.130 0.130 0.130 0.130 0.130 0.130 0.130 0.130 0.130 0.130 0.130 0.130 0.130 0.090 0.090 0.090 0.090 0.090 0.090 0.090 0.090 0.810 0.810 0.810 0.810 0.810 0.810 0.810 0.810 0.810 0.810 0.810 0.810 0.810 0.810 0.810 0.810 0.810"/><feFuncA type="linear" slope="0" intercept="1"/></feComponentTransfer><feGaussianBlur stdDeviation="0.45"/></filter>
<filter id="cm3" filterUnits="userSpaceOnUse" x="0" y="0" width="100" height="100" color-interpolation-filters="sRGB"><feTurbulence type="fractalNoise" baseFrequency="0.14" numOctaves="2" seed="37" result="n1"/><feColorMatrix in="n1" type="matrix" values="1 0 0 0 0  1 0 0 0 0  1 0 0 0 0  0 0 0 0 1" result="g1"/><feTurbulence type="fractalNoise" baseFrequency="0.3" numOctaves="1" seed="42" result="n2"/><feColorMatrix in="n2" type="matrix" values="1 0 0 0 0  1 0 0 0 0  1 0 0 0 0  0 0 0 0 1" result="g2"/><feComposite in="g1" in2="g2" operator="arithmetic" k1="0" k2="1.0" k3="0.8" k4="-0.400" result="mr"/><feComposite in="SourceGraphic" in2="mr" operator="arithmetic" k1="0" k2="1" k3="1" k4="-0.5" result="s"/><feComponentTransfer in="s"><feFuncR type="discrete" tableValues="0.200 0.200 0.200 0.200 0.200 0.200 0.200 0.200 0.200 0.200 0.200 0.200 0.200 0.200 0.200 0.200 0.200 0.200 0.200 0.200 0.200 0.200 0.200 0.200 0.200 0.090 0.090 0.090 0.090 0.090 0.090 0.090 0.090 0.780 0.780 0.780 0.780 0.780 0.780 0.780 0.780 0.780 0.780 0.780 0.780 0.780 0.780 0.780 0.780 0.780"/><feFuncG type="discrete" tableValues="0.940 0.940 0.940 0.940 0.940 0.940 0.940 0.940 0.940 0.940 0.940 0.940 0.940 0.940 0.940 0.940 0.940 0.940 0.940 0.940 0.940 0.940 0.940 0.940 0.940 0.120 0.120 0.120 0.120 0.120 0.120 0.120 0.120 0.130 0.130 0.130 0.130 0.130 0.130 0.130 0.130 0.130 0.130 0.130 0.130 0.130 0.130 0.130 0.130 0.130"/><feFuncB type="discrete" tableValues="0.130 0.130 0.130 0.130 0.130 0.130 0.130 0.130 0.130 0.130 0.130 0.130 0.130 0.130 0.130 0.130 0.130 0.130 0.130 0.130 0.130 0.130 0.130 0.130 0.130 0.090 0.090 0.090 0.090 0.090 0.090 0.090 0.090 0.810 0.810 0.810 0.810 0.810 0.810 0.810 0.810 0.810 0.810 0.810 0.810 0.810 0.810 0.810 0.810 0.810"/><feFuncA type="linear" slope="0" intercept="1"/></feComponentTransfer><feGaussianBlur stdDeviation="0.45"/></filter>
<filter id="cm4" filterUnits="userSpaceOnUse" x="0" y="0" width="100" height="100" color-interpolation-filters="sRGB"><feTurbulence type="fractalNoise" baseFrequency="0.14" numOctaves="2" seed="51" result="n1"/><feColorMatrix in="n1" type="matrix" values="1 0 0 0 0  1 0 0 0 0  1 0 0 0 0  0 0 0 0 1" result="g1"/><feTurbulence type="fractalNoise" baseFrequency="0.3" numOctaves="1" seed="56" result="n2"/><feColorMatrix in="n2" type="matrix" values="1 0 0 0 0  1 0 0 0 0  1 0 0 0 0  0 0 0 0 1" result="g2"/><feComposite in="g1" in2="g2" operator="arithmetic" k1="0" k2="1.0" k3="0.8" k4="-0.400" result="mr"/><feComposite in="SourceGraphic" in2="mr" operator="arithmetic" k1="0" k2="1" k3="1" k4="-0.5" result="s"/><feComponentTransfer in="s"><feFuncR type="discrete" tableValues="0.200 0.200 0.200 0.200 0.200 0.200 0.200 0.200 0.200 0.200 0.200 0.200 0.200 0.200 0.200 0.200 0.200 0.200 0.200 0.200 0.200 0.200 0.200 0.200 0.200 0.090 0.090 0.090 0.090 0.090 0.090 0.780 0.780 0.780 0.780 0.780 0.780 0.780 0.780 0.780 0.780 0.780 0.780 0.780 0.780 0.780 0.780 0.780 0.780 0.780"/><feFuncG type="discrete" tableValues="0.940 0.940 0.940 0.940 0.940 0.940 0.940 0.940 0.940 0.940 0.940 0.940 0.940 0.940 0.940 0.940 0.940 0.940 0.940 0.940 0.940 0.940 0.940 0.940 0.940 0.120 0.120 0.120 0.120 0.120 0.120 0.130 0.130 0.130 0.130 0.130 0.130 0.130 0.130 0.130 0.130 0.130 0.130 0.130 0.130 0.130 0.130 0.130 0.130 0.130"/><feFuncB type="discrete" tableValues="0.130 0.130 0.130 0.130 0.130 0.130 0.130 0.130 0.130 0.130 0.130 0.130 0.130 0.130 0.130 0.130 0.130 0.130 0.130 0.130 0.130 0.130 0.130 0.130 0.130 0.090 0.090 0.090 0.090 0.090 0.090 0.810 0.810 0.810 0.810 0.810 0.810 0.810 0.810 0.810 0.810 0.810 0.810 0.810 0.810 0.810 0.810 0.810 0.810 0.810"/><feFuncA type="linear" slope="0" intercept="1"/></feComponentTransfer><feGaussianBlur stdDeviation="0.45"/></filter>
<clipPath id="tclip" clipPathUnits="userSpaceOnUse"><rect x="0" y="0" width="100" height="100"/></clipPath>
<linearGradient id="cbh" x1="0" y1="0" x2="0" y2="1"><stop offset="0" stop-color="#fbf6e8"/><stop offset="0.2" stop-color="#e8cc88"/><stop offset="0.36" stop-color="#c89040"/><stop offset="0.5" stop-color="#a05818"/><stop offset="0.6" stop-color="#8a3808"/><stop offset="0.75" stop-color="#5a1404"/><stop offset="0.9" stop-color="#300800"/><stop offset="1" stop-color="#1a0000"/></linearGradient><linearGradient id="cbc" x1="0" y1="0" x2="0" y2="1"><stop offset="0" stop-color="#a020e8"/><stop offset="0.15" stop-color="#d020c0"/><stop offset="0.32" stop-color="#f020a0"/><stop offset="0.5" stop-color="#701870"/><stop offset="0.64" stop-color="#100830"/><stop offset="0.78" stop-color="#103818"/><stop offset="0.9" stop-color="#30a030"/><stop offset="1" stop-color="#48d848"/></linearGradient>
</defs>
<text x="27.8" y="395.0" font-size="15.3" text-anchor="start" font-weight="bold" fill="#000" >(c)</text>
<text x="73.3" y="410.5" font-size="14.2" text-anchor="middle" font-weight="bold" fill="#000" >MWCNT</text>
<text x="122.6" y="395.0" font-size="15.3" text-anchor="start" font-weight="bold" fill="#000" >(d)</text>
<text x="166.3" y="410.5" font-size="14.2" text-anchor="middle" font-weight="bold" fill="#000" >M/P 0.5wt%</text>
<text x="214.0" y="395.0" font-size="15.3" text-anchor="start" font-weight="bold" fill="#000" >(e)</text>
<text x="258.8" y="410.5" font-size="14.2" text-anchor="middle" font-weight="bold" fill="#000" >M/P 1 wt%</text>
<text x="306.8" y="395.0" font-size="15.3" text-anchor="start" font-weight="bold" fill="#000" >(f)</text>
<text x="351.0" y="410.5" font-size="14.2" text-anchor="middle" font-weight="bold" fill="#000" >M/P 5 wt%</text>
<rect x="29.2" y="415.7" width="90.5" height="1.9" fill="#000"/>
<rect x="121.2" y="415.7" width="90.8" height="1.9" fill="#000"/>
<rect x="214.0" y="415.7" width="90.4" height="1.9" fill="#000"/>
<rect x="306.5" y="415.7" width="90.7" height="1.9" fill="#000"/>
<rect x="25" y="418.9" width="2" height="91.8" fill="#000"/>
<rect x="25.8" y="535.7" width="2" height="91" fill="#000"/>
<text transform="translate(19,464) rotate(-90)" font-size="14.5" text-anchor="middle" font-weight="bold">Height</text>
<text transform="translate(19.3,580) rotate(-90)" font-size="14.5" text-anchor="middle" font-weight="bold">Current</text>
<text x="28.2" y="531.6" font-size="15.3" text-anchor="start" font-weight="bold" fill="#000" >(g)</text>
<text x="122.4" y="531.6" font-size="15.3" text-anchor="start" font-weight="bold" fill="#000" >(h)</text>
<text x="214.0" y="531.6" font-size="15.3" text-anchor="start" font-weight="bold" fill="#000" >(i)</text>
<text x="307.4" y="531.6" font-size="15.3" text-anchor="start" font-weight="bold" fill="#000" >(j)</text>
<g transform="translate(29.2,418.9) scale(0.9050,0.9090)" clip-path="url(#tclip)"><g filter="url(#hx1)"><g filter="url(#b4)"><rect x="-6.00" y="-6.00" width="18.80" height="18.80" fill="#7a3004"/><rect x="12.50" y="-6.00" width="12.80" height="18.80" fill="#5a0a04"/><rect x="25.00" y="-6.00" width="12.80" height="18.80" fill="#7a2a04"/><rect x="37.50" y="-6.00" width="12.80" height="18.80" fill="#803404"/><rect x="50.00" y="-6.00" width="12.80" height="18.80" fill="#803404"/><rect x="62.50" y="-6.00" width="12.80" height="18.80" fill="#763404"/><rect x="75.00" y="-6.00" width="12.80" height="18.80" fill="#7e4004"/><rect x="87.50" y="-6.00" width="18.80" height="18.80" fill="#7e4004"/><rect x="-6.00" y="12.50" width="18.80" height="12.80" fill="#4a0604"/><rect x="12.50" y="12.50" width="12.80" height="12.80" fill="#440404"/><rect x="25.00" y="12.50" width="12.80" height="12.80" fill="#6a1604"/><rect x="37.50" y="12.50" width="12.80" height="12.80" fill="#4a0604"/><rect x="50.00" y="12.50" width="12.80" height="12.80" fill="#5a1404"/><rect x="62.50" y="12.50" width="12.80" height="12.80" fill="#804404"/><rect x="75.00" y="12.50" width="12.80" height="12.80" fill="#7a3c04"/><rect x="87.50" y="12.50" width="18.80" height="12.80" fill="#6e3004"/><rect x="-6.00" y="25.00" width="18.80" height="12.80" fill="#7a3a04"/><rect x="12.50" y="25.00" width="12.80" height="12.80" fill="#763404"/><rect x="25.00" y="25.00" width="12.80" height="12.80" fill="#5a0c04"/><rect x="37.50" y="25.00" width="12.80" height="12.80" fill="#480604"/><rect x="50.00" y="25.00" width="12.80" height="12.80" fill="#6a2404"/><rect x="62.50" y="25.00" width="12.80" height="12.80" fill="#7a3a04"/><rect x="75.00" y="25.00" width="12.80" height="12.80" fill="#7a3c04"/><rect x="87.50" y="25.00" width="18.80" height="12.80" fill="#7a3404"/><rect x="-6.00" y="37.50" width="18.80" height="12.80" fill="#5a1404"/><rect x="12.50" y="37.50" width="12.80" height="12.80" fill="#7a3a04"/><rect x="25.00" y="37.50" width="12.80" height="12.80" fill="#6a2804"/><rect x="37.50" y="37.50" width="12.80" height="12.80" fill="#5a1404"/><rect x="50.00" y="37.50" width="12.80" height="12.80" fill="#6a2804"/><rect x="62.50" y="37.50" width="12.80" height="12.80" fill="#5a1004"/><rect x="75.00" y="37.50" width="12.80" height="12.80" fill="#440404"/><rect x="87.50" y="37.50" width="18.80" height="12.80" fill="#3a0404"/><rect x="-6.00" y="50.00" width="18.80" height="12.80" fill="#4a0604"/><rect x="12.50" y="50.00" width="12.80" height="12.80" fill="#520804"/><rect x="25.00" y="50.00" width="12.80" height="12.80" fill="#7a3a04"/><rect x="37.50" y="50.00" width="12.80" height="12.80" fill="#7a3a04"/><rect x="50.00" y="50.00" width="12.80" height="12.80" fill="#763404"/><rect x="62.50" y="50.00" width="12.80" height="12.80" fill="#7a3004"/><rect x="75.00" y="50.00" width="12.80" height="12.80" fill="#440404"/><rect x="87.50" y="50.00" width="18.80" height="12.80" fill="#5a0c04"/><rect x="-6.00" y="62.50" width="18.80" height="12.80" fill="#5a0c04"/><rect x="12.50" y="62.50" width="12.80" height="12.80" fill="#7a3004"/><rect x="25.00" y="62.50" width="12.80" height="12.80" fill="#803404"/><rect x="37.50" y="62.50" width="12.80" height="12.80" fill="#6e3004"/><rect x="50.00" y="62.50" width="12.80" height="12.80" fill="#7a3c04"/><rect x="62.50" y="62.50" width="12.80" height="12.80" fill="#763404"/><rect x="75.00" y="62.50" width="12.80" height="12.80" fill="#5a1004"/><rect x="87.50" y="62.50" width="18.80" height="12.80" fill="#6a1a04"/><rect x="-6.00" y="75.00" width="18.80" height="12.80" fill="#6a2c04"/><rect x="12.50" y="75.00" width="12.80" height="12.80" fill="#7a3004"/><rect x="25.00" y="75.00" width="12.80" height="12.80" fill="#520804"/><rect x="37.50" y="75.00" width="12.80" height="12.80" fill="#4a0604"/><rect x="50.00" y="75.00" width="12.80" height="12.80" fill="#5a1004"/><rect x="62.50" y="75.00" width="12.80" height="12.80" fill="#763404"/><rect x="75.00" y="75.00" width="12.80" height="12.80" fill="#6e3004"/><rect x="87.50" y="75.00" width="18.80" height="12.80" fill="#3a0404"/><rect x="-6.00" y="87.50" width="18.80" height="18.80" fill="#7a3404"/><rect x="12.50" y="87.50" width="12.80" height="18.80" fill="#803c04"/><rect x="25.00" y="87.50" width="12.80" height="18.80" fill="#5a0c04"/><rect x="37.50" y="87.50" width="12.80" height="18.80" fill="#5a1004"/><rect x="50.00" y="87.50" width="12.80" height="18.80" fill="#6a1e04"/><rect x="62.50" y="87.50" width="12.80" height="18.80" fill="#7a3404"/><rect x="75.00" y="87.50" width="12.80" height="18.80" fill="#6e3004"/><rect x="87.50" y="87.50" width="18.80" height="18.80" fill="#520c04"/></g>
<path d="M2 6 C20 3 40 8 52 4" fill="none" stroke="#8a2a06" stroke-width="2.5" stroke-linecap="round" stroke-linejoin="round" opacity="0.6" filter="url(#b1)"/>
<path d="M30 14 C34 22 36 30 33 38" fill="none" stroke="#8a2a06" stroke-width="2.5" stroke-linecap="round" stroke-linejoin="round" opacity="0.6" filter="url(#b1)"/>
<path d="M0 42 C12 40 22 44 30 40" fill="none" stroke="#8a2a06" stroke-width="2.5" stroke-linecap="round" stroke-linejoin="round" opacity="0.6" filter="url(#b1)"/>
<path d="M66 48 C76 50 88 56 100 54" fill="none" stroke="#8a2a06" stroke-width="2.5" stroke-linecap="round" stroke-linejoin="round" opacity="0.6" filter="url(#b1)"/>
<path d="M20 76 C35 72 50 76 66 70" fill="none" stroke="#8a2a06" stroke-width="2.5" stroke-linecap="round" stroke-linejoin="round" opacity="0.6" filter="url(#b1)"/>
<path d="M70 92 C80 88 90 92 100 90" fill="none" stroke="#8a2a06" stroke-width="2.5" stroke-linecap="round" stroke-linejoin="round" opacity="0.6" filter="url(#b1)"/>
<path d="M8 26 C14 30 20 28 24 32" fill="none" stroke="#8a2a06" stroke-width="2.5" stroke-linecap="round" stroke-linejoin="round" opacity="0.6" filter="url(#b1)"/>
<path d="M-4 22 C8 28 20 36 30 44 C40 52 48 60 55 68 C62 76 70 86 78 96 C80 99 82 102 84 104" fill="none" stroke="#8e5c00" stroke-width="10" stroke-linecap="round" stroke-linejoin="round" opacity="0.9" filter="url(#b3)"/>
<path d="M53 -4 C55 8 58 18 60 30" fill="none" stroke="#966400" stroke-width="9" stroke-linecap="round" stroke-linejoin="round" opacity="0.9" filter="url(#b3)"/>
<path d="M60 30 C66 24 72 18 80 13 C88 9 94 8 104 7" fill="none" stroke="#8e5c00" stroke-width="7" stroke-linecap="round" stroke-linejoin="round" opacity="0.9" filter="url(#b3)"/>
<path d="M104 31 C88 34 74 38 62 42 C56 44 52 45 46 46" fill="none" stroke="#865400" stroke-width="6" stroke-linecap="round" stroke-linejoin="round" opacity="0.9" filter="url(#b3)"/>
<path d="M46 58 C60 62 76 66 90 70 C96 72 100 73 104 74" fill="none" stroke="#865400" stroke-width="5" stroke-linecap="round" stroke-linejoin="round" opacity="0.9" filter="url(#b3)"/>
<path d="M-4 68 C8 66 18 64 26 62 C32 60 38 58 42 56" fill="none" stroke="#804e00" stroke-width="6" stroke-linecap="round" stroke-linejoin="round" opacity="0.9" filter="url(#b3)"/>
<path d="M-4 94 C10 92 22 91 32 90 C42 88 50 86 58 82" fill="none" stroke="#865400" stroke-width="6" stroke-linecap="round" stroke-linejoin="round" opacity="0.9" filter="url(#b3)"/>
<path d="M0 24 C12 30 24 38 34 48" fill="none" stroke="#a87408" stroke-width="2.5" stroke-linecap="round" stroke-linejoin="round" opacity="0.7" filter="url(#b2)"/>
<path d="M54 2 C56 12 58 20 59 28" fill="none" stroke="#a87408" stroke-width="2.5" stroke-linecap="round" stroke-linejoin="round" opacity="0.7" filter="url(#b2)"/>
<path d="M62 26 C70 18 80 12 96 9" fill="none" stroke="#a87408" stroke-width="2.5" stroke-linecap="round" stroke-linejoin="round" opacity="0.7" filter="url(#b2)"/>
<path d="M46 58 C52 64 58 70 64 78" fill="none" stroke="#a87408" stroke-width="2.5" stroke-linecap="round" stroke-linejoin="round" opacity="0.7" filter="url(#b2)"/>
<path d="M76 38 C84 36 92 34 100 33" fill="none" stroke="#a87408" stroke-width="2.5" stroke-linecap="round" stroke-linejoin="round" opacity="0.7" filter="url(#b2)"/>
<path d="M4 66 C14 64 24 62 34 60" fill="none" stroke="#a87408" stroke-width="2.5" stroke-linecap="round" stroke-linejoin="round" opacity="0.7" filter="url(#b2)"/></g></g>
<g transform="translate(121.2,418.9) scale(0.9080,0.9090)" clip-path="url(#tclip)"><g filter="url(#hx2)"><g filter="url(#b4)"><rect x="-6.00" y="-6.00" width="18.80" height="18.80" fill="#5a1808"/><rect x="12.50" y="-6.00" width="12.80" height="18.80" fill="#c89020"/><rect x="25.00" y="-6.00" width="12.80" height="18.80" fill="#d8a828"/><rect x="37.50" y="-6.00" width="12.80" height="18.80" fill="#6a2808"/><rect x="50.00" y="-6.00" width="12.80" height="18.80" fill="#6a1808"/><rect x="62.50" y="-6.00" width="12.80" height="18.80" fill="#b08820"/><rect x="75.00" y="-6.00" width="12.80" height="18.80" fill="#b89020"/><rect x="87.50" y="-6.00" width="18.80" height="18.80" fill="#c09828"/><rect x="-6.00" y="12.50" width="18.80" height="12.80" fill="#7a3010"/><rect x="12.50" y="12.50" width="12.80" height="12.80" fill="#d8a828"/><rect x="25.00" y="12.50" width="12.80" height="12.80" fill="#c08818"/><rect x="37.50" y="12.50" width="12.80" height="12.80" fill="#c07050"/><rect x="50.00" y="12.50" width="12.80" height="12.80" fill="#8a3018"/><rect x="62.50" y="12.50" width="12.80" height="12.80" fill="#c09020"/><rect x="75.00" y="12.50" width="12.80" height="12.80" fill="#6a3010"/><rect x="87.50" y="12.50" width="18.80" height="12.80" fill="#b89028"/><rect x="-6.00" y="25.00" width="18.80" height="12.80" fill="#b08018"/><rect x="12.50" y="25.00" width="12.80" height="12.80" fill="#c89020"/><rect x="25.00" y="25.00" width="12.80" height="12.80" fill="#b87030"/><rect x="37.50" y="25.00" width="12.80" height="12.80" fill="#a05030"/><rect x="50.00" y="25.00" width="12.80" height="12.80" fill="#a04838"/><rect x="62.50" y="25.00" width="12.80" height="12.80" fill="#6a2810"/><rect x="75.00" y="25.00" width="12.80" height="12.80" fill="#c8a030"/><rect x="87.50" y="25.00" width="18.80" height="12.80" fill="#b08020"/><rect x="-6.00" y="37.50" width="18.80" height="12.80" fill="#c09020"/><rect x="12.50" y="37.50" width="12.80" height="12.80" fill="#c89828"/><rect x="25.00" y="37.50" width="12.80" height="12.80" fill="#a05020"/><rect x="37.50" y="37.50" width="12.80" height="12.80" fill="#b06040"/><rect x="50.00" y="37.50" width="12.80" height="12.80" fill="#7a2818"/><rect x="62.50" y="37.50" width="12.80" height="12.80" fill="#8a4020"/><rect x="75.00" y="37.50" width="12.80" height="12.80" fill="#6a2010"/><rect x="87.50" y="37.50" width="18.80" height="12.80" fill="#5a1010"/><rect x="-6.00" y="50.00" width="18.80" height="12.80" fill="#c09020"/><rect x="12.50" y="50.00" width="12.80" height="12.80" fill="#d0a828"/><rect x="25.00" y="50.00" width="12.80" height="12.80" fill="#b88820"/><rect x="37.50" y="50.00" width="12.80" height="12.80" fill="#a04828"/><rect x="50.00" y="50.00" width="12.80" height="12.80" fill="#a05020"/><rect x="62.50" y="50.00" width="12.80" height="12.80" fill="#c07050"/><rect x="75.00" y="50.00" width="12.80" height="12.80" fill="#8a3020"/><rect x="87.50" y="50.00" width="18.80" height="12.80" fill="#6a1010"/><rect x="-6.00" y="62.50" width="18.80" height="12.80" fill="#e0c050"/><rect x="12.50" y="62.50" width="12.80" height="12.80" fill="#c89828"/><rect x="25.00" y="62.50" width="12.80" height="12.80" fill="#c09020"/><rect x="37.50" y="62.50" width="12.80" height="12.80" fill="#a06028"/><rect x="50.00" y="62.50" width="12.80" height="12.80" fill="#b88020"/><rect x="62.50" y="62.50" width="12.80" height="12.80" fill="#c07048"/><rect x="75.00" y="62.50" width="12.80" height="12.80" fill="#8a4020"/><rect x="87.50" y="62.50" width="18.80" height="12.80" fill="#a04838"/><rect x="-6.00" y="75.00" width="18.80" height="12.80" fill="#d0a030"/><rect x="12.50" y="75.00" width="12.80" height="12.80" fill="#c09020"/><rect x="25.00" y="75.00" width="12.80" height="12.80" fill="#b88820"/><rect x="37.50" y="75.00" width="12.80" height="12.80" fill="#b87028"/><rect x="50.00" y="75.00" width="12.80" height="12.80" fill="#c08830"/><rect x="62.50" y="75.00" width="12.80" height="12.80" fill="#b06828"/><rect x="75.00" y="75.00" width="12.80" height="12.80" fill="#b86848"/><rect x="87.50" y="75.00" width="18.80" height="12.80" fill="#9a5020"/><rect x="-6.00" y="87.50" width="18.80" height="18.80" fill="#c89828"/><rect x="12.50" y="87.50" width="12.80" height="18.80" fill="#b88820"/><rect x="25.00" y="87.50" width="12.80" height="18.80" fill="#c09020"/><rect x="37.50" y="87.50" width="12.80" height="18.80" fill="#b88030"/><rect x="50.00" y="87.50" width="12.80" height="18.80" fill="#c09030"/><rect x="62.50" y="87.50" width="12.80" height="18.80" fill="#a05828"/><rect x="75.00" y="87.50" width="12.80" height="18.80" fill="#b06830"/><rect x="87.50" y="87.50" width="18.80" height="18.80" fill="#b07030"/></g>
<path d="M16 2 C18 14 16 28 12 44" fill="none" stroke="#f0d060" stroke-width="3" stroke-linecap="round" stroke-linejoin="round" opacity="0.45" filter="url(#b2)"/>
<path d="M4 50 C6 60 4 70 2 80" fill="none" stroke="#f0d060" stroke-width="3" stroke-linecap="round" stroke-linejoin="round" opacity="0.45" filter="url(#b2)"/>
<path d="M8 84 C16 88 24 90 30 88" fill="none" stroke="#f0d060" stroke-width="3" stroke-linecap="round" stroke-linejoin="round" opacity="0.45" filter="url(#b2)"/>
<path d="M70 22 C78 20 86 22 96 18" fill="none" stroke="#f0d060" stroke-width="3" stroke-linecap="round" stroke-linejoin="round" opacity="0.45" filter="url(#b2)"/></g></g>
<g transform="translate(214.0,418.9) scale(0.9040,0.9090)" clip-path="url(#tclip)"><g filter="url(#hx3)"><g filter="url(#b4)"><rect x="-6.00" y="-6.00" width="18.80" height="18.80" fill="#a05018"/><rect x="12.50" y="-6.00" width="12.80" height="18.80" fill="#4a0a08"/><rect x="25.00" y="-6.00" width="12.80" height="18.80" fill="#5a1008"/><rect x="37.50" y="-6.00" width="12.80" height="18.80" fill="#b09028"/><rect x="50.00" y="-6.00" width="12.80" height="18.80" fill="#c09020"/><rect x="62.50" y="-6.00" width="12.80" height="18.80" fill="#b07020"/><rect x="75.00" y="-6.00" width="12.80" height="18.80" fill="#6a1a10"/><rect x="87.50" y="-6.00" width="18.80" height="18.80" fill="#7a2010"/><rect x="-6.00" y="12.50" width="18.80" height="12.80" fill="#8a2a10"/><rect x="12.50" y="12.50" width="12.80" height="12.80" fill="#6a1810"/><rect x="25.00" y="12.50" width="12.80" height="12.80" fill="#c0a030"/><rect x="37.50" y="12.50" width="12.80" height="12.80" fill="#b88830"/><rect x="50.00" y="12.50" width="12.80" height="12.80" fill="#d0a030"/><rect x="62.50" y="12.50" width="12.80" height="12.80" fill="#7a2010"/><rect x="75.00" y="12.50" width="12.80" height="12.80" fill="#c07060"/><rect x="87.50" y="12.50" width="18.80" height="12.80" fill="#8a3020"/><rect x="-6.00" y="25.00" width="18.80" height="12.80" fill="#8a2a10"/><rect x="12.50" y="25.00" width="12.80" height="12.80" fill="#a05020"/><rect x="25.00" y="25.00" width="12.80" height="12.80" fill="#b08a28"/><rect x="37.50" y="25.00" width="12.80" height="12.80" fill="#b06828"/><rect x="50.00" y="25.00" width="12.80" height="12.80" fill="#9a4818"/><rect x="62.50" y="25.00" width="12.80" height="12.80" fill="#8a3820"/><rect x="75.00" y="25.00" width="12.80" height="12.80" fill="#c07058"/><rect x="87.50" y="25.00" width="18.80" height="12.80" fill="#7a2818"/><rect x="-6.00" y="37.50" width="18.80" height="12.80" fill="#b06020"/><rect x="12.50" y="37.50" width="12.80" height="12.80" fill="#b08028"/><rect x="25.00" y="37.50" width="12.80" height="12.80" fill="#b06050"/><rect x="37.50" y="37.50" width="12.80" height="12.80" fill="#a05028"/><rect x="50.00" y="37.50" width="12.80" height="12.80" fill="#b06828"/><rect x="62.50" y="37.50" width="12.80" height="12.80" fill="#8a4820"/><rect x="75.00" y="37.50" width="12.80" height="12.80" fill="#b06848"/><rect x="87.50" y="37.50" width="18.80" height="12.80" fill="#9a5028"/><rect x="-6.00" y="50.00" width="18.80" height="12.80" fill="#a05020"/><rect x="12.50" y="50.00" width="12.80" height="12.80" fill="#c07050"/><rect x="25.00" y="50.00" width="12.80" height="12.80" fill="#8a2818"/><rect x="37.50" y="50.00" width="12.80" height="12.80" fill="#b06828"/><rect x="50.00" y="50.00" width="12.80" height="12.80" fill="#c08058"/><rect x="62.50" y="50.00" width="12.80" height="12.80" fill="#b07028"/><rect x="75.00" y="50.00" width="12.80" height="12.80" fill="#c08838"/><rect x="87.50" y="50.00" width="18.80" height="12.80" fill="#8a3820"/><rect x="-6.00" y="62.50" width="18.80" height="12.80" fill="#b06028"/><rect x="12.50" y="62.50" width="12.80" height="12.80" fill="#c07848"/><rect x="25.00" y="62.50" width="12.80" height="12.80" fill="#8a3020"/><rect x="37.50" y="62.50" width="12.80" height="12.80" fill="#b07030"/><rect x="50.00" y="62.50" width="12.80" height="12.80" fill="#c09040"/><rect x="62.50" y="62.50" width="12.80" height="12.80" fill="#b07030"/><rect x="75.00" y="62.50" width="12.80" height="12.80" fill="#9a5028"/><rect x="87.50" y="62.50" width="18.80" height="12.80" fill="#b06848"/><rect x="-6.00" y="75.00" width="18.80" height="12.80" fill="#8a3020"/><rect x="12.50" y="75.00" width="12.80" height="12.80" fill="#a05828"/><rect x="25.00" y="75.00" width="12.80" height="12.80" fill="#9a5020"/><rect x="37.50" y="75.00" width="12.80" height="12.80" fill="#b06848"/><rect x="50.00" y="75.00" width="12.80" height="12.80" fill="#a05820"/><rect x="62.50" y="75.00" width="12.80" height="12.80" fill="#c07848"/><rect x="75.00" y="75.00" width="12.80" height="12.80" fill="#8a4020"/><rect x="87.50" y="75.00" width="18.80" height="12.80" fill="#8a3020"/><rect x="-6.00" y="87.50" width="18.80" height="18.80" fill="#a04838"/><rect x="12.50" y="87.50" width="12.80" height="18.80" fill="#a07028"/><rect x="25.00" y="87.50" width="12.80" height="18.80" fill="#b07028"/><rect x="37.50" y="87.50" width="12.80" height="18.80" fill="#8a4820"/><rect x="50.00" y="87.50" width="12.80" height="18.80" fill="#a07020"/><rect x="62.50" y="87.50" width="12.80" height="18.80" fill="#b06828"/><rect x="75.00" y="87.50" width="12.80" height="18.80" fill="#a05038"/><rect x="87.50" y="87.50" width="18.80" height="18.80" fill="#8a3020"/></g>
<path d="M52 4 C44 10 36 18 30 28 C26 36 24 44 24 52" fill="none" stroke="#d8c050" stroke-width="4" stroke-linecap="round" stroke-linejoin="round" opacity="0.45" filter="url(#b3)"/>
<path d="M64 4 C74 6 84 4 96 6" fill="none" stroke="#d8c050" stroke-width="4" stroke-linecap="round" stroke-linejoin="round" opacity="0.45" filter="url(#b3)"/></g></g>
<g transform="translate(306.5,418.9) scale(0.9070,0.9090)" clip-path="url(#tclip)"><g filter="url(#hx4)"><g filter="url(#b4)"><rect x="-6.00" y="-6.00" width="18.80" height="18.80" fill="#a85818"/><rect x="12.50" y="-6.00" width="12.80" height="18.80" fill="#b06820"/><rect x="25.00" y="-6.00" width="12.80" height="18.80" fill="#b06828"/><rect x="37.50" y="-6.00" width="12.80" height="18.80" fill="#a05040"/><rect x="50.00" y="-6.00" width="12.80" height="18.80" fill="#8a3020"/><rect x="62.50" y="-6.00" width="12.80" height="18.80" fill="#b06850"/><rect x="75.00" y="-6.00" width="12.80" height="18.80" fill="#9a5020"/><rect x="87.50" y="-6.00" width="18.80" height="18.80" fill="#b87840"/><rect x="-6.00" y="12.50" width="18.80" height="12.80" fill="#b06018"/><rect x="12.50" y="12.50" width="12.80" height="12.80" fill="#c08040"/><rect x="25.00" y="12.50" width="12.80" height="12.80" fill="#d09050"/><rect x="37.50" y="12.50" width="12.80" height="12.80" fill="#a05048"/><rect x="50.00" y="12.50" width="12.80" height="12.80" fill="#a04840"/><rect x="62.50" y="12.50" width="12.80" height="12.80" fill="#8a4018"/><rect x="75.00" y="12.50" width="12.80" height="12.80" fill="#9a5018"/><rect x="87.50" y="12.50" width="18.80" height="12.80" fill="#c08840"/><rect x="-6.00" y="25.00" width="18.80" height="12.80" fill="#a85818"/><rect x="12.50" y="25.00" width="12.80" height="12.80" fill="#c08038"/><rect x="25.00" y="25.00" width="12.80" height="12.80" fill="#d09858"/><rect x="37.50" y="25.00" width="12.80" height="12.80" fill="#a85850"/><rect x="50.00" y="25.00" width="12.80" height="12.80" fill="#a85050"/><rect x="62.50" y="25.00" width="12.80" height="12.80" fill="#7a3010"/><rect x="75.00" y="25.00" width="12.80" height="12.80" fill="#a05820"/><rect x="87.50" y="25.00" width="18.80" height="12.80" fill="#c89048"/><rect x="-6.00" y="37.50" width="18.80" height="12.80" fill="#b06020"/><rect x="12.50" y="37.50" width="12.80" height="12.80" fill="#c08040"/><rect x="25.00" y="37.50" width="12.80" height="12.80" fill="#c89050"/><rect x="37.50" y="37.50" width="12.80" height="12.80" fill="#a86058"/><rect x="50.00" y="37.50" width="12.80" height="12.80" fill="#8a3020"/><rect x="62.50" y="37.50" width="12.80" height="12.80" fill="#8a4818"/><rect x="75.00" y="37.50" width="12.80" height="12.80" fill="#b07830"/><rect x="87.50" y="37.50" width="18.80" height="12.80" fill="#c08060"/><rect x="-6.00" y="50.00" width="18.80" height="12.80" fill="#b06020"/><rect x="12.50" y="50.00" width="12.80" height="12.80" fill="#c07838"/><rect x="25.00" y="50.00" width="12.80" height="12.80" fill="#c08050"/><rect x="37.50" y="50.00" width="12.80" height="12.80" fill="#a05040"/><rect x="50.00" y="50.00" width="12.80" height="12.80" fill="#9a4020"/><rect x="62.50" y="50.00" width="12.80" height="12.80" fill="#b87830"/><rect x="75.00" y="50.00" width="12.80" height="12.80" fill="#c88840"/><rect x="87.50" y="50.00" width="18.80" height="12.80" fill="#c08058"/><rect x="-6.00" y="62.50" width="18.80" height="12.80" fill="#b06828"/><rect x="12.50" y="62.50" width="12.80" height="12.80" fill="#a05828"/><rect x="25.00" y="62.50" width="12.80" height="12.80" fill="#c07850"/><rect x="37.50" y="62.50" width="12.80" height="12.80" fill="#9a4038"/><rect x="50.00" y="62.50" width="12.80" height="12.80" fill="#a85820"/><rect x="62.50" y="62.50" width="12.80" height="12.80" fill="#b88030"/><rect x="75.00" y="62.50" width="12.80" height="12.80" fill="#a05828"/><rect x="87.50" y="62.50" width="18.80" height="12.80" fill="#b87050"/><rect x="-6.00" y="75.00" width="18.80" height="12.80" fill="#c07838"/><rect x="12.50" y="75.00" width="12.80" height="12.80" fill="#a05828"/><rect x="25.00" y="75.00" width="12.80" height="12.80" fill="#c08048"/><rect x="37.50" y="75.00" width="12.80" height="12.80" fill="#8a3828"/><rect x="50.00" y="75.00" width="12.80" height="12.80" fill="#9a4818"/><rect x="62.50" y="75.00" width="12.80" height="12.80" fill="#b06828"/><rect x="75.00" y="75.00" width="12.80" height="12.80" fill="#a85820"/><rect x="87.50" y="75.00" width="18.80" height="12.80" fill="#b06040"/><rect x="-6.00" y="87.50" width="18.80" height="18.80" fill="#b86c30"/><rect x="12.50" y="87.50" width="12.80" height="18.80" fill="#c88850"/><rect x="25.00" y="87.50" width="12.80" height="18.80" fill="#c89050"/><rect x="37.50" y="87.50" width="12.80" height="18.80" fill="#a05030"/><rect x="50.00" y="87.50" width="12.80" height="18.80" fill="#a05020"/><rect x="62.50" y="87.50" width="12.80" height="18.80" fill="#a86020"/><rect x="75.00" y="87.50" width="12.80" height="18.80" fill="#b06828"/><rect x="87.50" y="87.50" width="18.80" height="18.80" fill="#a05828"/></g>
<path d="M51 -2 C49 10 46 22 46 32 C47 40 48 48 46 58 C45 68 44 80 42 104" fill="none" stroke="#7a2818" stroke-width="3" stroke-linecap="round" stroke-linejoin="round" opacity="0.6" filter="url(#b2)"/></g></g>
<g transform="translate(29.2,535.5) scale(0.9050,0.9030)" clip-path="url(#tclip)"><g filter="url(#cm1)"><rect x="-5" y="-5" width="110" height="110" fill="#4c4c4c"/>
<path d="M0 13 C10 20 20 26 36 39 C42 44 46 46 48 48 C54 53 58 56 61 59 C68 66 74 72 77 76 C82 84 86 90 90 100" fill="none" stroke="#949494" stroke-width="2.6" stroke-linecap="round" filter="url(#b1)"/>
<path d="M0 9 C8 12 14 16 22 20" fill="none" stroke="#949494" stroke-width="2.6" stroke-linecap="round" filter="url(#b1)"/>
<path d="M25 0 C27 10 28 20 31 30" fill="none" stroke="#949494" stroke-width="2.6" stroke-linecap="round" filter="url(#b1)"/>
<path d="M100 12 C90 16 80 20 72 23 C64 26 58 29 56 31 C50 35 44 38 40 41" fill="none" stroke="#949494" stroke-width="2.6" stroke-linecap="round" filter="url(#b1)"/>
<path d="M100 31 C88 34 74 37 64 39 C58 41 55 43 53 44" fill="none" stroke="#949494" stroke-width="2.6" stroke-linecap="round" filter="url(#b1)"/>
<path d="M0 62 C10 60 22 59 33 56 C40 54 46 52 52 50" fill="none" stroke="#949494" stroke-width="2.6" stroke-linecap="round" filter="url(#b1)"/>
<path d="M0 76 C10 74 20 73 30 70 C38 68 44 66 50 64" fill="none" stroke="#949494" stroke-width="2.6" stroke-linecap="round" filter="url(#b1)"/>
<path d="M48 64 C56 66 64 70 70 74 C76 80 80 88 78 94 C72 98 62 96 56 92" fill="none" stroke="#949494" stroke-width="2.6" stroke-linecap="round" filter="url(#b1)"/>
<path d="M0 92 C12 89 24 88 36 91 C44 94 52 97 60 100" fill="none" stroke="#949494" stroke-width="2.6" stroke-linecap="round" filter="url(#b1)"/>
<path d="M60 58 C70 62 80 64 90 66 C94 67 98 68 100 68" fill="none" stroke="#949494" stroke-width="2.6" stroke-linecap="round" filter="url(#b1)"/>
<path d="M36 42 C30 48 22 54 14 58" fill="none" stroke="#949494" stroke-width="2.6" stroke-linecap="round" filter="url(#b1)"/>
<path d="M86 40 C90 46 94 52 100 56" fill="none" stroke="#949494" stroke-width="2.6" stroke-linecap="round" filter="url(#b1)"/>
<path d="M8 30 C14 34 18 38 20 44" fill="none" stroke="#949494" stroke-width="2.6" stroke-linecap="round" filter="url(#b1)"/>
<ellipse cx="95" cy="5" rx="6" ry="4" transform="rotate(0 95 5)" fill="#e6e6e6" filter="url(#b1)"/>
<ellipse cx="93" cy="33" rx="5" ry="3" transform="rotate(0 93 33)" fill="#d1d1d1" filter="url(#b1)"/>
<ellipse cx="64" cy="41" rx="6" ry="3" transform="rotate(20 64 41)" fill="#cccccc" filter="url(#b1)"/>
<ellipse cx="46" cy="50" rx="4" ry="2" transform="rotate(0 46 50)" fill="#c7c7c7" filter="url(#b1)"/>
<ellipse cx="76" cy="57" rx="6" ry="3" transform="rotate(0 76 57)" fill="#c7c7c7" filter="url(#b1)"/>
<ellipse cx="34" cy="70" rx="3" ry="3" transform="rotate(0 34 70)" fill="#cccccc" filter="url(#b1)"/>
<ellipse cx="13" cy="78" rx="4" ry="4" transform="rotate(0 13 78)" fill="#cccccc" filter="url(#b1)"/>
<ellipse cx="32" cy="80" rx="3" ry="2" transform="rotate(0 32 80)" fill="#c7c7c7" filter="url(#b1)"/>
<ellipse cx="95" cy="87" rx="4" ry="3" transform="rotate(0 95 87)" fill="#cccccc" filter="url(#b1)"/></g></g>
<g transform="translate(121.2,535.5) scale(0.9080,0.9030)" clip-path="url(#tclip)"><g filter="url(#cm2)"><rect x="-5" y="-5" width="110" height="110" fill="#616161"/>
<ellipse cx="5" cy="5" rx="30" ry="20" transform="rotate(0 5 5)" fill="#757575" filter="url(#b3)"/>
<ellipse cx="10" cy="45" rx="14" ry="25" transform="rotate(0 10 45)" fill="#757575" filter="url(#b3)"/>
<ellipse cx="20" cy="88" rx="25" ry="14" transform="rotate(0 20 88)" fill="#808080" filter="url(#b3)"/>
<ellipse cx="90" cy="80" rx="12" ry="10" transform="rotate(0 90 80)" fill="#737373" filter="url(#b3)"/>
<ellipse cx="60" cy="10" rx="12" ry="6" transform="rotate(0 60 10)" fill="#707070" filter="url(#b3)"/>
<ellipse cx="30" cy="41" rx="13" ry="6" transform="rotate(-30 30 41)" fill="#d1d1d1" filter="url(#b2)"/>
<ellipse cx="56" cy="27" rx="6" ry="4" transform="rotate(0 56 27)" fill="#c7c7c7" filter="url(#b2)"/>
<ellipse cx="72" cy="16" rx="4" ry="4" transform="rotate(0 72 16)" fill="#c2c2c2" filter="url(#b2)"/>
<ellipse cx="86" cy="34" rx="11" ry="4" transform="rotate(-45 86 34)" fill="#d1d1d1" filter="url(#b2)"/>
<ellipse cx="88" cy="53" rx="7" ry="3" transform="rotate(0 88 53)" fill="#c7c7c7" filter="url(#b2)"/>
<ellipse cx="10" cy="90" rx="9" ry="10" transform="rotate(0 10 90)" fill="#d9d9d9" filter="url(#b2)"/>
<ellipse cx="30" cy="88" rx="7" ry="4" transform="rotate(0 30 88)" fill="#cccccc" filter="url(#b2)"/>
<ellipse cx="49" cy="94" rx="5" ry="4" transform="rotate(0 49 94)" fill="#c7c7c7" filter="url(#b2)"/>
<ellipse cx="40" cy="29" rx="4" ry="3" transform="rotate(0 40 29)" fill="#bdbdbd" filter="url(#b2)"/>
<ellipse cx="10" cy="41" rx="5" ry="4" transform="rotate(0 10 41)" fill="#bdbdbd" filter="url(#b2)"/>
<ellipse cx="64" cy="48" rx="5" ry="3" transform="rotate(0 64 48)" fill="#b2b2b2" filter="url(#b2)"/>
<ellipse cx="80" cy="92" rx="5" ry="3" transform="rotate(0 80 92)" fill="#b8b8b8" filter="url(#b2)"/></g></g>
<g transform="translate(214.0,535.5) scale(0.9040,0.9030)" clip-path="url(#tclip)"><g filter="url(#cm3)"><rect x="-5" y="-5" width="110" height="110" fill="#808080"/>
<ellipse cx="86" cy="20" rx="14" ry="10" transform="rotate(0 86 20)" fill="#4c4c4c" filter="url(#b3)"/>
<ellipse cx="55" cy="75" rx="18" ry="6" transform="rotate(0 55 75)" fill="#5c5c5c" filter="url(#b3)"/>
<ellipse cx="88" cy="70" rx="8" ry="5" transform="rotate(0 88 70)" fill="#595959" filter="url(#b3)"/>
<ellipse cx="40" cy="45" rx="8" ry="6" transform="rotate(0 40 45)" fill="#616161" filter="url(#b3)"/>
<ellipse cx="10" cy="70" rx="8" ry="6" transform="rotate(0 10 70)" fill="#616161" filter="url(#b3)"/>
<ellipse cx="6" cy="35" rx="7" ry="12" transform="rotate(0 6 35)" fill="#dbdbdb" filter="url(#b2)"/>
<ellipse cx="13" cy="56" rx="5" ry="4" transform="rotate(0 13 56)" fill="#cccccc" filter="url(#b2)"/>
<ellipse cx="21" cy="6" rx="4" ry="4" transform="rotate(0 21 6)" fill="#c7c7c7" filter="url(#b2)"/>
<ellipse cx="36" cy="29" rx="8" ry="4" transform="rotate(0 36 29)" fill="#cccccc" filter="url(#b2)"/>
<ellipse cx="63" cy="44" rx="6" ry="9" transform="rotate(0 63 44)" fill="#cccccc" filter="url(#b2)"/>
<ellipse cx="65" cy="51" rx="6" ry="4" transform="rotate(0 65 51)" fill="#d9d9d9" filter="url(#b2)"/>
<ellipse cx="91" cy="45" rx="9" ry="9" transform="rotate(0 91 45)" fill="#dbdbdb" filter="url(#b2)"/>
<ellipse cx="70" cy="92" rx="10" ry="8" transform="rotate(0 70 92)" fill="#e0e0e0" filter="url(#b2)"/>
<ellipse cx="31" cy="87" rx="10" ry="9" transform="rotate(0 31 87)" fill="#d1d1d1" filter="url(#b2)"/>
<ellipse cx="75" cy="14" rx="5" ry="5" transform="rotate(0 75 14)" fill="#c7c7c7" filter="url(#b2)"/>
<ellipse cx="94" cy="78" rx="6" ry="6" transform="rotate(0 94 78)" fill="#cccccc" filter="url(#b2)"/>
<ellipse cx="42" cy="69" rx="4" ry="4" transform="rotate(0 42 69)" fill="#c2c2c2" filter="url(#b2)"/>
<ellipse cx="52" cy="20" rx="5" ry="4" transform="rotate(0 52 20)" fill="#bdbdbd" filter="url(#b2)"/>
<ellipse cx="22" cy="20" rx="4" ry="3" transform="rotate(0 22 20)" fill="#bdbdbd" filter="url(#b2)"/></g></g>
<g transform="translate(306.5,535.5) scale(0.9070,0.9030)" clip-path="url(#tclip)"><g filter="url(#cm4)"><rect x="-5" y="-5" width="110" height="110" fill="#878787"/>
<ellipse cx="18" cy="16" rx="20" ry="14" transform="rotate(0 18 16)" fill="#4c4c4c" filter="url(#b3)"/>
<ellipse cx="8" cy="46" rx="9" ry="14" transform="rotate(0 8 46)" fill="#525252" filter="url(#b3)"/>
<ellipse cx="95" cy="45" rx="6" ry="16" transform="rotate(0 95 45)" fill="#525252" filter="url(#b3)"/>
<ellipse cx="75" cy="72" rx="25" ry="11" transform="rotate(0 75 72)" fill="#616161" filter="url(#b3)"/>
<ellipse cx="8" cy="92" rx="8" ry="8" transform="rotate(0 8 92)" fill="#5c5c5c" filter="url(#b3)"/>
<ellipse cx="58" cy="10" rx="12" ry="9" transform="rotate(0 58 10)" fill="#575757" filter="url(#b3)"/>
<ellipse cx="82" cy="34" rx="13" ry="24" transform="rotate(0 82 34)" fill="#d6d6d6" filter="url(#b3)"/>
<ellipse cx="44" cy="40" rx="26" ry="10" transform="rotate(0 44 40)" fill="#c7c7c7" filter="url(#b3)"/>
<ellipse cx="35" cy="64" rx="8" ry="18" transform="rotate(25 35 64)" fill="#cccccc" filter="url(#b3)"/>
<ellipse cx="10" cy="71" rx="8" ry="10" transform="rotate(0 10 71)" fill="#c7c7c7" filter="url(#b3)"/>
<ellipse cx="32" cy="90" rx="14" ry="10" transform="rotate(0 32 90)" fill="#c7c7c7" filter="url(#b3)"/>
<ellipse cx="41" cy="20" rx="6" ry="5" transform="rotate(0 41 20)" fill="#bdbdbd" filter="url(#b3)"/>
<ellipse cx="93" cy="6" rx="7" ry="4" transform="rotate(0 93 6)" fill="#cccccc" filter="url(#b3)"/>
<ellipse cx="62" cy="48" rx="10" ry="6" transform="rotate(0 62 48)" fill="#c7c7c7" filter="url(#b3)"/></g></g>
<rect x="411.2" y="436.6" width="11.2" height="57.6" fill="url(#cbh)" stroke="#111" stroke-width="1"/>
<rect x="411.2" y="554.7" width="9.8" height="55.8" fill="url(#cbc)" stroke="#111" stroke-width="1"/>
<text x="414.5" y="419.8" font-size="14" text-anchor="middle" font-weight="bold" fill="#000" >(nm)</text>
<text x="415.8" y="432.8" font-size="14" text-anchor="middle" font-weight="bold" fill="#000" >185</text>
<text x="415.2" y="506.6" font-size="14" text-anchor="middle" font-weight="bold" fill="#000" >-185</text>
<text x="414.7" y="536.9" font-size="14" text-anchor="middle" font-weight="bold" fill="#000" >(nA)</text>
<text x="416.2" y="550.3" font-size="14" text-anchor="middle" font-weight="bold" fill="#000" >600</text>
<text x="415.5" y="621.8" font-size="14" text-anchor="middle" font-weight="bold" fill="#000" >0</text>
<text x="371.6" y="498.8" font-size="14.4" text-anchor="middle" font-weight="bold" fill="#fff" >200 nm</text>
<rect x="353.6" y="502.6" width="35.7" height="3.8" fill="#fff"/>
<text x="371.9" y="613.5" font-size="14.4" text-anchor="middle" font-weight="bold" fill="#fff" >200 nm</text>
<rect x="353.6" y="618.6" width="35.3" height="3.9" fill="#fff"/>
</svg></body></html>
